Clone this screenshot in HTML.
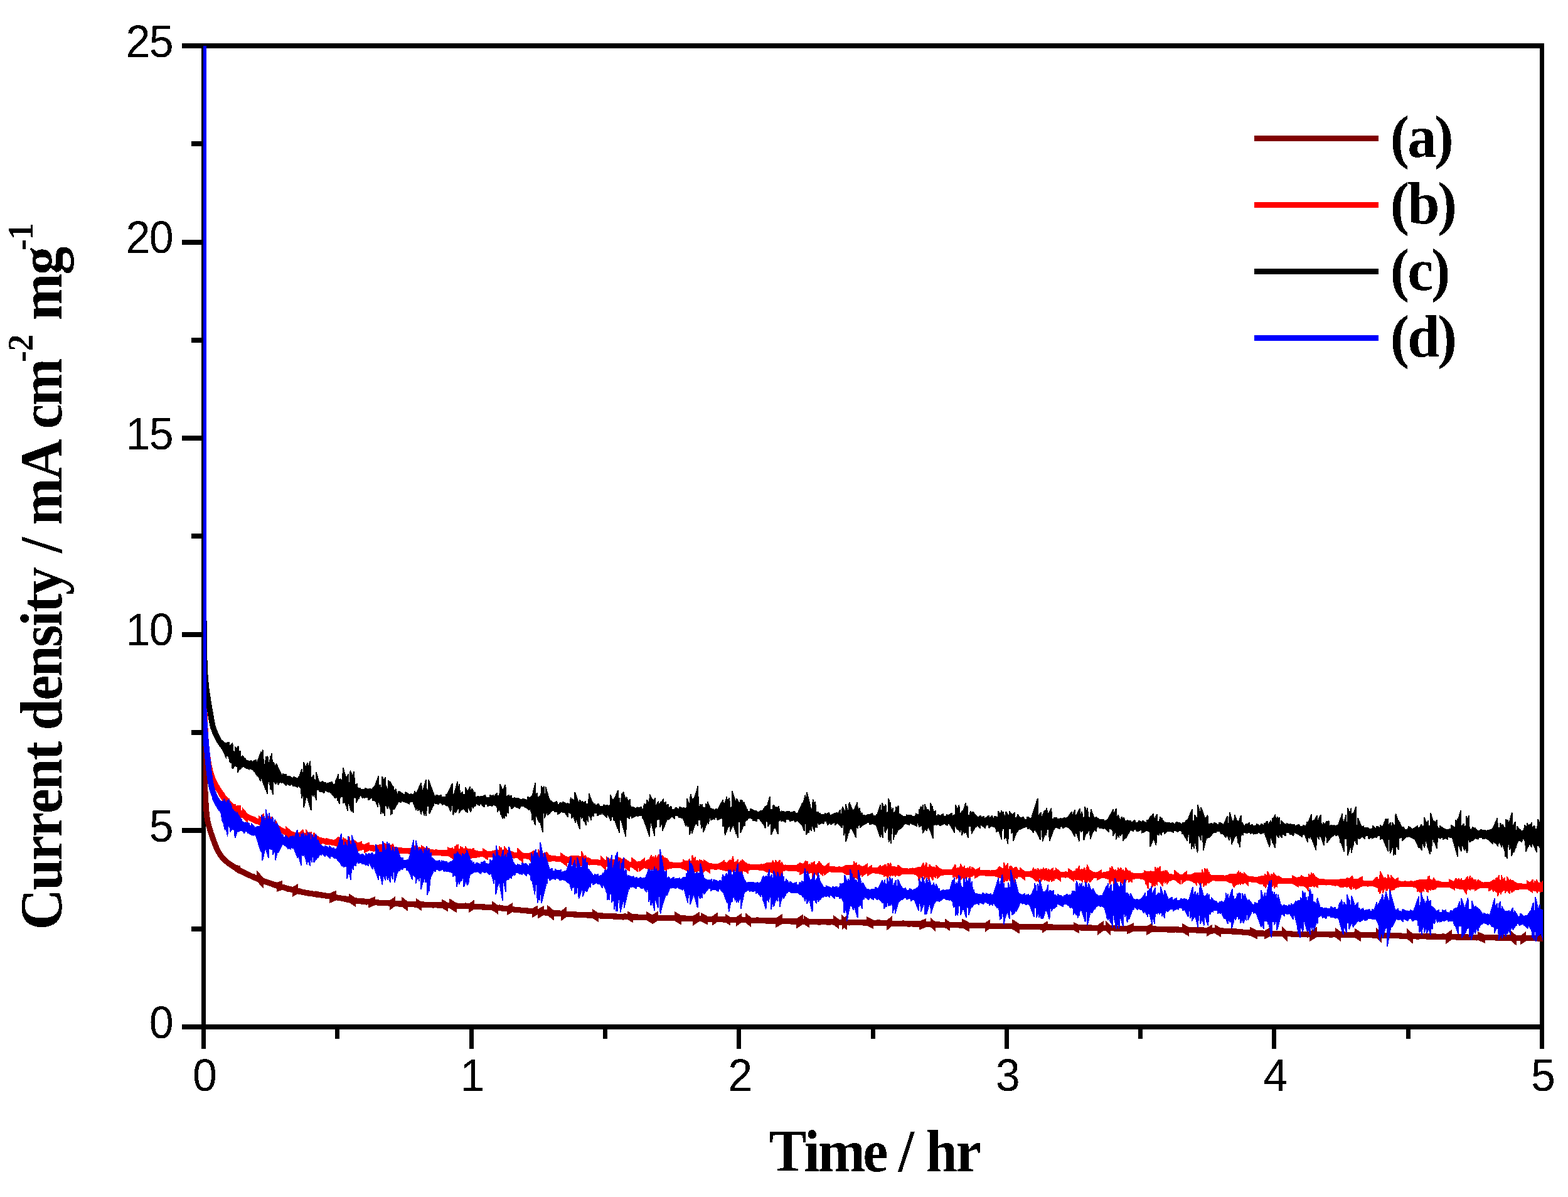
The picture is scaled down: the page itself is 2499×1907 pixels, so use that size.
<!DOCTYPE html>
<html lang="en">
<head>
<meta charset="utf-8">
<title>Chronoamperometry: current density vs time</title>
<style>
html,body{margin:0;padding:0;background:#fff;}
body{width:2499px;height:1907px;overflow:hidden;}
svg{display:block;}
text{font-kerning:none;filter:url(#crisp);}
.tick{font-family:"Liberation Sans",Arial,Helvetica,sans-serif;font-size:71.7px;fill:#000;letter-spacing:-1.5px;}
.ttl{font-family:"Liberation Serif","Times New Roman",Times,serif;font-weight:bold;font-size:96px;fill:#000;letter-spacing:-2.7px;}
.leg{font-family:"Liberation Serif","Times New Roman",Times,serif;font-weight:bold;font-size:96px;fill:#000;letter-spacing:-3.4px;}
.sup{font-size:58px;letter-spacing:-1px;}
.ax{fill:#000;shape-rendering:crispEdges;}
.ln{fill:none;stroke-width:9;stroke-linejoin:round;stroke-linecap:butt;shape-rendering:crispEdges;}
.bd{stroke:none;shape-rendering:crispEdges;}
</style>
</head>
<body>
<svg width="2499" height="1907" viewBox="0 0 2499 1907" role="img" aria-label="Current density versus time for samples (a) to (d)">
<rect x="0" y="0" width="2499" height="1907" fill="#fff"/>
<defs><filter id="crisp" x="-5%" y="-5%" width="110%" height="110%" color-interpolation-filters="sRGB"><feComponentTransfer><feFuncA type="discrete" tableValues="0 1"/></feComponentTransfer></filter><clipPath id="plot"><rect x="324" y="73" width="2135" height="1563"/></clipPath></defs>
<g class="ax">
<rect x="321" y="69" width="7" height="1602"/>
<rect x="2454" y="69" width="7" height="1602"/>
<rect x="290" y="69" width="2171" height="8"/>
<rect x="290" y="1632" width="2171" height="8"/>
<rect x="290" y="1319" width="31" height="8"/>
<rect x="290" y="1007" width="31" height="8"/>
<rect x="290" y="694" width="31" height="8"/>
<rect x="290" y="382" width="31" height="8"/>
<rect x="305" y="1476" width="16" height="8"/>
<rect x="305" y="1163" width="16" height="8"/>
<rect x="305" y="850" width="16" height="8"/>
<rect x="305" y="538" width="16" height="8"/>
<rect x="305" y="225" width="16" height="8"/>
<rect x="748" y="1640" width="7" height="31"/>
<rect x="1174" y="1640" width="7" height="31"/>
<rect x="1601" y="1640" width="7" height="31"/>
<rect x="2027" y="1640" width="7" height="31"/>
<rect x="534" y="1640" width="7" height="15"/>
<rect x="961" y="1640" width="7" height="15"/>
<rect x="1388" y="1640" width="7" height="15"/>
<rect x="1814" y="1640" width="7" height="15"/>
<rect x="2241" y="1640" width="7" height="15"/>
</g>
<g class="tick">
<text transform="translate(275.3,1653.6) scale(0.976,1)" text-anchor="end">0</text>
<text transform="translate(275.3,1341.0) scale(0.976,1)" text-anchor="end">5</text>
<text transform="translate(275.3,1028.4) scale(0.976,1)" text-anchor="end">10</text>
<text transform="translate(275.3,715.8) scale(0.976,1)" text-anchor="end">15</text>
<text transform="translate(275.3,403.2) scale(0.976,1)" text-anchor="end">20</text>
<text transform="translate(275.3,90.6) scale(0.976,1)" text-anchor="end">25</text>
<text transform="translate(325.7,1738.2) scale(0.976,1)" text-anchor="middle">0</text>
<text transform="translate(752.3,1738.2) scale(0.976,1)" text-anchor="middle">1</text>
<text transform="translate(1178.9,1738.2) scale(0.976,1)" text-anchor="middle">2</text>
<text transform="translate(1605.5,1738.2) scale(0.976,1)" text-anchor="middle">3</text>
<text transform="translate(2032.1,1738.2) scale(0.976,1)" text-anchor="middle">4</text>
<text transform="translate(2458.7,1738.2) scale(0.976,1)" text-anchor="middle">5</text>
</g>
<text class="ttl" transform="translate(1225.4,1866.2) scale(0.940,1)" dx="0 -1.6 0 -1.6 0 -1 0 1.5 0">Time / hr</text>
<text class="ttl" transform="translate(98,1481.5) rotate(-90) scale(0.940,1)" dx="0 0 0 0 0 0 0 0 0 0 0 0 0 0 0 0 4.6 0 1.8 0 0 -2 0">Current density / mA cm<tspan class="sup" x="962.2" dy="-45.9">-2</tspan><tspan x="1011.8" dy="45.9"> mg</tspan><tspan class="sup" x="1151.5" dy="-45.9">-1</tspan></text>
<g clip-path="url(#plot)">
<polyline class="ln" stroke="#800000" points="324.5,-400 324.5,-397 324.5,-394 324.5,-391 324.5,-388 324.5,-385 324.5,-382 324.5,-379 324.5,-376 324.5,-373 324.5,-370 324.5,-367 324.5,-364 324.5,-361 324.5,-358 324.5,-355 324.5,-351.9 324.5,-348.9 324.5,-345.9 324.5,-342.9 324.5,-339.9 324.5,-336.9 324.5,-333.9 324.5,-330.9 324.5,-327.9 324.5,-324.9 324.5,-321.9 324.5,-318.9 324.5,-315.9 324.5,-312.9 324.5,-309.9 324.5,-306.9 324.5,-303.9 324.5,-300.9 324.5,-297.9 324.5,-294.9 324.5,-291.9 324.5,-288.9 324.5,-285.9 324.5,-282.9 324.5,-279.9 324.5,-276.9 324.5,-273.9 324.5,-270.9 324.5,-267.9 324.5,-264.9 324.5,-261.9 324.5,-258.9 324.5,-255.9 324.5,-252.9 324.5,-249.9 324.5,-246.8 324.5,-243.8 324.5,-240.8 324.5,-237.8 324.5,-234.8 324.5,-231.8 324.5,-228.8 324.5,-225.8 324.5,-222.8 324.5,-219.8 324.5,-216.8 324.5,-213.8 324.5,-210.8 324.5,-207.8 324.5,-204.8 324.5,-201.8 324.5,-198.8 324.5,-195.8 324.5,-192.8 324.5,-189.8 324.5,-186.8 324.5,-183.8 324.5,-180.8 324.5,-177.8 324.5,-174.8 324.5,-171.8 324.5,-168.8 324.5,-165.8 324.5,-162.8 324.5,-159.8 324.5,-156.8 324.5,-153.8 324.5,-150.8 324.5,-147.8 324.5,-144.8 324.5,-141.8 324.5,-138.8 324.5,-135.8 324.5,-132.8 324.5,-129.8 324.5,-126.8 324.5,-123.8 324.5,-120.8 324.5,-117.8 324.5,-114.8 324.5,-111.7 324.5,-108.7 324.5,-105.7 324.5,-102.7 324.5,-99.7 324.5,-96.7 324.5,-93.7 324.5,-90.7 324.5,-87.7 324.5,-84.7 324.5,-81.7 324.5,-78.7 324.5,-75.7 324.5,-72.7 324.5,-69.7 324.5,-66.7 324.5,-63.7 324.5,-60.7 324.5,-57.7 324.5,-54.7 324.5,-51.7 324.5,-48.7 324.5,-45.7 324.5,-42.7 324.5,-39.7 324.5,-36.7 324.5,-33.7 324.5,-30.7 324.5,-27.7 324.5,-24.7 324.5,-21.7 324.5,-18.7 324.5,-15.7 324.5,-12.7 324.5,-9.7 324.5,-6.7 324.5,-3.7 324.5,-0.7 324.5,2.3 324.5,5.3 324.5,8.3 324.5,11.3 324.5,14.3 324.5,17.3 324.5,20.3 324.5,23.3 324.5,26.3 324.5,29.3 324.5,32.3 324.5,35.3 324.5,38.3 324.5,41.3 324.5,44.3 324.5,47.3 324.5,50.3 324.5,53.3 324.5,56.3 324.5,59.3 324.5,62.3 324.5,65.3 324.5,68.3 324.5,71.3 324.5,74.3 324.5,77.3 324.5,80.3 324.5,83.3 324.5,86.3 324.5,89.3 324.5,92.3 324.5,95.3 324.5,98.3 324.5,101.3 324.5,104.3 324.5,107.4 324.5,110.4 324.5,113.4 324.5,116.4 324.5,119.4 324.5,122.4 324.5,125.4 324.5,128.4 324.5,131.4 324.5,134.4 324.5,137.4 324.5,140.4 324.5,143.4 324.5,146.4 324.5,149.4 324.5,152.4 324.5,155.4 324.5,158.4 324.5,161.4 324.5,164.4 324.5,167.4 324.5,170.4 324.5,173.4 324.5,176.4 324.5,179.4 324.5,182.4 324.5,185.4 324.5,188.4 324.5,191.4 324.5,194.4 324.5,197.4 324.5,200.4 324.5,203.4 324.5,206.4 324.5,209.4 324.5,212.4 324.5,215.4 324.5,218.4 324.5,221.4 324.5,224.4 324.5,227.4 324.5,230.4 324.5,233.4 324.5,236.4 324.5,239.4 324.5,242.4 324.5,245.4 324.5,248.4 324.5,251.4 324.5,254.4 324.5,257.4 324.5,260.4 324.5,263.4 324.5,266.4 324.5,269.4 324.5,272.4 324.5,275.4 324.5,278.4 324.5,281.4 324.5,284.4 324.5,287.4 324.5,290.4 324.5,293.4 324.5,296.4 324.5,299.4 324.5,302.4 324.5,305.4 324.5,308.4 324.5,311.4 324.5,314.4 324.5,317.4 324.5,320.4 324.5,323.4 324.5,326.4 324.5,329.4 324.5,332.4 324.5,335.4 324.5,338.4 324.5,341.4 324.5,344.4 324.5,347.4 324.5,350.4 324.5,353.4 324.5,356.4 324.5,359.4 324.5,362.4 324.5,365.4 324.5,368.4 324.5,371.4 324.5,374.4 324.5,377.4 324.5,380.4 324.5,383.4 324.5,386.4 324.5,389.4 324.5,392.4 324.5,395.4 324.5,398.4 324.5,401.4 324.5,404.4 324.5,407.4 324.5,410.4 324.5,413.4 324.5,416.4 324.5,419.4 324.5,422.4 324.5,425.4 324.5,428.4 324.5,431.4 324.5,434.4 324.5,437.4 324.5,440.4 324.5,443.4 324.5,446.4 324.5,449.4 324.5,452.4 324.5,455.4 324.5,458.4 324.5,461.4 324.5,464.4 324.5,467.4 324.5,470.4 324.5,473.4 324.5,476.4 324.5,479.4 324.5,482.4 324.5,485.4 324.5,488.4 324.5,491.4 324.5,494.4 324.5,497.4 324.5,500.4 324.5,503.4 324.5,506.4 324.5,509.4 324.5,512.4 324.5,515.4 324.5,518.4 324.5,521.4 324.5,524.4 324.5,527.4 324.5,530.4 324.5,533.4 324.5,536.4 324.5,539.4 324.5,542.4 324.5,545.4 324.5,548.4 324.5,551.4 324.5,554.4 324.5,557.4 324.5,560.4 324.5,563.4 324.5,566.4 324.5,569.3 324.5,572.3 324.5,575.3 324.5,578.3 324.5,581.3 324.5,584.3 324.5,587.3 324.5,590.3 324.5,593.3 324.5,596.3 324.5,599.3 324.5,602.3 324.5,605.3 324.5,608.3 324.5,611.3 324.5,614.3 324.5,617.3 324.5,620.3 324.5,623.3 324.5,626.3 324.5,629.3 324.5,632.3 324.5,635.3 324.5,638.3 324.5,641.3 324.5,644.3 324.5,647.3 324.5,650.3 324.5,653.3 324.5,656.3 324.5,659.3 324.5,662.3 324.5,665.3 324.5,668.3 324.5,671.3 324.5,674.3 324.5,677.3 324.5,680.3 324.5,683.3 324.5,686.3 324.5,689.3 324.5,692.3 324.5,695.3 324.5,698.3 324.5,701.3 324.5,704.3 324.5,707.3 324.5,710.3 324.5,713.3 324.5,716.3 324.5,719.3 324.5,722.3 324.5,725.3 324.5,728.3 324.5,731.3 324.5,734.3 324.5,737.3 324.5,740.3 324.5,743.3 324.5,746.3 324.5,749.3 324.5,752.3 324.5,755.3 324.5,758.3 324.5,761.3 324.5,764.3 324.5,767.3 324.5,770.3 324.5,773.3 324.5,776.3 324.5,779.3 324.5,782.3 324.5,785.3 324.5,788.3 324.5,791.3 324.5,794.3 324.5,797.3 324.5,800.3 324.5,803.3 324.5,806.3 324.5,809.3 324.5,812.3 324.5,815.3 324.5,818.3 324.5,821.3 324.5,824.2 324.5,827.2 324.5,830.2 324.5,833.2 324.5,836.2 324.5,839.2 324.5,842.2 324.5,845.2 324.5,848.2 324.5,851.2 324.5,854.2 324.5,857.2 324.5,860.2 324.5,863.2 324.5,866.2 324.5,869.2 324.5,872.2 324.5,875.2 324.5,878.2 324.5,881.2 324.5,884.2 324.5,887.2 324.5,890.2 324.5,893.2 324.5,896.2 324.5,899.2 324.5,902.2 324.5,905.2 324.5,908.2 324.5,911.2 324.5,914.2 324.5,917.2 324.5,920.2 324.5,923.2 324.5,926.2 324.5,929.2 324.5,932.2 324.5,935.2 324.5,938.2 324.5,941.2 324.5,944.2 324.5,947.2 324.5,950.2 324.5,953.2 324.5,956.2 324.5,959.2 324.5,962.2 324.5,965.2 324.5,968.2 324.5,971.2 324.5,974.2 324.5,977.2 324.5,980.2 324.5,983.2 324.5,986.2 324.5,989.2 324.5,992.2 324.5,995.2 324.5,998.1 324.5,1001.1 324.5,1004.1 324.5,1007.1 324.5,1010.1 324.5,1013.1 324.5,1016.1 324.5,1019.1 324.5,1022.1 324.5,1025.1 324.5,1028.1 324.5,1031.1 324.5,1034.1 324.5,1037.1 324.5,1040.1 324.5,1043.1 324.5,1046.1 324.5,1049.1 324.5,1052.1 324.5,1055.1 324.5,1058.1 324.5,1061.1 324.5,1064.1 324.5,1067.1 324.5,1070.1 324.5,1073.1 324.5,1076.1 324.5,1079.1 324.5,1082.1 324.5,1085.1 324.5,1088.1 324.5,1091.1 324.5,1094.1 324.5,1097.1 324.5,1100.1 324.5,1103.1 324.5,1106.1 324.5,1109.1 324.5,1112.1 324.5,1115.1 324.5,1118.1 324.5,1121.1 324.5,1124.1 324.5,1127.1 324.5,1130.1 324.5,1133.1 324.5,1136.1 324.5,1139.1 324.5,1142.1 324.5,1145 324.5,1148 324.5,1151 324.5,1154 324.5,1157 324.5,1160 324.5,1163 324.5,1166 324.5,1169 324.5,1172 324.5,1175 324.5,1178 324.5,1181 324.5,1184 324.5,1187 324.5,1190 324.5,1193 324.5,1196 324.5,1199 324.5,1202 324.5,1205 324.5,1208 324.5,1211 324.5,1214 324.6,1217 324.7,1220 324.9,1223 325.1,1226 325.2,1229 325.4,1232 325.6,1235 325.8,1238 325.9,1241 326.1,1244 326.2,1247 326.4,1250 326.6,1252.9 326.8,1255.9 326.9,1258.9 327.1,1261.9 327.3,1264.9 327.4,1267.9 327.6,1270.9 327.8,1274 327.9,1277 328.1,1280 328.3,1283 328.5,1286 328.7,1289 328.9,1291.9 329.2,1294.9 329.5,1297.9 329.8,1300.8 330.2,1303.8 330.7,1306.7 331.3,1309.6 332,1312.6 332.8,1315.5 333.6,1318.4 334.5,1321.3 335.4,1324.2 336.3,1327.1 337.3,1329.9 338.3,1332.8 339.3,1335.6 340.2,1338.4 341.3,1341.3 342.4,1344.1 343.5,1347 344.7,1349.9 345.9,1352.7 347.3,1355.4 348.7,1358 350.2,1360.6 351.7,1362.9 353.4,1365.2 355.3,1367.4 357.4,1369.5 359.7,1371.5 362,1373.5 364.5,1375.4 367,1377.2 369.5,1379 372,1380.7 374.5,1382.3 377,1383.9 379.6,1385.4 382.2,1386.9 384.9,1388.3 387.6,1389.7 390.3,1391 393,1392.3 395.7,1393.6 398.5,1394.8 401.2,1396 404,1397.2 406.7,1398.3 409.5,1399.5 412.3,1400.6 415.1,1401.7 417.9,1402.7 420.7,1403.8 423.5,1404.8 426.4,1405.9 429.2,1406.8 432.1,1407.8 434.9,1408.7 437.8,1409.7 440.7,1410.6 443.5,1411.4 446.4,1412.3 449.3,1413.1 452.1,1413.9 455,1414.7 457.9,1415.5 460.8,1416.2 463.8,1417 466.7,1417.7 469.6,1418.4 472.5,1419.1 475.5,1419.8 478.4,1420.4 481.3,1421 484.3,1421.6 487.2,1422.2 490.2,1422.7 493.1,1423.2 496.1,1423.7 499,1424.1 502,1424.5 505,1424.9 508,1425.3 510.9,1425.7 513.9,1426.1 516.9,1426.6 519.9,1427 522.8,1427.5 525.8,1428 528.7,1428.5 531.7,1429 534.7,1429.5 537.6,1430 540.6,1430.6 543.5,1431.1 546.5,1431.6 549.5,1432.1 552.4,1432.6 555.4,1433.1 558.4,1433.6 561.3,1434 564.3,1434.5 567.3,1434.9 570.2,1435.3 573.2,1435.6 576.2,1436 579.1,1436.3 582.1,1436.5 585.1,1436.8 588.1,1437 591.1,1437.2 594.1,1437.5 597.1,1437.7 600,1437.9 603,1438.1 606,1438.2 609,1438.4 612,1438.6 615,1438.8 618,1438.9 621,1439.1 624,1439.2 627,1439.4 630,1439.5 633,1439.7 636,1439.8 639,1439.9 642,1440.1 645,1440.2 648,1440.3 651,1440.4 654,1440.5 657,1440.6 660,1440.7 663,1440.8 666,1440.9 669,1441 672,1441.1 675,1441.2 678,1441.3 681,1441.4 684,1441.5 687,1441.6 690,1441.7 693,1441.8 696,1441.9 699,1442 702,1442.1 705,1442.2 708,1442.3 711,1442.4 714,1442.5 717,1442.7 720,1442.8 723,1442.9 726,1443 729,1443.1 732,1443.2 735,1443.4 738,1443.5 741,1443.6 744,1443.7 747,1443.9 750,1444 753,1444.1 756,1444.3 759,1444.4 762,1444.6 764.9,1444.7 767.9,1444.9 770.9,1445 773.9,1445.2 776.9,1445.4 779.9,1445.5 782.9,1445.7 785.9,1445.9 788.9,1446.1 791.9,1446.3 794.9,1446.5 797.9,1446.8 800.8,1447 803.8,1447.3 806.8,1447.6 809.8,1447.9 812.8,1448.3 815.8,1448.6 818.8,1448.9 821.7,1449.2 824.7,1449.6 827.7,1449.9 830.7,1450.2 833.7,1450.5 836.7,1450.8 839.7,1451 842.6,1451.3 845.6,1451.6 848.6,1451.9 851.6,1452.1 854.6,1452.4 857.6,1452.7 860.6,1452.9 863.6,1453.2 866.5,1453.5 869.5,1453.7 872.5,1454 875.5,1454.2 878.5,1454.5 881.5,1454.7 884.5,1454.9 887.5,1455.2 890.5,1455.4 893.5,1455.6 896.5,1455.8 899.5,1456 902.4,1456.1 905.4,1456.3 908.4,1456.5 911.4,1456.7 914.4,1456.8 917.4,1457 920.4,1457.2 923.4,1457.3 926.4,1457.5 929.4,1457.7 932.4,1457.8 935.4,1458 938.4,1458.1 941.4,1458.3 944.4,1458.4 947.4,1458.5 950.4,1458.7 953.4,1458.8 956.4,1459 959.4,1459.1 962.4,1459.2 965.4,1459.4 968.4,1459.5 971.4,1459.6 974.4,1459.7 977.4,1459.9 980.4,1460 983.4,1460.1 986.3,1460.2 989.3,1460.3 992.3,1460.4 995.3,1460.5 998.3,1460.6 1001.3,1460.7 1004.3,1460.8 1007.3,1460.9 1010.3,1461 1013.3,1461.1 1016.3,1461.2 1019.3,1461.3 1022.3,1461.4 1025.3,1461.5 1028.3,1461.6 1031.3,1461.7 1034.3,1461.7 1037.3,1461.8 1040.3,1461.9 1043.3,1462 1046.3,1462 1049.3,1462.1 1052.3,1462.2 1055.3,1462.3 1058.3,1462.3 1061.3,1462.4 1064.3,1462.5 1067.3,1462.5 1070.3,1462.6 1073.3,1462.7 1076.3,1462.8 1079.3,1462.8 1082.3,1462.9 1085.3,1463 1088.3,1463.1 1091.3,1463.1 1094.3,1463.2 1097.3,1463.3 1100.3,1463.4 1103.3,1463.4 1106.3,1463.5 1109.3,1463.6 1112.3,1463.7 1115.3,1463.7 1118.3,1463.8 1121.3,1463.9 1124.3,1463.9 1127.3,1464 1130.3,1464.1 1133.3,1464.2 1136.3,1464.2 1139.3,1464.3 1142.3,1464.4 1145.3,1464.5 1148.3,1464.5 1151.3,1464.6 1154.3,1464.7 1157.3,1464.8 1160.3,1464.9 1163.3,1465 1166.3,1465 1169.3,1465.1 1172.3,1465.2 1175.3,1465.3 1178.3,1465.4 1181.3,1465.5 1184.3,1465.6 1187.3,1465.7 1190.3,1465.8 1193.3,1465.9 1196.3,1466 1199.3,1466 1202.3,1466.1 1205.3,1466.2 1208.3,1466.3 1211.3,1466.4 1214.3,1466.5 1217.3,1466.6 1220.3,1466.7 1223.3,1466.8 1226.3,1466.9 1229.3,1467 1232.3,1467 1235.3,1467.1 1238.3,1467.2 1241.2,1467.3 1244.2,1467.4 1247.2,1467.5 1250.2,1467.5 1253.2,1467.6 1256.2,1467.7 1259.2,1467.8 1262.2,1467.9 1265.2,1467.9 1268.2,1468 1271.2,1468.1 1274.2,1468.2 1277.2,1468.2 1280.2,1468.3 1283.2,1468.3 1286.2,1468.4 1289.2,1468.4 1292.2,1468.5 1295.2,1468.5 1298.2,1468.5 1301.2,1468.6 1304.2,1468.6 1307.2,1468.6 1310.2,1468.7 1313.2,1468.7 1316.2,1468.7 1319.2,1468.8 1322.2,1468.8 1325.2,1468.8 1328.2,1468.9 1331.2,1468.9 1334.2,1469 1337.2,1469 1340.2,1469.1 1343.2,1469.1 1346.2,1469.2 1349.2,1469.2 1352.2,1469.3 1355.2,1469.4 1358.2,1469.4 1361.2,1469.5 1364.2,1469.5 1367.2,1469.6 1370.2,1469.7 1373.2,1469.7 1376.2,1469.8 1379.2,1469.9 1382.2,1470 1385.2,1470 1388.2,1470.1 1391.2,1470.2 1394.2,1470.3 1397.2,1470.3 1400.2,1470.4 1403.2,1470.5 1406.2,1470.6 1409.2,1470.7 1412.2,1470.8 1415.2,1470.8 1418.2,1470.9 1421.2,1471 1424.2,1471.1 1427.2,1471.2 1430.2,1471.3 1433.2,1471.3 1436.2,1471.4 1439.2,1471.5 1442.2,1471.6 1445.2,1471.7 1448.2,1471.8 1451.2,1471.9 1454.2,1471.9 1457.2,1472 1460.2,1472.1 1463.2,1472.2 1466.2,1472.3 1469.2,1472.4 1472.2,1472.4 1475.2,1472.5 1478.2,1472.6 1481.2,1472.7 1484.2,1472.8 1487.2,1472.9 1490.2,1472.9 1493.2,1473 1496.2,1473.1 1499.2,1473.2 1502.2,1473.2 1505.2,1473.3 1508.2,1473.4 1511.2,1473.5 1514.2,1473.5 1517.2,1473.6 1520.2,1473.7 1523.2,1473.7 1526.2,1473.8 1529.2,1473.9 1532.2,1473.9 1535.2,1474 1538.2,1474.1 1541.2,1474.2 1544.2,1474.2 1547.2,1474.3 1550.2,1474.4 1553.2,1474.4 1556.2,1474.5 1559.2,1474.6 1562.2,1474.7 1565.2,1474.7 1568.2,1474.8 1571.2,1474.9 1574.2,1474.9 1577.2,1475 1580.2,1475.1 1583.2,1475.1 1586.2,1475.2 1589.2,1475.3 1592.2,1475.3 1595.2,1475.4 1598.2,1475.5 1601.2,1475.6 1604.2,1475.6 1607.1,1475.7 1610.1,1475.8 1613.1,1475.8 1616.1,1475.9 1619.1,1476 1622.1,1476 1625.1,1476.1 1628.1,1476.1 1631.1,1476.2 1634.1,1476.3 1637.1,1476.3 1640.1,1476.4 1643.1,1476.5 1646.1,1476.5 1649.1,1476.6 1652.1,1476.7 1655.1,1476.7 1658.1,1476.8 1661.1,1476.8 1664.1,1476.9 1667.1,1477 1670.1,1477 1673.1,1477.1 1676.1,1477.1 1679.1,1477.2 1682.1,1477.2 1685.1,1477.3 1688.1,1477.4 1691.1,1477.4 1694.1,1477.5 1697.1,1477.5 1700.1,1477.6 1703.1,1477.6 1706.1,1477.7 1709.1,1477.7 1712.1,1477.8 1715.1,1477.8 1718.1,1477.9 1721.1,1477.9 1724.1,1478 1727.1,1478 1730.1,1478.1 1733.1,1478.1 1736.1,1478.2 1739.1,1478.2 1742.1,1478.3 1745.1,1478.3 1748.1,1478.4 1751.1,1478.4 1754.1,1478.5 1757.1,1478.5 1760.1,1478.6 1763.1,1478.6 1766.1,1478.7 1769.1,1478.7 1772.1,1478.8 1775.1,1478.9 1778.1,1478.9 1781.1,1479 1784.1,1479 1787.1,1479.1 1790.1,1479.1 1793.1,1479.2 1796.1,1479.3 1799.1,1479.3 1802.1,1479.4 1805.1,1479.4 1808.1,1479.5 1811.1,1479.5 1814.1,1479.6 1817.1,1479.7 1820.1,1479.7 1823.1,1479.8 1826.1,1479.9 1829.1,1479.9 1832.1,1480 1835.1,1480 1838.1,1480.1 1841.1,1480.2 1844.1,1480.2 1847.1,1480.3 1850.1,1480.4 1853.1,1480.5 1856.1,1480.5 1859.1,1480.6 1862.1,1480.7 1865.1,1480.7 1868.1,1480.8 1871.1,1480.9 1874.1,1481 1877.1,1481 1880.1,1481.1 1883.1,1481.2 1886.1,1481.3 1889.1,1481.3 1892.1,1481.4 1895.1,1481.5 1898.1,1481.6 1901.1,1481.6 1904.1,1481.7 1907.1,1481.8 1910.1,1481.9 1913.1,1482 1916.1,1482.1 1919.1,1482.2 1922.1,1482.2 1925.1,1482.3 1928.1,1482.4 1931.1,1482.5 1934.1,1482.6 1937.1,1482.7 1940.1,1482.9 1943.1,1483 1946.1,1483.1 1949.1,1483.2 1952.1,1483.3 1955.1,1483.4 1958.1,1483.6 1961.1,1483.7 1964.1,1483.8 1967,1484 1970,1484.2 1973,1484.4 1976,1484.6 1979,1484.9 1982,1485.1 1985,1485.4 1988,1485.7 1991,1485.9 1994,1486.1 1997,1486.4 2000,1486.6 2002.9,1486.8 2005.9,1486.9 2008.9,1487 2011.9,1487.1 2014.9,1487.2 2017.9,1487.3 2020.9,1487.3 2023.9,1487.4 2026.9,1487.5 2029.9,1487.5 2032.9,1487.6 2035.9,1487.6 2038.9,1487.7 2041.9,1487.7 2044.9,1487.8 2047.9,1487.8 2050.9,1487.9 2053.9,1487.9 2056.9,1488 2059.9,1488 2062.9,1488.1 2065.9,1488.1 2068.9,1488.1 2071.9,1488.2 2074.9,1488.2 2077.9,1488.3 2080.9,1488.3 2083.9,1488.3 2086.9,1488.4 2089.9,1488.4 2092.9,1488.4 2095.9,1488.5 2098.9,1488.5 2101.9,1488.5 2104.9,1488.6 2107.9,1488.6 2110.9,1488.6 2113.9,1488.7 2116.9,1488.7 2119.9,1488.7 2122.9,1488.7 2125.9,1488.8 2128.9,1488.8 2131.9,1488.9 2134.9,1488.9 2137.9,1488.9 2140.9,1489 2143.9,1489 2146.9,1489.1 2149.9,1489.1 2152.9,1489.2 2155.9,1489.2 2158.9,1489.3 2161.9,1489.4 2164.9,1489.4 2167.9,1489.5 2170.9,1489.5 2173.9,1489.6 2176.9,1489.7 2179.9,1489.7 2182.9,1489.8 2185.9,1489.9 2188.9,1489.9 2191.9,1490 2194.9,1490.1 2197.9,1490.2 2200.9,1490.2 2203.9,1490.3 2206.9,1490.4 2209.9,1490.4 2212.9,1490.5 2215.9,1490.6 2218.9,1490.7 2221.9,1490.7 2224.9,1490.8 2227.9,1490.9 2230.9,1491 2233.9,1491 2236.9,1491.1 2239.9,1491.2 2242.9,1491.3 2245.9,1491.3 2248.9,1491.4 2251.9,1491.5 2254.9,1491.6 2257.9,1491.6 2260.9,1491.7 2263.9,1491.8 2266.9,1491.8 2269.9,1491.9 2272.9,1492 2275.9,1492 2278.9,1492.1 2281.9,1492.2 2284.9,1492.2 2287.9,1492.3 2290.9,1492.4 2293.9,1492.4 2296.9,1492.5 2299.9,1492.5 2302.9,1492.6 2305.9,1492.6 2308.9,1492.7 2311.9,1492.7 2314.9,1492.8 2317.9,1492.8 2320.9,1492.9 2323.9,1492.9 2326.9,1493 2329.9,1493 2332.9,1493.1 2335.9,1493.1 2338.9,1493.2 2341.9,1493.2 2344.9,1493.3 2347.9,1493.3 2350.9,1493.4 2353.9,1493.4 2356.9,1493.5 2359.9,1493.5 2362.9,1493.6 2365.9,1493.6 2368.9,1493.7 2371.9,1493.7 2374.9,1493.7 2377.9,1493.8 2380.9,1493.8 2383.9,1493.9 2386.9,1493.9 2389.9,1494 2392.9,1494 2395.9,1494.1 2398.9,1494.1 2401.9,1494.1 2404.9,1494.2 2407.9,1494.2 2410.9,1494.3 2413.9,1494.3 2416.9,1494.4 2419.9,1494.4 2422.9,1494.5 2425.9,1494.5 2428.9,1494.5 2431.9,1494.6 2434.9,1494.6 2437.9,1494.7 2440.9,1494.7 2443.9,1494.8 2446.9,1494.8 2449.9,1494.8 2452.9,1494.9 2455.9,1494.9 2458.9,1495 2461.9,1495 2464.9,1495"/>
<polygon class="bd" fill="#800000" points="372,1375.2 377,1378.2 382,1379.2 382.5,1379.3 383,1382.2 392,1386.5 395.5,1388.5 403,1391.8 405,1392.2 409,1394.3 409.5,1387.1 411,1388.5 420,1398.7 438.5,1405.2 439,1404.8 442,1405.7 449.5,1402.9 450,1408.4 454.5,1409.6 458.5,1410.9 466.5,1412.8 474.5,1408.3 475,1414.5 483.5,1416.9 502,1420 503,1419.3 512,1421.3 524.5,1423.1 526.5,1422.6 536,1418.5 536.5,1425.3 547.5,1427 548,1426.4 555.5,1428.4 556,1423.2 566.5,1430.2 577,1431.3 580,1431.4 588,1432.5 597.5,1428.2 598,1433.2 614.5,1434 616.5,1433.7 621,1434.6 629.5,1428.4 630,1434.7 637.5,1435.4 640,1435.5 640.5,1428.9 649.5,1435.9 657.5,1436 663,1436.3 663.5,1431.2 670.5,1436 680.5,1436.9 698,1437.3 701,1437.1 703.5,1437.5 704,1432.3 714,1438 716,1438.1 716.5,1431.6 726.5,1437.9 728.5,1437.9 729.5,1438.6 740,1439.1 741,1438.3 748,1439.2 755,1434.1 755.5,1434.1 756,1439.8 773,1440.5 777.5,1440.8 784,1441.3 784.5,1435.6 793.5,1441.9 795.5,1441.3 804.5,1442.9 807,1442.8 809,1443 816.5,1438.4 817,1444.2 829,1445.4 848.5,1447.1 857,1442.4 857.5,1448.1 867,1443 867.5,1449 872,1448.9 872.5,1442.3 874,1443.2 882.5,1450.3 892.5,1450.1 893.5,1451.1 895,1450.5 903,1444.3 903.5,1451.7 913.5,1451.9 917.5,1452.1 919.5,1452.6 939,1453.4 944,1453.2 944.5,1448.2 953.5,1454.3 965,1454.6 968,1454.7 985,1455.6 993.5,1455.5 997.5,1455.4 999,1456.2 1000,1456.2 1000.5,1451.6 1008.5,1456.5 1012.5,1456.3 1016,1455.9 1018,1456.8 1030,1457 1030.5,1452.1 1039,1457.4 1040.5,1456.9 1048.5,1451.5 1049,1457.5 1074.5,1458 1075,1452 1086,1458.5 1091,1458.4 1099,1458.8 1105,1458.8 1114.5,1452.6 1115,1458.9 1117,1459.3 1117.5,1454.3 1127.5,1459.5 1135,1459.7 1143,1453.9 1143.5,1453.8 1144,1459.9 1153.5,1459.8 1155.5,1460.2 1156,1455.6 1163.5,1460.5 1174,1460.5 1181.5,1455.1 1182,1460.4 1187.5,1461 1188,1454.3 1192.5,1457.8 1197,1461.5 1205,1461.5 1208,1461.4 1215,1462 1236.5,1462.4 1246.5,1456.2 1247,1456.2 1247.5,1462.5 1253,1463.1 1269.5,1463.3 1279.5,1456.8 1280,1463.8 1281,1463.8 1281.5,1458.6 1289.5,1463.9 1297,1463.8 1316.5,1464.2 1318,1463.6 1327.5,1464.4 1328,1457.8 1337,1464.5 1341,1464.5 1341.5,1457.1 1342.5,1457.8 1345.5,1461 1346,1461 1350,1457.3 1350.5,1464.8 1363,1464.8 1366,1464.6 1380,1465.4 1380.5,1465.4 1381,1460 1392,1465.7 1399.5,1465.4 1403,1465.5 1405,1466.1 1413,1466.3 1421.5,1459.2 1422,1459.1 1422.5,1466.5 1438,1467 1438.5,1466.3 1452,1467.4 1464,1467.5 1467,1466.9 1476,1463.2 1476.5,1468.1 1482.5,1468.2 1483,1462 1490.5,1468.2 1505.5,1468.8 1506,1463.5 1508,1464.7 1513.5,1468.7 1533,1469.5 1533.5,1463.5 1545,1469.8 1559,1469.8 1565,1469.5 1566.5,1470.3 1570,1470.3 1577.5,1464.8 1578,1470.5 1584.5,1470.5 1612.5,1471.3 1613,1464.2 1624.5,1471.6 1640,1471.8 1651.5,1471.8 1655,1471.7 1657,1472.3 1661.5,1472.3 1669,1467.5 1669.5,1467.5 1670,1472.5 1672.5,1472.4 1710.5,1473.2 1711,1468.7 1719.5,1473.4 1730.5,1473.3 1749.5,1473.7 1757,1468.2 1758.5,1467.4 1759,1474.1 1761.5,1474.1 1762,1466.7 1763,1467.3 1770,1474.3 1780,1474 1781,1474.5 1797,1474.7 1806.5,1470.4 1807,1474.6 1814,1475.1 1827.5,1475.3 1837,1470 1837.5,1475.4 1858.5,1475.8 1862.5,1475.9 1870.5,1476.2 1884,1476.7 1884.5,1471.2 1894,1476.5 1900.5,1477.1 1910,1477.4 1916.5,1477.4 1924,1477.7 1931.5,1473.2 1932,1477.7 1935.5,1478.2 1936,1472.7 1945.5,1478.3 1950,1478.3 1951,1478.8 1961.5,1479.2 1963.5,1478.8 1976.5,1480.1 1991.5,1481.4 1992,1476.6 2003,1481.9 2007,1482.2 2015.5,1482.6 2023.5,1477.9 2024,1482.4 2032.5,1483.1 2042.5,1483.3 2043,1475.8 2044,1476.3 2050.5,1482.7 2060,1483.5 2077,1483.7 2088,1483.6 2098,1476.9 2098.5,1476.8 2099,1483.6 2111,1484.1 2120,1483.7 2121.5,1484.2 2127.5,1484.3 2128,1477.7 2137,1484.4 2144,1483.9 2144.5,1484.5 2157,1484.8 2158.5,1484.3 2159,1478.6 2168,1484.7 2174.5,1484.6 2175.5,1485.1 2193,1485.5 2193.5,1478.2 2201,1485.3 2204,1485.2 2205,1485.8 2213,1485.8 2214,1485.3 2221,1486.2 2238,1486.6 2242,1486.7 2242.5,1479.3 2251,1486.8 2255,1486.8 2281.5,1487.4 2288,1487.1 2289.5,1487.8 2297.5,1487.9 2299,1487.3 2304.5,1487.7 2313.5,1481.3 2314,1481.2 2314.5,1487.9 2320,1487.6 2321.5,1488.4 2340.5,1488.5 2355,1488.9 2355.5,1484.3 2366.5,1489 2381.5,1489 2385,1489.2 2406,1489.5 2407.5,1489.4 2408,1482.6 2416,1489.8 2424.5,1489.6 2432,1484.1 2432.5,1490.1 2452,1490.2 2461.5,1490.2 2461.5,1499.7 2432,1499.2 2425.5,1503.8 2423.5,1504.9 2423,1499 2417,1499 2416.5,1506 2416,1505.9 2408,1498.7 2395,1498.8 2383.5,1498.5 2367,1498.3 2366.5,1502.8 2356.5,1498.2 2354,1497.9 2353.5,1498.6 2347.5,1497.9 2333.5,1498 2331.5,1497.6 2323,1497.6 2313.5,1497.3 2304,1504.1 2303.5,1497.1 2287.5,1497 2284.5,1496.8 2262.5,1496.2 2261,1496.9 2252,1496 2251.5,1503.4 2251,1503.3 2242.5,1495.8 2232.5,1495.6 2213.5,1495 2212,1495.6 2208.5,1495.3 2202,1494.8 2201.5,1502 2193.5,1494.5 2186.5,1494.5 2169,1494 2168.5,1500.2 2161,1495 2159.5,1494.5 2158.5,1494 2142,1493.5 2140.5,1494.1 2137.5,1493.9 2137,1500 2128,1493.3 2118.5,1493.8 2116.5,1493.2 2103.5,1493.3 2098,1493.3 2087.5,1500 2087,1493.4 2083,1493.6 2082.5,1492.9 2082,1492.8 2068,1493.1 2067.5,1492.6 2052,1492.4 2051.5,1499.9 2051,1499.8 2043.5,1492.3 2030,1492 2023,1492.3 2015,1496.7 2014.5,1491.7 2013,1491.6 2004,1491.6 2003.5,1496.1 1993,1490.9 1987.5,1490.1 1979,1490.1 1978.5,1489.3 1977,1489.2 1954.5,1488.1 1946,1487.6 1945.5,1493 1936.5,1487.3 1931,1487.6 1923.5,1491.6 1923,1486.8 1920.5,1486.7 1918,1487 1914,1486.8 1895.5,1486.1 1895,1491.5 1894.5,1491.5 1885,1486 1873.5,1485.4 1872,1486.1 1867,1485.7 1860,1485.8 1859,1485.1 1837,1484.6 1827,1490 1826.5,1484.4 1806.5,1484 1796.5,1488.3 1796,1483.7 1784.5,1483.5 1783,1484.2 1779,1483.7 1770.5,1483.3 1770,1490.7 1762.5,1483.2 1760,1483.2 1757.5,1483.6 1749.5,1489.6 1749,1482.9 1745.5,1483.2 1741.5,1483 1736,1482.7 1723,1482.8 1721.5,1482.4 1720,1482.4 1719.5,1486.9 1711.5,1482.4 1699.5,1482.1 1683.5,1481.8 1682,1482.5 1677.5,1482 1669,1481.5 1661.5,1486.3 1661,1482.1 1659.5,1482.1 1658,1481.3 1641.5,1481.2 1625,1480.6 1624.5,1487.7 1613.5,1480.5 1600,1480.3 1596.5,1479.9 1577,1479.8 1570,1485 1569.5,1479.3 1556,1479 1551.5,1479.2 1545.5,1478.8 1545,1484.7 1534,1478.5 1528.5,1478.5 1514.5,1478 1514,1483.3 1508,1479 1506.5,1478.6 1505,1478 1493,1477.5 1491.5,1478.2 1491,1483.7 1490.5,1483.5 1483,1477.2 1476,1477.1 1465,1481.6 1464.5,1477.3 1462.5,1477.4 1461,1476.8 1451.5,1476.4 1450.5,1477.1 1446.5,1476.5 1435.5,1475.9 1434,1476.2 1421.5,1475.6 1413,1482.7 1412.5,1475.3 1412,1475.5 1408,1475.4 1392.5,1474.7 1392,1480.1 1382.5,1475 1378,1474.6 1355,1473.8 1353.5,1474.5 1350,1474.1 1349.5,1481.2 1349,1481.1 1346,1478 1345.5,1478 1344,1479.4 1342,1481.1 1341.5,1473.6 1337.5,1473.5 1337,1480.1 1328.5,1473.6 1325,1473.3 1323,1473.9 1313,1473.2 1304,1473.8 1303,1473.3 1290,1472.9 1289.5,1478.1 1281.5,1472.8 1279,1473 1269,1479.5 1268.5,1472.5 1260,1473 1259.5,1472.4 1246.5,1471.9 1236,1478.4 1235.5,1471.9 1232.5,1471.6 1221.5,1471.8 1220,1471.4 1197.5,1470.7 1197,1477.4 1188.5,1470.3 1181.5,1470 1173.5,1475.7 1173,1469.8 1164,1469.5 1163.5,1474.2 1156.5,1469.6 1153,1469.7 1150.5,1469.3 1143,1469 1135,1474.8 1134.5,1469.1 1130.5,1469.3 1129.5,1468.7 1128,1468.5 1127.5,1473.5 1118,1468.4 1114.5,1468.2 1104.5,1474.6 1104,1468.5 1101,1468.2 1089,1467.6 1088,1467.9 1086.5,1468 1086,1473.7 1075.5,1467.3 1072,1467.4 1069,1467.3 1048.5,1466.8 1039.5,1472.5 1039,1471.4 1031,1466.3 1018.5,1465.9 1009,1465.5 1008.5,1470.1 1001.5,1465.7 999.5,1465.2 992.5,1465.6 991,1464.9 984.5,1464.6 983.5,1465.4 979,1464.6 961,1463.9 954,1463.4 953.5,1469.1 946,1463.8 944.5,1463.3 937.5,1463.1 934.5,1462.4 918.5,1461.9 914.5,1461.5 903,1460.7 894,1467.5 893.5,1460.5 891,1460 883,1459.9 882.5,1466.5 873,1458.6 869,1458.8 866.5,1458.2 857.5,1463.2 857,1457.3 856.5,1457.4 848,1462 847.5,1456.3 839,1455.5 831.5,1455.4 830,1454.6 828,1454.4 820,1454 816.5,1453.2 808.5,1458.1 808,1452.4 804,1452.1 794.5,1451 794,1456.7 793.5,1456.6 785,1450.6 760.5,1449 758.5,1449.4 754.5,1449.1 747.5,1454.1 747,1448.4 745.5,1448.3 732,1448.2 728,1447.6 727.5,1454.1 717,1447.4 714.5,1447.1 714,1452.4 704.5,1446.9 692,1446.3 691.5,1446.8 687.5,1446.3 679.5,1445.9 672,1445.6 671.5,1450.7 671,1450.7 665,1446.2 663,1445.7 650,1444.9 649.5,1451.5 641,1444.9 639.5,1444.5 637.5,1444.8 629.5,1444 621,1450.2 620.5,1443.6 611.5,1443.1 610,1443.5 607,1443.1 597.5,1442.2 587.5,1446.4 587,1441.4 586.5,1441.4 584,1441.6 579.5,1440.9 567,1439.8 566.5,1444.8 556.5,1437.9 549,1437.3 548,1436.4 536,1434.3 525,1439.1 524.5,1432.3 522.5,1432 522,1432.5 515.5,1431 503,1429.5 496,1428.2 493,1428.2 474.5,1424.3 466,1428.8 465.5,1422 457.5,1420.5 455,1419.4 449.5,1417.8 441,1421 440.5,1415.6 420.5,1408.7 420,1415.8 411,1405.7 409,1404.5 394,1397.9 384.5,1393.2 379.5,1391.2 374.5,1388.2 374,1387.3 372,1386"/>
<polyline class="ln" stroke="#ff0000" points="324.5,-400 324.5,-397 324.5,-394 324.5,-391 324.5,-388 324.5,-385 324.5,-382 324.5,-379 324.5,-376 324.5,-373 324.5,-370 324.5,-367 324.5,-364 324.5,-361 324.5,-358 324.5,-355 324.5,-352 324.5,-349 324.5,-346 324.5,-343 324.5,-340 324.5,-337 324.5,-334 324.5,-331 324.5,-328 324.5,-325 324.5,-322 324.5,-319 324.5,-316 324.5,-313 324.5,-310 324.5,-307 324.5,-304 324.5,-301 324.5,-298 324.5,-295 324.5,-292 324.5,-289 324.5,-286 324.5,-283 324.5,-280 324.5,-277 324.5,-274 324.5,-271 324.5,-268 324.5,-265 324.5,-262 324.5,-259 324.5,-256 324.5,-253 324.5,-250 324.5,-247 324.5,-244 324.5,-241 324.5,-238 324.5,-235 324.5,-232 324.5,-229 324.5,-226 324.5,-223 324.5,-220 324.5,-217 324.5,-214 324.5,-211 324.5,-208 324.5,-205 324.5,-202 324.5,-199 324.5,-196 324.5,-193 324.5,-190 324.5,-187 324.5,-184 324.5,-181 324.5,-178 324.5,-175 324.5,-172 324.5,-169 324.5,-166 324.5,-163 324.5,-160 324.5,-157 324.5,-154 324.5,-151 324.5,-148 324.5,-145 324.5,-142 324.5,-139 324.5,-136 324.5,-133 324.5,-130 324.5,-127 324.5,-124 324.5,-121 324.5,-118 324.5,-115 324.5,-112 324.5,-109 324.5,-106 324.5,-103 324.5,-100 324.5,-97 324.5,-94 324.5,-91 324.5,-88 324.5,-85 324.5,-82 324.5,-79 324.5,-76 324.5,-73 324.5,-70 324.5,-67 324.5,-64 324.5,-61 324.5,-58 324.5,-55 324.5,-52 324.5,-49 324.5,-46 324.5,-43 324.5,-40 324.5,-37 324.5,-34 324.5,-31 324.5,-28 324.5,-25 324.5,-22 324.5,-19 324.5,-16 324.5,-13 324.5,-10 324.5,-7 324.5,-4 324.5,-1 324.5,2 324.5,5 324.5,8 324.5,11 324.5,14 324.5,17 324.5,20 324.5,23 324.5,26 324.5,29 324.5,32 324.5,35 324.5,38 324.5,41 324.5,44 324.5,47 324.5,50 324.5,53 324.5,56 324.5,59 324.5,62 324.5,65 324.5,68 324.5,71 324.5,74 324.5,77 324.5,80 324.5,83 324.5,86 324.5,89 324.5,92 324.5,95 324.5,98 324.5,101 324.5,104 324.5,107 324.5,110 324.5,113 324.5,116 324.5,119 324.5,122 324.5,125 324.5,128 324.5,131 324.5,134 324.5,137 324.5,140 324.5,143 324.5,146 324.5,149 324.5,152 324.5,155 324.5,158 324.5,161 324.5,164 324.5,167 324.5,170 324.5,173 324.5,176 324.5,179 324.5,182 324.5,185 324.5,188 324.5,191 324.5,194 324.5,197 324.5,200 324.5,203 324.5,206 324.5,209 324.5,212 324.5,215 324.5,218 324.5,221 324.5,224 324.5,227 324.5,230 324.5,233 324.5,236 324.5,239 324.5,242 324.5,245 324.5,248 324.5,251 324.5,254 324.5,257 324.5,260 324.5,263 324.5,266 324.5,269 324.5,272 324.5,275 324.5,278 324.5,281 324.5,284 324.5,287 324.5,290 324.5,293 324.5,296 324.5,299 324.5,302 324.5,305 324.5,308 324.5,311 324.5,314 324.5,317 324.5,320 324.5,323 324.5,326 324.5,329 324.5,332 324.5,335 324.5,338 324.5,341 324.5,344 324.5,347 324.5,350 324.5,353 324.5,356 324.5,359 324.5,362 324.5,365 324.5,368 324.5,371 324.5,374 324.5,377 324.5,380 324.5,383 324.5,386 324.5,389 324.5,392 324.5,395 324.5,398 324.5,401 324.5,404 324.5,407 324.5,410 324.5,413 324.5,416 324.5,419 324.5,422 324.5,425 324.5,428 324.5,431 324.5,434 324.5,437 324.5,440 324.5,443 324.5,446 324.5,449 324.5,452 324.5,455 324.5,458 324.5,461 324.5,464 324.5,467 324.5,470 324.5,473 324.5,476 324.5,479 324.5,482 324.5,485 324.5,488 324.5,491 324.5,494 324.5,497 324.5,500 324.5,503 324.5,506 324.5,509 324.5,512 324.5,515 324.5,518 324.5,521 324.5,524 324.5,527 324.5,530 324.5,533 324.5,536 324.5,539 324.5,542 324.5,545 324.5,548 324.5,551 324.5,554 324.5,557 324.5,560 324.5,563 324.5,566 324.5,569 324.5,572 324.5,575 324.5,578 324.5,581 324.5,584 324.5,587 324.5,590 324.5,593 324.5,596 324.5,599 324.5,602 324.5,605 324.5,608 324.5,611 324.5,614 324.5,617 324.5,620 324.5,623 324.5,626 324.5,629 324.5,632 324.5,635 324.5,638 324.5,641 324.5,644 324.5,647 324.5,650 324.5,653 324.5,656 324.5,659 324.5,662 324.5,665 324.5,668 324.5,671 324.5,674 324.5,677 324.5,680 324.5,683 324.5,686 324.5,689 324.5,692 324.5,695 324.5,698 324.5,701 324.5,704 324.5,707 324.5,710 324.5,713 324.5,716 324.5,719 324.5,722 324.5,725 324.5,728 324.5,731 324.5,734 324.5,737 324.5,740 324.5,743 324.5,746 324.5,749 324.5,752 324.5,755 324.5,758 324.5,761 324.5,764 324.5,767 324.5,770 324.5,773 324.5,776 324.5,779 324.5,782 324.5,785 324.5,788 324.5,791 324.5,794 324.5,797 324.5,800 324.5,803 324.5,806 324.5,809 324.5,812 324.5,815 324.5,818 324.5,821 324.5,824 324.5,827 324.5,830 324.5,833 324.5,836 324.5,839 324.5,842 324.5,845 324.5,848 324.5,851 324.5,854 324.5,857 324.5,860 324.5,863 324.5,866 324.5,869 324.5,872 324.5,875 324.5,878 324.5,881 324.5,884 324.5,887 324.5,890 324.5,893 324.5,896 324.5,899 324.5,902 324.5,905 324.5,908 324.5,911 324.5,914 324.5,917 324.5,920 324.5,923 324.5,926 324.5,929 324.5,932 324.5,935 324.5,938 324.5,941 324.5,944 324.5,947 324.5,950 324.5,953 324.5,956 324.5,959 324.5,962 324.5,965 324.5,968 324.5,971 324.5,974 324.5,977 324.5,980 324.5,983 324.5,986 324.5,989 324.5,992 324.5,995 324.5,998 324.5,1001 324.5,1004 324.5,1007 324.5,1010 324.5,1013 324.5,1016 324.5,1019 324.5,1022 324.5,1025 324.5,1028 324.5,1031 324.5,1034 324.5,1037 324.5,1040 324.5,1043 324.5,1046 324.5,1049 324.5,1052 324.5,1055 324.5,1058 324.5,1061 324.5,1064 324.5,1067 324.5,1070 324.6,1073 324.6,1076 324.6,1079 324.7,1082 324.7,1085 324.8,1088 324.8,1091 324.9,1094 325,1097 325,1100 325.1,1103 325.2,1106 325.2,1109 325.3,1112 325.4,1115 325.5,1118 325.5,1121 325.6,1124 325.7,1127 325.8,1130 325.9,1133 326,1136 326.1,1139 326.2,1142 326.3,1145 326.4,1148 326.5,1151 326.7,1154 326.8,1157 327,1160 327.1,1163 327.3,1166 327.5,1169 327.6,1171.9 327.8,1174.9 328.1,1177.9 328.3,1180.9 328.5,1183.9 328.8,1186.9 329.1,1189.9 329.4,1192.9 329.7,1195.9 330,1198.9 330.4,1201.9 330.8,1204.9 331.2,1207.8 331.6,1210.8 332,1213.7 332.5,1216.7 333.1,1219.6 333.7,1222.6 334.4,1225.5 335.1,1228.5 335.9,1231.4 336.8,1234.3 337.7,1237.1 338.7,1239.9 339.7,1242.7 341,1245.4 342.3,1248 343.8,1250.6 345.4,1253.2 347,1255.8 348.6,1258.4 350.2,1260.9 351.8,1263.5 353.3,1266.2 355,1268.8 356.6,1271.4 358.3,1273.9 360.1,1276.3 361.9,1278.6 363.8,1280.8 365.9,1282.8 368,1284.8 370.3,1286.7 372.7,1288.5 375.1,1290.2 377.7,1291.9 380.3,1293.6 382.9,1295.2 385.6,1296.7 388.2,1298.2 390.9,1299.6 393.5,1300.9 396.1,1302.2 398.8,1303.5 401.5,1304.7 404.3,1305.9 407,1307.1 409.8,1308.2 412.6,1309.3 415.4,1310.3 418.3,1311.4 421.1,1312.5 423.9,1313.5 426.8,1314.5 429.6,1315.6 432.4,1316.6 435.3,1317.6 438.1,1318.7 440.9,1319.8 443.7,1320.9 446.5,1322 449.3,1323.2 452,1324.4 454.8,1325.7 457.5,1326.9 460.3,1328 463.1,1328.9 466,1329.7 468.8,1330.5 471.7,1331.2 474.6,1331.9 477.5,1332.6 480.4,1333.3 483.4,1333.9 486.3,1334.5 489.3,1335.1 492.2,1335.7 495.2,1336.3 498.1,1336.8 501.1,1337.3 504.1,1337.8 507.1,1338.4 510,1338.9 513,1339.4 516,1339.9 519,1340.3 521.9,1340.8 524.9,1341.3 527.8,1341.8 530.8,1342.3 533.8,1342.9 536.7,1343.3 539.7,1343.8 542.6,1344.3 545.6,1344.8 548.6,1345.3 551.5,1345.8 554.5,1346.2 557.5,1346.7 560.4,1347.1 563.4,1347.6 566.4,1348 569.3,1348.4 572.3,1348.8 575.3,1349.1 578.3,1349.5 581.3,1349.8 584.2,1350.2 587.2,1350.5 590.2,1350.8 593.2,1351.1 596.2,1351.4 599.1,1351.7 602.1,1352 605.1,1352.3 608.1,1352.5 611.1,1352.8 614.1,1353.1 617.1,1353.3 620.1,1353.6 623.1,1353.8 626.1,1354 629,1354.3 632,1354.5 635,1354.7 638,1354.9 641,1355.1 644,1355.3 647,1355.5 650,1355.7 653,1355.9 656,1356.1 659,1356.3 662,1356.5 665,1356.7 668,1356.9 671,1357.1 673.9,1357.3 676.9,1357.5 679.9,1357.6 682.9,1357.8 685.9,1358 688.9,1358.1 691.9,1358.3 694.9,1358.4 697.9,1358.6 700.9,1358.7 703.9,1358.8 706.9,1358.9 709.9,1359 712.9,1359.1 715.9,1359.2 718.9,1359.3 721.9,1359.4 724.9,1359.5 727.9,1359.5 730.9,1359.6 733.9,1359.7 736.9,1359.7 739.9,1359.8 742.9,1359.9 745.9,1359.9 748.9,1360 751.9,1360.1 754.9,1360.1 757.9,1360.2 760.9,1360.3 763.9,1360.4 766.9,1360.4 769.9,1360.5 772.9,1360.6 775.9,1360.7 778.9,1360.8 781.9,1360.9 784.9,1361 787.9,1361.1 790.9,1361.2 793.9,1361.3 796.9,1361.4 799.9,1361.5 802.9,1361.6 805.9,1361.7 808.9,1361.8 811.9,1361.9 814.9,1362 817.9,1362.2 820.9,1362.3 823.9,1362.4 826.9,1362.6 829.8,1362.8 832.8,1362.9 835.8,1363.1 838.8,1363.4 841.8,1363.6 844.8,1363.8 847.8,1364.1 850.8,1364.4 853.8,1364.7 856.7,1365 859.7,1365.3 862.7,1365.6 865.7,1365.9 868.7,1366.2 871.7,1366.5 874.7,1366.8 877.6,1367.2 880.6,1367.5 883.6,1367.8 886.6,1368.1 889.6,1368.4 892.6,1368.7 895.6,1369 898.5,1369.2 901.5,1369.5 904.5,1369.8 907.5,1370.1 910.5,1370.4 913.5,1370.7 916.5,1370.9 919.5,1371.2 922.4,1371.5 925.4,1371.8 928.4,1372.1 931.4,1372.3 934.4,1372.6 937.4,1372.9 940.4,1373.1 943.4,1373.3 946.3,1373.6 949.3,1373.8 952.3,1374 955.3,1374.3 958.3,1374.5 961.3,1374.7 964.3,1375 967.3,1375.2 970.3,1375.4 973.3,1375.6 976.3,1375.8 979.3,1376 982.3,1376.2 985.3,1376.4 988.3,1376.6 991.2,1376.8 994.2,1376.9 997.2,1377.1 1000.2,1377.2 1003.2,1377.3 1006.2,1377.4 1009.2,1377.5 1012.2,1377.6 1015.2,1377.6 1018.2,1377.7 1021.2,1377.7 1024.2,1377.8 1027.2,1377.8 1030.2,1377.9 1033.2,1377.9 1036.2,1378 1039.2,1378 1042.2,1378 1045.2,1378.1 1048.2,1378.1 1051.2,1378.1 1054.2,1378.2 1057.2,1378.2 1060.2,1378.2 1063.2,1378.3 1066.2,1378.3 1069.2,1378.4 1072.2,1378.4 1075.2,1378.5 1078.2,1378.5 1081.2,1378.6 1084.2,1378.7 1087.2,1378.8 1090.2,1378.9 1093.2,1379 1096.2,1379 1099.2,1379.1 1102.2,1379.2 1105.2,1379.3 1108.2,1379.4 1111.2,1379.6 1114.2,1379.7 1117.2,1379.8 1120.2,1379.9 1123.2,1379.9 1126.2,1380 1129.2,1380.1 1132.2,1380.2 1135.2,1380.3 1138.2,1380.4 1141.2,1380.4 1144.2,1380.5 1147.2,1380.5 1150.2,1380.6 1153.2,1380.7 1156.2,1380.7 1159.2,1380.8 1162.2,1380.8 1165.2,1380.9 1168.2,1380.9 1171.2,1381 1174.2,1381 1177.2,1381.1 1180.2,1381.2 1183.2,1381.2 1186.2,1381.3 1189.2,1381.3 1192.2,1381.4 1195.2,1381.4 1198.2,1381.5 1201.2,1381.5 1204.2,1381.6 1207.2,1381.7 1210.2,1381.7 1213.2,1381.8 1216.2,1381.9 1219.2,1381.9 1222.2,1382 1225.2,1382.1 1228.2,1382.1 1231.2,1382.2 1234.2,1382.3 1237.2,1382.4 1240.2,1382.4 1243.2,1382.5 1246.2,1382.6 1249.2,1382.7 1252.2,1382.8 1255.2,1382.8 1258.2,1382.9 1261.2,1383 1264.2,1383.1 1267.2,1383.2 1270.2,1383.2 1273.2,1383.3 1276.2,1383.4 1279.2,1383.5 1282.2,1383.6 1285.1,1383.7 1288.1,1383.8 1291.1,1383.9 1294.1,1384 1297.1,1384.1 1300.1,1384.2 1303.1,1384.3 1306.1,1384.4 1309.1,1384.4 1312.1,1384.5 1315.1,1384.6 1318.1,1384.7 1321.1,1384.8 1324.1,1384.9 1327.1,1385 1330.1,1385.1 1333.1,1385.2 1336.1,1385.3 1339.1,1385.4 1342.1,1385.5 1345.1,1385.6 1348.1,1385.7 1351.1,1385.8 1354.1,1385.8 1357.1,1385.9 1360.1,1386 1363.1,1386.1 1366.1,1386.2 1369.1,1386.3 1372.1,1386.4 1375.1,1386.4 1378.1,1386.5 1381.1,1386.6 1384.1,1386.7 1387.1,1386.7 1390.1,1386.8 1393.1,1386.9 1396.1,1386.9 1399.1,1387 1402.1,1387.1 1405.1,1387.1 1408.1,1387.2 1411.1,1387.3 1414.1,1387.3 1417.1,1387.4 1420.1,1387.5 1423.1,1387.5 1426.1,1387.6 1429.1,1387.7 1432.1,1387.7 1435.1,1387.8 1438.1,1387.8 1441.1,1387.9 1444.1,1388 1447.1,1388 1450.1,1388.1 1453.1,1388.1 1456.1,1388.2 1459.1,1388.3 1462.1,1388.3 1465.1,1388.4 1468.1,1388.4 1471.1,1388.5 1474.1,1388.6 1477.1,1388.6 1480.1,1388.7 1483.1,1388.8 1486.1,1388.8 1489.1,1388.9 1492.1,1388.9 1495.1,1389 1498.1,1389.1 1501.1,1389.1 1504.1,1389.2 1507.1,1389.3 1510.1,1389.3 1513.1,1389.4 1516.1,1389.5 1519.1,1389.5 1522.1,1389.6 1525.1,1389.7 1528.1,1389.7 1531.1,1389.8 1534.1,1389.9 1537.1,1390 1540.1,1390 1543.1,1390.1 1546.1,1390.2 1549.1,1390.3 1552.1,1390.3 1555.1,1390.4 1558.1,1390.5 1561.1,1390.6 1564.1,1390.7 1567.1,1390.7 1570.1,1390.8 1573.1,1390.9 1576.1,1391 1579.1,1391 1582.1,1391.1 1585.1,1391.2 1588.1,1391.3 1591.1,1391.4 1594.1,1391.4 1597.1,1391.5 1600.1,1391.6 1603,1391.7 1606,1391.7 1609,1391.8 1612,1391.9 1615,1392 1618,1392 1621,1392.1 1624,1392.2 1627,1392.3 1630,1392.3 1633,1392.4 1636,1392.5 1639,1392.5 1642,1392.6 1645,1392.7 1648,1392.7 1651,1392.8 1654,1392.9 1657,1392.9 1660,1393 1663,1393 1666,1393.1 1669,1393.2 1672,1393.2 1675,1393.3 1678,1393.3 1681,1393.4 1684,1393.4 1687,1393.4 1690,1393.5 1693,1393.5 1696,1393.6 1699,1393.6 1702,1393.6 1705,1393.7 1708,1393.7 1711,1393.7 1714,1393.8 1717,1393.8 1720,1393.8 1723,1393.8 1726,1393.9 1729,1393.9 1732,1393.9 1735,1394 1738,1394 1741,1394 1744,1394.1 1747,1394.1 1750,1394.1 1753,1394.2 1756,1394.2 1759,1394.3 1762,1394.3 1765,1394.4 1768,1394.4 1771,1394.5 1774,1394.6 1777,1394.6 1780,1394.7 1783,1394.8 1786,1394.9 1789,1394.9 1792,1395 1795,1395.1 1798,1395.2 1801,1395.3 1804,1395.4 1807,1395.4 1810,1395.5 1813,1395.6 1816,1395.7 1819,1395.8 1822,1395.9 1825,1396 1828,1396.1 1831,1396.2 1834,1396.3 1837,1396.4 1840,1396.5 1843,1396.6 1846,1396.6 1849,1396.7 1852,1396.8 1855,1396.9 1858,1397 1861,1397.1 1864,1397.2 1867,1397.3 1870,1397.3 1873,1397.4 1876,1397.5 1879,1397.6 1882,1397.6 1885,1397.7 1888,1397.8 1891,1397.9 1894,1397.9 1897,1398 1900,1398.1 1903,1398.1 1906,1398.2 1909,1398.3 1912,1398.3 1915,1398.4 1918,1398.5 1921,1398.5 1924,1398.6 1927,1398.7 1930,1398.7 1933,1398.8 1936,1398.9 1939,1399 1942,1399.1 1945,1399.1 1948,1399.2 1951,1399.3 1954,1399.4 1957,1399.5 1960,1399.6 1963,1399.7 1965.9,1399.8 1968.9,1399.9 1971.9,1400 1974.9,1400.2 1977.9,1400.3 1980.9,1400.4 1983.9,1400.5 1986.9,1400.7 1989.9,1400.8 1992.9,1400.9 1995.9,1401.1 1998.9,1401.2 2001.9,1401.3 2004.9,1401.5 2007.9,1401.6 2010.9,1401.8 2013.9,1401.9 2016.9,1402 2019.9,1402.2 2022.9,1402.3 2025.9,1402.4 2028.9,1402.6 2031.9,1402.7 2034.9,1402.8 2037.9,1403 2040.9,1403.1 2043.9,1403.2 2046.9,1403.3 2049.9,1403.4 2052.9,1403.6 2055.9,1403.7 2058.9,1403.8 2061.9,1403.9 2064.9,1404 2067.9,1404.1 2070.9,1404.1 2073.9,1404.2 2076.9,1404.3 2079.9,1404.4 2082.9,1404.5 2085.9,1404.6 2088.9,1404.7 2091.8,1404.8 2094.8,1404.9 2097.8,1405 2100.8,1405.1 2103.8,1405.2 2106.8,1405.2 2109.8,1405.3 2112.8,1405.4 2115.8,1405.5 2118.8,1405.6 2121.8,1405.7 2124.8,1405.8 2127.8,1405.8 2130.8,1405.9 2133.8,1406 2136.8,1406.1 2139.8,1406.2 2142.8,1406.2 2145.8,1406.3 2148.8,1406.4 2151.8,1406.5 2154.8,1406.6 2157.8,1406.6 2160.8,1406.7 2163.8,1406.8 2166.8,1406.9 2169.8,1406.9 2172.8,1407 2175.8,1407.1 2178.8,1407.2 2181.8,1407.2 2184.8,1407.3 2187.8,1407.4 2190.8,1407.4 2193.8,1407.5 2196.8,1407.6 2199.8,1407.6 2202.8,1407.7 2205.8,1407.7 2208.8,1407.8 2211.8,1407.9 2214.8,1407.9 2217.8,1408 2220.8,1408 2223.8,1408.1 2226.8,1408.2 2229.8,1408.2 2232.8,1408.3 2235.8,1408.3 2238.8,1408.4 2241.8,1408.4 2244.8,1408.5 2247.8,1408.5 2250.8,1408.6 2253.8,1408.6 2256.8,1408.6 2259.8,1408.7 2262.8,1408.7 2265.8,1408.8 2268.8,1408.8 2271.8,1408.8 2274.8,1408.9 2277.8,1408.9 2280.8,1409 2283.8,1409 2286.8,1409 2289.8,1409.1 2292.8,1409.1 2295.8,1409.1 2298.8,1409.2 2301.8,1409.2 2304.8,1409.3 2307.8,1409.3 2310.8,1409.3 2313.8,1409.4 2316.8,1409.4 2319.8,1409.5 2322.8,1409.5 2325.8,1409.5 2328.8,1409.6 2331.8,1409.6 2334.8,1409.6 2337.8,1409.7 2340.8,1409.7 2343.8,1409.8 2346.8,1409.8 2349.8,1409.8 2352.8,1409.9 2355.8,1409.9 2358.8,1410 2361.8,1410 2364.8,1410.1 2367.8,1410.1 2370.8,1410.2 2373.8,1410.2 2376.8,1410.3 2379.8,1410.4 2382.8,1410.5 2385.8,1410.6 2388.8,1410.7 2391.8,1410.8 2394.8,1410.9 2397.8,1411 2400.8,1411.1 2403.8,1411.2 2406.8,1411.3 2409.8,1411.4 2412.8,1411.5 2415.8,1411.7 2418.8,1411.8 2421.8,1411.9 2424.8,1412 2427.8,1412.1 2430.8,1412.2 2433.8,1412.3 2436.8,1412.4 2439.8,1412.5 2442.8,1412.6 2445.8,1412.6 2448.8,1412.7 2451.8,1412.8 2454.8,1412.9 2457.8,1412.9 2460.8,1413 2463.8,1413"/>
<polygon class="bd" fill="#ff0000" points="352,1255.3 356.5,1262 359,1265.3 359.5,1266.8 362,1269.7 365.5,1272.3 366.5,1275.3 367,1275.2 369,1277.3 370.5,1279.3 372.5,1280.5 375,1280.6 376,1281.2 376.5,1283.5 383.5,1282.8 384,1290.4 386,1291.8 386.5,1286.4 395,1296.6 402.5,1300.1 406.5,1301 408.5,1302.8 411.5,1303.9 412,1298.7 415,1301.2 419,1295.9 420.5,1296.3 421,1302.8 421.5,1302.3 422.5,1302.7 423.5,1299.8 425,1300.7 425.5,1300.5 426,1299.5 427,1299.5 427.5,1299.7 428,1302.4 428.5,1306.7 429,1306 429.5,1302.7 430,1302.1 431,1302.5 431.5,1302.3 432.5,1300.6 434,1301.2 435,1309.1 436,1309.1 437.5,1308.8 439,1307.2 440.5,1307.7 441,1313.4 442,1314.6 443.5,1314.6 451,1319 455,1320.9 455.5,1316.3 466,1324.8 471,1326.1 478,1325.8 482.5,1321.4 484,1321.7 484.5,1324.9 485,1327 486,1327.2 486.5,1326.8 487,1322.8 487.5,1321.4 488.5,1321.6 489,1322.1 491,1326.2 492,1327.2 493,1325.3 494,1325.5 494.5,1326 495.5,1324.9 497,1325 497.5,1329.5 499,1329.8 499.5,1327.3 500,1326.3 501.5,1326.6 503,1329.5 509.5,1333.7 516,1335.3 519,1335.8 520,1334.8 523,1335.8 526,1337 533,1337.9 539,1332.5 540.5,1332.8 541,1334.1 542,1333.6 543,1333.8 543.5,1336.4 544,1337.1 546,1337.4 546.5,1333.9 548,1333.9 549.5,1335.8 551.5,1335.9 552,1338.3 553.5,1338.1 556,1332.5 557.5,1332.8 558,1339.2 560,1339.6 560.5,1335.5 562,1335.7 563.5,1337.8 565.5,1338.5 568,1340.7 570,1342.9 571,1342.1 574,1341 577,1339.8 577.5,1344 580.5,1345.2 589,1341.3 589.5,1346.2 594.5,1346.3 597,1346.6 598.5,1346.9 605.5,1345.2 610,1345.2 613,1342.8 614,1342.9 615,1344.9 616.5,1343.2 618,1343.1 618.5,1344.5 620,1345.2 621.5,1344.8 622,1344.8 623,1346.6 625.5,1344.2 627,1344.2 628,1348.4 630,1349.3 631.5,1349.1 635,1350 640,1350.1 642,1350.7 656,1351.3 659.5,1350.4 660,1346.5 662.5,1347.6 663.5,1346.1 665,1346 665.5,1349.5 666.5,1350.1 667,1349.3 669,1349.5 670.5,1349.9 671,1349.9 671.5,1346.3 675,1348.8 676,1348.9 676.5,1349.7 678,1349.8 678.5,1350.8 679,1351.1 679.5,1349.9 681,1349.6 683.5,1351.4 685,1351.5 685.5,1352.9 687.5,1352.6 691.5,1353.7 697,1353.1 698,1354.1 713,1354.4 713.5,1349.2 717.5,1351.3 718,1350.7 719.5,1351.1 721,1349.9 722,1350 722.5,1351.6 723.5,1351.9 724,1348.1 725.5,1348.1 726,1348.8 727,1345.3 728,1345.4 728.5,1346 729,1345.9 729.5,1345.1 731,1345.1 731.5,1351.8 732.5,1351.8 733,1350.7 733.5,1348.4 735,1348.5 736,1349.6 738,1349.4 739,1352 740,1352 740.5,1350.9 741,1348.3 742.5,1348.4 745.5,1352.2 748,1352.4 748.5,1351.6 750,1351.6 751.5,1353 752,1352.3 753,1351.8 754,1350.9 755.5,1350.9 756.5,1354.4 758,1354.5 759,1355.3 761.5,1355.4 764,1355.9 769,1356 769.5,1351 777,1356 782,1356.2 789.5,1354 794.5,1354 795,1352.7 795.5,1348.2 797,1348.3 798,1350.8 798.5,1350.3 800,1350.3 800.5,1352.7 801,1354.2 802,1354.2 802.5,1353.3 803,1348 804.5,1348.1 809,1354.5 811,1353.9 812,1354.1 812.5,1355.8 813,1356.6 814,1356.8 814.5,1355.9 816.5,1356.2 820,1357.8 824,1357.9 824.5,1350.5 833.5,1358.5 843,1358.9 845.5,1358.1 850,1354.6 851.5,1354.8 852,1356.1 853,1355.6 854,1355.7 854.5,1357.5 855.5,1358 856.5,1358.1 857,1353.3 858.5,1353.4 861.5,1357.4 864,1357.1 865,1359 867,1359.3 867.5,1358 870,1358.4 870.5,1356.7 872,1357 875.5,1362 880.5,1362.9 893,1364.2 893.5,1357.8 899,1361.9 902,1364 905.5,1364.9 911.5,1362.8 922,1363.4 925.5,1363.7 926,1362.8 926.5,1356.3 928,1356.4 930.5,1362.9 931,1363.6 933,1362.3 934,1362.4 934.5,1363.7 935,1366.1 936,1366.7 937,1366 939,1366.5 943,1368.8 957,1369.7 957.5,1363 965,1370.3 966,1370.1 966.5,1364.4 973,1368.5 983.5,1369.1 984,1366.1 984.5,1364.8 985.5,1364.9 986.5,1366.1 987,1366.2 987.5,1365.5 988.5,1365.6 991,1368.4 992.5,1368.4 993,1365.6 1003.5,1372.8 1006,1372.9 1006.5,1365.6 1015.5,1372.6 1020,1372 1027.5,1366.4 1028,1372 1032,1369.2 1033.5,1369.1 1034,1370.2 1037,1362.5 1037.5,1361.6 1038.5,1361.6 1039,1363.1 1039.5,1365.4 1040,1364.2 1041.5,1363.9 1042,1366.5 1042.5,1366.5 1044.5,1362.4 1046,1362.7 1046.5,1366.4 1049,1361.4 1050.5,1361.2 1051,1367.5 1051.5,1370 1052,1363.6 1053.5,1363.6 1054,1365 1054.5,1362.7 1055,1362 1056,1362 1058.5,1366 1059,1365.4 1060.5,1365.8 1061.5,1367.1 1063.5,1367 1067,1372.5 1071,1373.4 1074,1374 1085,1373.9 1087.5,1373.1 1088,1368.2 1092.5,1371.3 1096.5,1370.7 1097.5,1369.3 1098.5,1367.5 1100,1367.5 1100.5,1370.9 1101.5,1370.9 1102,1369.3 1102.5,1363.1 1103,1361.9 1104,1361.9 1104.5,1362.8 1106,1367.1 1106.5,1366.8 1107.5,1365.3 1109,1365.2 1109.5,1371.2 1110,1369.7 1111.5,1369.9 1112.5,1371.3 1113.5,1371.3 1114,1369.6 1114.5,1368.7 1115.5,1368.7 1117,1371 1117.5,1370.3 1119,1370.4 1120,1371.9 1120.5,1372 1121,1368.5 1129,1373.9 1129.5,1374 1130.5,1375 1134,1374.9 1135,1375.8 1144.5,1375.9 1151,1372.6 1153.5,1369.5 1155,1369.6 1155.5,1372.8 1157,1372.7 1157.5,1373.5 1159.5,1373.5 1160.5,1370.8 1161.5,1370.8 1163,1368.9 1164,1368.9 1164.5,1369.6 1165,1371.8 1167.5,1364.3 1169,1364.1 1169.5,1367.5 1170,1372.5 1170.5,1373.5 1172,1372.1 1173,1372.2 1175.5,1369.4 1176.5,1369.4 1177.5,1373.8 1178,1373.7 1180,1370.7 1181.5,1370.8 1182.5,1368.9 1183.5,1368.9 1186,1371.9 1187,1372 1187.5,1373 1192,1376.1 1198.5,1377 1211.5,1377.2 1212.5,1376.1 1216,1376.7 1221.5,1374.1 1228.5,1373.7 1230,1373.7 1230.5,1372.4 1231,1370.2 1232,1370.2 1232.5,1370.6 1234,1373.7 1235,1373.9 1235.5,1369.7 1236.5,1369.7 1237,1370.1 1238.5,1373.1 1239.5,1372.9 1242,1369.8 1243.5,1369.7 1244,1374.9 1244.5,1374.9 1245.5,1373.2 1247,1372.9 1247.5,1375.3 1248,1377.1 1250,1377.8 1251,1377.4 1259.5,1378.4 1267.5,1378.4 1270,1377.6 1274.5,1374 1276,1374 1276.5,1374.7 1278,1374.5 1278.5,1375 1279,1376.4 1280,1375.7 1283.5,1370.7 1285,1370.7 1285.5,1372.4 1286,1371.8 1287.5,1371.8 1288,1374.6 1288.5,1376.5 1290.5,1375.8 1291,1375.8 1291.5,1376.6 1292,1376.6 1292.5,1373.9 1294,1373.6 1295,1374.6 1297,1372.2 1298.5,1372 1299,1373.3 1299.5,1376.9 1301.5,1377 1302,1375.4 1303.5,1375.5 1304,1372.6 1304.5,1371.7 1306,1371.8 1310.5,1377.8 1312,1377.8 1313,1379.7 1314,1379.8 1321,1374.3 1321.5,1374.2 1322,1380.3 1335.5,1380.6 1336.5,1380.2 1342,1380.8 1348.5,1377.7 1357,1377.5 1359.5,1377.6 1360,1372.7 1360.5,1372.3 1361.5,1372.3 1363,1374.8 1363.5,1375.1 1364,1374.2 1365.5,1374.2 1366,1378 1368,1378.2 1368.5,1377 1370,1377.1 1371.5,1378.5 1375,1380.4 1382.5,1375.3 1383,1381.9 1390,1377.5 1390.5,1382.3 1397.5,1382.4 1402.5,1378.3 1404,1378.3 1404.5,1380.5 1406.5,1379.4 1407.5,1379.4 1408,1379.8 1408.5,1377.5 1409.5,1377.1 1410.5,1377.4 1412,1376.7 1412.5,1376.7 1413,1377.4 1413.5,1379.9 1414,1378.2 1414.5,1374.7 1416,1374.8 1417.5,1376.5 1418,1376.1 1418.5,1374.8 1419,1374.2 1420,1374.2 1420.5,1376.3 1421,1379.7 1423,1379.6 1423.5,1380.4 1426.5,1379.9 1427,1380 1427.5,1380.6 1429.5,1380.9 1430,1377.6 1431.5,1377.6 1436,1381.3 1439,1383 1449,1383.6 1454.5,1382.3 1455,1382.3 1456,1383.4 1464.5,1380.9 1467.5,1380.7 1471,1374.4 1472,1374.4 1472.5,1374.8 1473,1379.2 1473.5,1378.7 1475.5,1374.4 1476,1373.7 1477,1373.7 1477.5,1375 1478,1380.9 1480,1380.9 1480.5,1376.5 1482,1376.7 1484,1379.6 1485.5,1379.9 1486,1381.1 1487,1381 1488,1380.4 1489,1380.5 1489.5,1381.4 1491,1381.7 1491.5,1378.2 1493,1378.3 1496,1382.1 1498.5,1383.1 1501.5,1384.6 1516.5,1384.8 1517.5,1384.1 1521.5,1377.2 1522,1376.7 1523,1376.7 1523.5,1377.5 1524,1382.6 1527,1382.2 1529,1382.4 1529.5,1380 1530,1376.1 1531.5,1376.1 1534.5,1381.3 1535,1381.4 1536.5,1379.3 1538,1379.4 1538.5,1382.6 1540.5,1382.7 1541.5,1382.3 1543.5,1382.7 1545,1380.5 1546.5,1380.4 1547,1381.8 1547.5,1383.7 1548,1382.8 1548.5,1381.1 1550,1381.1 1554.5,1385 1556.5,1384.1 1562,1381.2 1562.5,1386.1 1567,1386 1568,1385.6 1578.5,1386.5 1585.5,1386.3 1588.5,1385 1592.5,1379.7 1594,1379.5 1594.5,1381.2 1595,1383.5 1595.5,1382.1 1597,1382.4 1598,1383.4 1598.5,1382.9 1599,1377.4 1599.5,1374.2 1601,1374.5 1602.5,1379.2 1603,1379.3 1605.5,1375 1607,1375 1607.5,1383.7 1608.5,1379.5 1609.5,1379.5 1610,1379.9 1611,1378.8 1612,1378.8 1614.5,1383 1616,1382.4 1619,1380.3 1619.5,1380.8 1620.5,1381.2 1622.5,1385 1623,1385.5 1624.5,1385.5 1625,1386.1 1625.5,1381.6 1633,1387.7 1641,1387.7 1645,1386.8 1645.5,1384.1 1646,1382.2 1647.5,1382.4 1649,1384.8 1649.5,1384.9 1651,1384.2 1651.5,1384.2 1652,1384.7 1652.5,1385.9 1653,1382.8 1654.5,1383 1656,1384.9 1656.5,1385.1 1657,1385.8 1658,1385.6 1658.5,1384.2 1660,1384.3 1661,1385.3 1661.5,1384.5 1662,1382 1663.5,1382.1 1664.5,1384.2 1665,1384.6 1667,1382.8 1668,1382.8 1668.5,1383.4 1669,1386.1 1669.5,1386 1670,1383.6 1671.5,1383.8 1673.5,1385.7 1678,1382.2 1678.5,1382.1 1679,1387.2 1679.5,1387.3 1680,1386.2 1681.5,1385.9 1682,1381.7 1688.5,1387.1 1691,1389 1696.5,1388.8 1697,1388 1699.5,1388.4 1702,1389.1 1702.5,1382.8 1710,1388.2 1714,1386.3 1714.5,1384.3 1715,1383.4 1716,1383.4 1717,1384.3 1719.5,1379.3 1721,1379.1 1721.5,1385.1 1723,1384.6 1723.5,1383.7 1725,1383.7 1725.5,1385.4 1727.5,1381.8 1729,1381.6 1729.5,1383.2 1730,1385.8 1731,1385.8 1731.5,1381.1 1732,1377.2 1733.5,1377.5 1736.5,1384.8 1737,1385.5 1738,1385.5 1740,1387.7 1742,1387.7 1742.5,1389.1 1745,1388.6 1745.5,1388.6 1746.5,1389.6 1748.5,1389.4 1756,1385 1756.5,1389.7 1761.5,1389.1 1767.5,1387.2 1768,1383.9 1768.5,1381.8 1770,1382.1 1771,1383.5 1771.5,1379.7 1773,1379.8 1774.5,1384 1776,1385.7 1776.5,1385.8 1777.5,1384.9 1778.5,1385 1779,1386.9 1780,1386.9 1780.5,1386.3 1781,1382 1782.5,1382.1 1783.5,1384.4 1784.5,1383.6 1786,1381.9 1787,1381.9 1787.5,1382.5 1788,1386.3 1789.5,1385 1791,1385.1 1791.5,1387.2 1793,1387.1 1793.5,1382.3 1795,1382.2 1796.5,1385.3 1799.5,1387.1 1801.5,1386.9 1802.5,1389.3 1804.5,1390.2 1806,1390.6 1810.5,1391 1815,1391.2 1815.5,1390.5 1820.5,1390.7 1822.5,1390 1823,1385.9 1827,1388.4 1833,1387.8 1833.5,1386.6 1835.5,1387.7 1837,1387.6 1839,1388 1839.5,1388 1840,1381.1 1840.5,1380.5 1841.5,1380.6 1843.5,1383.7 1844,1382.1 1845,1381.6 1845.5,1381.7 1846.5,1383.3 1848,1380.6 1849,1380.2 1849.5,1380.2 1850,1386.7 1850.5,1388.4 1853,1388.5 1853.5,1387.3 1855,1387.6 1855.5,1388.1 1856,1386.2 1857.5,1386.3 1858.5,1387.5 1859,1386.4 1860,1386.5 1863.5,1391.6 1870.5,1392.9 1871,1385.5 1873,1386.8 1881,1393.1 1884,1393 1891.5,1386.9 1892,1393.3 1897,1393.2 1903,1390.5 1911.5,1390.2 1914.5,1390.3 1915,1385.1 1916.5,1385.2 1918.5,1390.2 1919,1390.4 1919.5,1383.2 1921,1383.3 1922.5,1385.4 1923,1383 1924,1383 1924.5,1383.7 1926.5,1388.9 1927,1389.4 1927.5,1389.2 1928,1392.1 1929,1392.2 1930,1393.9 1932,1394.3 1946,1394.4 1949.5,1393.7 1950.5,1394 1951.5,1394.8 1955,1394.2 1960,1392.2 1970.5,1392.2 1973.5,1386.9 1975,1386.6 1975.5,1390 1978,1388.3 1978.5,1391.3 1981.5,1391.6 1982,1389 1988.5,1395 1993,1396.2 1997.5,1396 1998,1396.6 2005,1396.6 2011.5,1394.9 2014.5,1394.8 2015,1393.9 2015.5,1392.2 2017,1392.3 2018.5,1394 2019,1390.2 2019.5,1387.7 2021,1388.1 2024.5,1395.1 2025,1391.4 2026.5,1392 2028,1391.8 2028.5,1393.2 2029,1390.4 2030.5,1390.4 2032.5,1392.7 2033,1392.7 2033.5,1394.2 2035,1396.1 2035.5,1396.2 2036,1394.5 2038,1395 2043.5,1398.6 2059,1399.3 2059.5,1394.2 2066.5,1398 2072,1396.5 2072.5,1396.5 2073,1393.5 2075,1394.6 2078,1396.5 2084.5,1396.7 2085,1391.9 2086.5,1391.9 2088,1394.9 2088.5,1393 2089,1389.8 2090.5,1390.1 2091.5,1391.6 2092,1391.1 2093.5,1391.2 2097,1396.4 2099.5,1398.1 2101,1399.3 2106,1400.3 2110,1399.8 2111.5,1400.9 2125,1401 2131.5,1401.2 2140,1399.7 2145,1399.7 2147.5,1397.5 2149,1397.5 2149.5,1399 2150,1399.8 2154.5,1394.8 2156,1394.8 2156.5,1397.1 2157,1400 2157.5,1400 2158,1399.5 2160,1400 2161,1400.4 2163,1399.6 2164.5,1399.7 2171,1395.6 2171.5,1395.5 2172,1402.5 2188,1402.6 2190.5,1400.3 2191,1398.3 2192,1397.9 2193,1397.9 2194,1397 2195.5,1397 2196,1399.7 2198,1399.5 2198.5,1394.3 2199,1387.6 2200.5,1387.9 2206,1399.4 2206.5,1397.5 2208,1397.3 2210,1399.7 2211,1399.2 2211.5,1393.2 2213,1393 2215.5,1398.9 2216,1395.1 2216.5,1393.9 2217.5,1393.9 2218,1394.5 2219,1396.8 2221,1398.3 2223.5,1400.8 2228,1397.7 2228.5,1397.7 2229,1403.2 2234.5,1403.8 2240.5,1403.3 2241,1403.9 2246,1404 2247,1403.1 2253,1403.7 2260.5,1401.5 2269.5,1401.3 2270.5,1400.8 2271.5,1400.8 2272,1401.2 2274,1400.3 2274.5,1399.6 2275,1395.8 2276.5,1395.8 2277.5,1395.1 2278.5,1395.1 2279,1399.6 2280,1401.1 2281,1401.1 2282,1401.6 2283,1401.7 2284,1398.1 2285.5,1398.2 2288.5,1402.6 2289.5,1402.7 2290,1403.4 2290.5,1402.6 2292.5,1402.7 2297,1404.7 2308.5,1404.6 2309,1404.4 2309.5,1400 2317,1403.9 2319.5,1399.2 2320,1398.6 2321,1398.6 2321.5,1399.4 2322,1401.7 2324.5,1398.7 2326,1398.8 2326.5,1401.2 2327,1401.7 2328.5,1399.4 2330,1399.2 2330.5,1401.6 2331.5,1402 2333,1402 2334.5,1401.1 2338,1396.3 2339.5,1396.1 2340.5,1399.6 2342.5,1395.4 2344,1395.3 2344.5,1399.3 2345,1396.9 2346,1396.9 2347,1398.3 2348.5,1401 2350,1400.9 2350.5,1401.4 2351.5,1400.9 2352.5,1400.9 2353,1403.4 2354,1403.7 2354.5,1401.7 2355,1401.1 2356.5,1401.4 2361.5,1404.8 2364.5,1405.6 2366,1405.4 2368,1405 2372,1405.5 2375.5,1404.2 2381.5,1400.5 2382,1402.4 2383,1402.3 2383.5,1399.4 2384,1398 2385.5,1398.4 2386,1398.7 2388,1394.6 2389,1394.2 2389.5,1394.2 2390,1396.1 2390.5,1401.1 2391,1402.4 2391.5,1402.4 2392,1396.4 2392.5,1394.2 2393.5,1394.2 2394,1395.1 2395.5,1399.7 2396,1399.7 2397,1397.8 2398.5,1397.8 2399,1401.1 2399.5,1402.7 2400.5,1402.7 2401.5,1396.4 2402.5,1396.5 2403,1396.9 2404,1399.4 2404.5,1400.1 2405,1400.2 2405.5,1401.8 2406.5,1400.6 2408,1400.4 2408.5,1402.3 2409,1403.5 2409.5,1402 2411,1402 2414,1404.6 2418.5,1406.5 2421,1407.3 2433,1407.8 2433.5,1402.2 2438,1405.2 2440,1403.4 2442,1400.7 2443.5,1400.5 2444.5,1405.9 2445,1405.7 2445.5,1403.3 2447,1403.6 2447.5,1404.1 2448,1400.6 2449.5,1400.8 2452,1406 2453.5,1405.8 2454,1404.3 2455.5,1404.5 2456.5,1405.6 2458.5,1402.7 2460,1402.9 2460.5,1405.4 2461.5,1405.1 2461.5,1424.3 2460.5,1424.3 2458,1420.8 2457.5,1420.7 2455.5,1422.2 2454,1422.3 2453,1419.6 2452.5,1419.6 2450.5,1422.7 2449,1422.8 2448,1419.5 2447.5,1419.5 2446,1420.3 2444.5,1420.3 2444,1419.3 2443,1419.1 2442.5,1422.6 2434,1417.1 2432,1416.7 2424,1416.8 2419,1417.9 2416,1418.3 2415.5,1417.6 2415,1417.8 2413,1420.3 2412,1420.3 2410,1422 2408.5,1422.2 2408,1421.6 2407.5,1419.4 2407,1422.2 2406.5,1424.1 2405.5,1424 2402,1419.7 2401.5,1419.7 2400.5,1421.4 2399.5,1422.6 2398.5,1422.6 2398,1420.7 2397.5,1419.3 2396.5,1419.3 2395.5,1420.5 2394.5,1420.5 2394,1421.2 2392.5,1424.7 2391,1424.9 2390.5,1421.7 2390,1422 2388.5,1425.7 2387.5,1427.8 2386.5,1427.7 2386,1427.1 2385.5,1422.1 2385,1421.6 2384,1421.5 2381.5,1419.2 2381,1420.8 2379.5,1420.6 2378,1417.8 2377.5,1417.3 2375,1418.9 2372.5,1420.1 2372,1415 2362.5,1414.5 2360.5,1415 2358.5,1414.9 2356,1416.5 2354.5,1416.6 2351.5,1419.5 2350,1419.6 2349.5,1417.3 2348,1417.4 2344.5,1417.3 2344,1418.6 2343,1418.6 2342,1418.2 2341,1417.7 2340,1417.3 2339,1417.3 2338.5,1419.4 2338,1425 2336.5,1425 2332.5,1418.4 2331.5,1417.2 2325.5,1416.8 2319.5,1414.9 2319,1418.8 2310,1414.1 2306.5,1413.8 2304.5,1414.2 2301.5,1414 2294,1413.6 2293,1414.5 2290,1414.2 2289.5,1414.8 2289,1417 2286.5,1416.6 2286,1417.8 2283,1418.1 2282.5,1417.5 2282,1416.3 2281.5,1417.1 2281,1419.2 2280,1419.2 2278,1417.2 2277,1418.4 2276.5,1421.8 2276,1421.8 2274.5,1421.4 2273,1421.4 2272.5,1418.3 2271,1416.3 2270.5,1416.3 2270,1420.5 2269,1420.5 2268,1419.7 2265.5,1423.5 2264.5,1423.5 2264,1422.3 2262,1422.1 2260.5,1420 2259.5,1421.2 2258,1421.2 2257.5,1415.8 2257,1415.1 2255,1414.1 2250.5,1413.1 2243.5,1413.3 2240.5,1413.1 2234,1412.8 2226.5,1414 2223,1416.3 2222.5,1418.1 2222,1418.1 2219.5,1418.5 2219,1416.6 2218.5,1418.4 2218,1418.4 2216,1421.5 2214.5,1421.7 2214,1419.7 2213.5,1416 2212.5,1416 2212,1416.5 2211.5,1419.2 2210.5,1419.2 2209.5,1419.6 2208.5,1419.5 2208,1419 2207.5,1415.9 2207,1416.3 2205,1422.2 2204.5,1423 2203.5,1423 2203,1419.4 2202.5,1417.7 2201,1421.9 2200,1424.2 2199,1424.2 2198.5,1423.5 2198,1420.8 2196.5,1420.9 2196,1415.3 2195.5,1415.2 2188.5,1412.2 2182,1411.7 2180.5,1412.7 2174,1411.6 2169,1412.9 2165.5,1415.2 2164.5,1415.7 2160.5,1418.1 2160,1416.2 2158.5,1415.4 2157.5,1416.3 2156.5,1416.3 2156,1415.4 2155.5,1413.2 2155,1414.6 2154.5,1417.3 2154,1417.7 2153,1417.7 2149.5,1413.3 2148.5,1413 2147,1414.2 2145.5,1414.2 2145,1413 2142.5,1413.1 2141,1413.8 2139,1414.2 2138.5,1413.5 2138,1414.2 2136.5,1414.2 2131,1410.8 2129,1410.5 2128.5,1411.8 2128,1411.7 2123.5,1410.7 2119.5,1410.1 2113,1410.6 2111.5,1409.9 2104.5,1409.7 2101.5,1410.3 2101,1415.5 2096.5,1412.4 2095.5,1413.5 2094.5,1413.5 2092.5,1412.3 2091,1412.5 2090.5,1413.1 2090,1413.1 2088.5,1412.6 2086.5,1412.5 2086,1418.5 2085.5,1419.6 2084.5,1419.6 2081.5,1414.5 2079,1412.7 2077,1412.2 2070,1411.4 2069.5,1413.7 2060,1408.5 2046.5,1407.8 2038.5,1408.1 2037,1408.4 2036,1409.7 2035.5,1413.8 2034,1412.9 2033.5,1413.1 2031.5,1415.6 2030,1415.2 2029.5,1411.3 2029,1413.2 2028.5,1413.2 2026.5,1412.7 2026,1413.2 2024.5,1413.1 2024,1411 2022.5,1410.9 2022,1409.4 2020.5,1409.7 2019,1409.3 2018.5,1412.9 2018,1415.5 2016.5,1415.1 2015,1412.3 2013,1412.2 2012.5,1409 2010,1408.4 2009.5,1409.1 2008.5,1409.1 2002.5,1406 1990.5,1405.3 1990,1412.3 1984,1406.8 1982,1409 1980.5,1409 1980,1407.7 1979,1407.8 1977.5,1409.6 1976.5,1409.5 1975.5,1408 1975,1407.9 1974,1409.9 1973,1409.8 1972,1409.2 1968.5,1411.9 1968,1411.3 1967.5,1413.8 1966,1413.6 1963,1407.4 1960,1407 1954.5,1404.4 1949.5,1403.8 1941.5,1404.2 1939.5,1403.6 1932,1403.4 1927,1407.6 1925.5,1407.4 1925,1405.7 1922.5,1410.8 1921,1411.1 1920.5,1409.8 1919,1412.6 1917.5,1412.6 1917,1406.6 1916,1406.5 1915.5,1408.4 1915,1413.3 1914.5,1414 1913.5,1413.9 1913,1413.3 1909.5,1406.5 1908.5,1406.4 1908,1410.9 1906.5,1410.8 1904,1406.5 1902.5,1406.6 1900.5,1405.1 1893.5,1402.6 1890.5,1403.1 1883.5,1408.7 1883,1402.2 1882,1402.2 1881.5,1409.5 1881,1409.4 1872,1402.3 1870.5,1401.9 1868,1402.6 1863.5,1404.3 1862.5,1405.8 1860.5,1408.7 1859.5,1408.6 1859,1407.5 1858.5,1405.7 1857.5,1407.5 1856,1407.5 1855.5,1405.4 1855,1405 1854.5,1406.7 1854,1411.2 1853.5,1412.3 1853,1412.3 1852,1411.9 1848.5,1406.3 1847,1405.4 1845.5,1405.1 1845,1408.7 1844.5,1410.6 1844,1410.6 1843,1410.1 1842,1407.5 1841.5,1412.2 1840,1412.2 1839,1410.9 1838.5,1411.4 1837,1414.2 1835.5,1414.1 1835,1405.2 1834.5,1407 1833,1406.8 1832.5,1406.2 1831,1405.8 1830.5,1416.1 1829,1416.1 1828.5,1414.6 1827,1409.1 1825,1408.9 1824.5,1404.4 1824,1402.5 1819.5,1400.7 1811,1400.1 1808,1400.8 1805.5,1401.1 1805,1406.6 1801,1404 1799.5,1405.8 1798.5,1405.7 1798,1403.3 1797.5,1402.1 1795.5,1402.5 1795,1405.1 1794.5,1406.2 1793.5,1406.2 1792.5,1405.4 1791.5,1411 1790,1410.6 1787,1405.7 1786,1405.6 1784.5,1403.7 1784,1403.7 1783.5,1404.6 1782,1404.7 1781.5,1404.2 1780,1406.8 1778.5,1407 1778,1404.6 1776,1409.1 1774.5,1409.1 1774,1403.6 1772.5,1403.6 1772,1402.3 1769.5,1408.9 1768,1408.9 1767.5,1405.6 1767,1401.5 1761.5,1399.5 1756,1398.7 1748,1403.3 1747.5,1398.6 1745,1398.6 1744,1399 1743,1399.5 1742,1400.4 1741.5,1401.7 1741,1401.7 1737.5,1406 1736,1406.2 1735.5,1404.8 1735,1402.2 1730.5,1410.7 1729,1410.7 1728,1402.1 1726.5,1402 1726,1404.5 1725.5,1405.5 1724.5,1405.4 1721.5,1402.5 1720,1402.7 1719.5,1402 1715.5,1401.7 1713,1402.9 1712.5,1400.6 1712,1400.4 1711.5,1404.6 1702.5,1398.1 1698,1398.7 1696.5,1398.3 1691.5,1398 1691,1405.1 1690.5,1405 1685,1400.2 1682.5,1400.5 1682,1398.7 1681.5,1399.9 1681,1403.4 1679.5,1403.7 1678.5,1402.6 1676.5,1405.4 1675,1405.5 1674.5,1402.3 1672.5,1404.7 1671,1404.8 1670.5,1403.8 1669.5,1404.4 1669,1403.6 1668,1403.6 1666.5,1402.1 1665.5,1402.7 1664,1403 1663.5,1402.3 1663,1400.1 1662,1402.2 1661,1402.4 1660,1404.4 1659.5,1404.9 1658.5,1404.9 1657.5,1399.9 1656.5,1399.9 1656,1403.2 1655.5,1405.7 1654,1405.4 1653,1403.1 1652,1404.9 1651,1404.9 1646,1399.1 1641.5,1397.5 1634,1397 1633.5,1403 1626,1397 1625.5,1397.6 1623.5,1397.4 1621,1400.1 1619.5,1400.2 1619,1399.2 1618,1399.5 1617.5,1406.7 1617,1410.2 1615.5,1409.8 1612.5,1403.9 1611.5,1402.3 1609.5,1403.6 1609,1402.5 1608.5,1402.5 1607.5,1401.4 1605,1404.4 1603.5,1404.4 1603,1402 1601.5,1404.6 1600.5,1405.9 1599.5,1405.8 1599,1404.6 1598.5,1399.8 1593,1399.1 1587,1396.7 1583,1395.7 1582,1396.4 1577.5,1395.7 1571.5,1396.1 1570,1395.3 1562,1395.1 1556,1398.4 1553,1399.8 1552.5,1395.4 1551,1395.4 1550,1397 1548,1396.9 1545.5,1399.8 1544,1399.8 1543.5,1397.7 1542,1397.4 1541.5,1398.7 1540,1398.6 1539.5,1400.5 1538.5,1400.2 1537.5,1400.5 1536.5,1402.4 1535,1402.4 1534.5,1398.5 1534,1399.3 1532,1402 1531,1401.9 1530,1398.9 1529.5,1401.7 1528,1401.6 1526.5,1398.9 1525,1401.1 1523.5,1401.4 1523,1400.2 1522.5,1397.1 1522,1396.4 1520,1398.1 1518.5,1398.1 1518,1394.6 1517,1394.3 1506.5,1393.7 1503.5,1394.6 1501,1394.6 1499.5,1395.4 1495,1399.5 1493.5,1399.6 1493,1395.9 1492.5,1395.7 1492,1399.1 1490.5,1399 1488,1396.6 1487.5,1402 1487,1403.1 1486,1403 1485.5,1402.2 1483,1396.8 1482.5,1396.5 1482,1397.4 1481.5,1401.3 1481,1403 1480.5,1403 1479.5,1402.6 1477.5,1398 1477,1397.7 1476.5,1398.2 1475.5,1398.2 1474,1401.4 1472.5,1401.6 1472,1396.4 1471.5,1396.3 1470,1397.1 1469.5,1398.8 1468,1398.7 1467.5,1398.1 1467,1398.4 1466.5,1400.6 1465.5,1401 1464.5,1402.7 1463,1402.7 1462.5,1397.2 1461,1395.1 1456.5,1393.2 1452.5,1393.3 1451,1392.8 1447.5,1392.5 1438.5,1393.4 1438,1392.7 1433,1396.4 1431.5,1396.4 1431,1394.7 1428.5,1394.6 1428,1396.6 1426.5,1396.6 1425,1394.8 1423.5,1394.7 1423,1395.8 1422.5,1395.8 1420.5,1395.2 1419.5,1396.4 1418,1396.6 1417.5,1394.6 1417,1394.6 1416.5,1396.6 1416,1399.8 1414.5,1399.6 1412.5,1395.7 1412,1395.3 1410.5,1396.3 1408.5,1397.2 1408,1394.2 1407,1394.1 1401,1392.4 1397,1392.5 1396,1391.6 1390,1391.3 1382.5,1395.9 1382,1391.2 1373,1397.7 1372.5,1394.2 1370,1397.3 1368.5,1397.6 1368,1395.9 1367.5,1397.5 1367,1400.9 1365.5,1400.8 1364.5,1398.6 1364,1398.5 1363,1400.2 1361.5,1400.1 1361,1398.9 1360.5,1399.9 1360,1400.3 1359,1400.3 1358.5,1395.9 1358,1394.4 1356.5,1394.3 1348.5,1393.7 1342.5,1390.3 1341.5,1390.4 1338.5,1390.1 1321,1389.4 1313.5,1395.2 1313,1391.6 1312.5,1391.6 1312,1396.2 1309,1393.4 1307.5,1393.3 1307,1391.4 1305,1391.3 1304.5,1393.4 1304,1397.3 1302.5,1397.2 1300,1392.7 1299.5,1392.7 1296,1398.4 1294.5,1398.3 1294,1394.5 1293.5,1391.2 1292,1391.2 1287.5,1392.8 1287,1391 1281,1390.7 1279.5,1391.5 1274.5,1394.3 1274,1388.9 1272.5,1389.5 1270.5,1389.4 1269.5,1388 1251.5,1387.4 1251,1388.1 1248.5,1388.1 1248,1389.7 1247.5,1392.7 1246,1392.5 1245,1391.5 1244.5,1393.8 1244,1398.2 1242.5,1398.2 1241,1395.6 1239,1395.5 1238,1398 1236.5,1397.9 1236,1390.9 1234.5,1390.8 1231.5,1391.6 1231,1390.7 1222,1390 1217.5,1387.8 1214,1386.4 1213.5,1387 1208.5,1386.5 1199.5,1386 1193.5,1386.7 1193,1392.6 1187.5,1388.8 1186.5,1388.5 1184.5,1388.3 1184,1392.3 1182.5,1392.3 1181.5,1390.4 1180.5,1388.9 1179,1389.9 1177.5,1390 1174,1395.4 1173,1395.4 1172.5,1394 1172,1388.3 1171.5,1388.3 1171,1391.8 1170.5,1393 1169.5,1393 1169,1392.4 1167,1388.2 1166.5,1388.5 1163,1388.2 1162.5,1389.2 1161,1389.2 1159.5,1388.1 1156,1387.8 1146,1385.2 1139,1386 1137.5,1384.8 1134,1384.8 1132.5,1385.4 1132,1391.6 1131.5,1391.6 1124.5,1386.9 1121,1390.8 1119.5,1391 1118.5,1387.9 1117,1388 1116,1388.6 1114.5,1388.6 1114,1387.9 1112,1387.9 1111.5,1389.7 1111,1390.8 1110,1390.7 1108.5,1388.8 1108,1389.7 1107,1389.7 1106,1389.1 1105.5,1394.2 1105,1394.9 1104,1394.8 1102.5,1392.5 1101,1390.7 1099.5,1387.8 1098.5,1387.4 1098,1388.8 1097.5,1388.8 1097,1389.6 1093,1386.9 1084.5,1383.4 1080,1383.4 1077,1383.1 1071,1383 1070.5,1383.8 1069.5,1383.8 1067.5,1384.2 1065,1384.7 1063,1385.2 1062.5,1387.2 1061,1387.5 1059,1386.1 1057.5,1386.8 1056.5,1386.8 1055.5,1386.4 1055,1386.8 1051,1392.9 1049.5,1393 1049,1389.1 1048.5,1386.9 1046.5,1392.5 1045,1392.8 1044.5,1390.3 1044,1389 1042.5,1388.6 1040.5,1386.1 1033.5,1385.6 1026.5,1383 1019.5,1388.3 1018,1389.1 1017.5,1382.7 1017,1382.6 1016.5,1389.5 1006.5,1381.9 1004,1382 1003.5,1388.6 998,1384.8 995,1382.9 994.5,1384.3 994,1387.7 992.5,1387.6 992,1386.8 989.5,1389.9 988.5,1389.9 988,1389 987.5,1384.6 987,1385 985.5,1384.9 985,1383.7 983,1383.6 982.5,1384.5 982,1389.8 980.5,1389.7 980,1390.3 978.5,1390.2 977,1387.5 976.5,1389.7 975,1389.3 973,1384 972,1383.1 967.5,1380.8 966,1380.8 965.5,1386.5 957.5,1378.9 941.5,1377.7 940,1378.8 937.5,1378.1 936,1378.7 935,1386.4 933.5,1386 931.5,1383.3 930,1383.1 928,1380.1 927.5,1380.2 925.5,1380.4 925,1379.8 923.5,1380.8 922,1380.9 921.5,1379.8 921,1379.5 919,1379.3 918.5,1381.1 917,1380.9 915.5,1379.4 915,1380 913.5,1379.9 912,1378.6 908,1376.4 904,1374.4 903.5,1380.6 894,1373.5 881.5,1372.1 876,1373 873,1373.3 872,1372.1 871.5,1374.8 871,1375.2 869.5,1374.7 868,1376.6 867,1376.5 866,1377.1 864.5,1377.2 864,1375.6 863,1377.6 861,1377.5 860.5,1378.2 859.5,1378.1 859,1376.7 858.5,1373.9 857.5,1375.2 856,1375.3 855.5,1374.2 854.5,1375.6 853,1375.8 852.5,1374 852,1371.3 850.5,1371.2 850,1376.4 848.5,1376.3 842.5,1368.9 839.5,1368.8 838,1367.9 834,1367.5 833.5,1374.9 824.5,1367 822,1367.1 818,1367.8 817,1367 815,1368.3 813.5,1368.4 812.5,1367.5 811.5,1370.5 810.5,1370.4 808.5,1369.3 808,1371.3 806.5,1371.6 804,1368.9 789,1368.1 783.5,1366.1 783,1366.5 778,1365.6 777.5,1370.3 777,1370.3 769.5,1365 761.5,1365.8 758.5,1367 754,1367.3 753.5,1366.5 751.5,1367.9 749.5,1367.7 747,1369.7 745.5,1369.7 743.5,1372.8 742.5,1372.7 741.5,1371.6 739.5,1375.5 738,1375.7 737.5,1367.9 737,1367.6 736.5,1371.9 735,1371.9 733.5,1369.1 732.5,1368.6 729.5,1372.6 728.5,1372.6 728,1371.3 727.5,1367.3 727,1367.3 726,1368.1 724.5,1368.2 724,1367.1 723,1366.9 722.5,1369.4 716,1365.1 713.5,1363.9 712,1364.1 708.5,1363.9 695,1362.9 686.5,1363.4 684.5,1362.9 683,1363.6 682.5,1365 681,1365.1 680.5,1368.5 675,1364.2 674.5,1367.3 674,1369.5 673,1369.5 672,1368.5 670,1366.5 669.5,1369.4 668,1369.3 667,1367.5 666.5,1368.2 665,1368.2 664.5,1364.9 664,1364.9 663,1365.7 661,1365.6 660.5,1366 659,1365.9 658,1361.8 656,1361 642.5,1359.7 634.5,1359.7 631,1360.7 628.5,1361 628,1360 627.5,1360.2 627,1363.8 624,1362 622,1361.9 621.5,1360.9 619,1360.9 618.5,1362.2 617.5,1362.1 615.5,1360.7 605.5,1359.4 598,1356.3 597,1356.4 596.5,1357.2 593,1356.3 589,1355.2 580.5,1359.2 580,1354.2 577.5,1354 576.5,1354.8 575,1354.8 569.5,1357.3 565.5,1362.9 564,1363.1 563.5,1361.3 563,1355.8 562.5,1354.8 561,1354.7 560.5,1357.2 559,1357.1 558,1356.1 557,1357 556,1356.9 555.5,1356.1 555,1353.9 554.5,1354.2 551.5,1358.6 550,1358.2 549.5,1354.7 549,1352.9 547.5,1352.6 547,1355.2 545.5,1355 544.5,1353.8 543.5,1356.1 543,1356 542,1355.4 541.5,1354.3 539.5,1350.4 535,1348 528,1346.4 518.5,1345.6 518,1345 515,1344.3 510.5,1344.7 510,1348.6 507,1346.6 505,1346 504.5,1344.8 504,1345.2 503.5,1349.2 502,1348.8 500.5,1346.6 498.5,1348.6 497,1348.5 496,1343.6 495.5,1343.5 494.5,1343.8 491,1348 489.5,1347.7 489,1342.3 488.5,1345.8 487,1345.5 484.5,1341.6 478.5,1339.9 470,1335.6 469,1336.4 467,1335.7 466.5,1339.3 466,1339 456.5,1331.6 451.5,1329.1 445,1326.5 444.5,1327.1 444,1326.9 438,1333.3 436.5,1332.8 436,1329 434.5,1330.7 433,1330.1 432.5,1325 432,1327.1 431.5,1332 431,1332.2 430,1331.9 426,1322.7 423.5,1321.8 423,1323.5 413.5,1315 410.5,1313.3 408.5,1313.4 404,1311 395.5,1306.9 395,1312.4 388,1304.1 385,1302.7 383,1302.6 381,1301.6 380,1302.2 378.5,1301.6 374,1301.5 373,1300.6 372.5,1299.2 372,1296.3 370,1296.7 368.5,1295.2 368,1292.6 367.5,1291.7 367,1292.8 366.5,1293.1 365.5,1292 363,1288.3 361.5,1287.6 360,1285.7 359.5,1284 357.5,1281.3 352,1272.7"/>
<polyline class="ln" stroke="#000000" points="324.5,-400 324.5,-397 324.5,-394 324.5,-391 324.5,-388 324.5,-385 324.5,-382 324.5,-379 324.5,-376 324.5,-373 324.5,-370 324.5,-367 324.5,-364 324.5,-361 324.5,-358 324.5,-355 324.5,-352 324.5,-349 324.5,-346 324.5,-343 324.5,-340 324.5,-337 324.5,-334 324.5,-331 324.5,-328 324.5,-325 324.5,-322 324.5,-319 324.5,-316 324.5,-313 324.5,-310 324.5,-307 324.5,-304 324.5,-301 324.5,-298 324.5,-295 324.5,-292 324.5,-289 324.5,-286 324.5,-283 324.5,-280 324.5,-277 324.5,-274 324.5,-271 324.5,-268 324.5,-265 324.5,-262 324.5,-259 324.5,-256 324.5,-253 324.5,-250 324.5,-247 324.5,-244 324.5,-241 324.5,-238 324.5,-235 324.5,-232 324.5,-229 324.5,-226 324.5,-223 324.5,-220 324.5,-217 324.5,-214 324.5,-211 324.5,-208 324.5,-205 324.5,-202 324.5,-199 324.5,-196 324.5,-193 324.5,-190 324.5,-187 324.5,-184 324.5,-181 324.5,-178 324.5,-175 324.5,-172 324.5,-169 324.5,-166 324.5,-163 324.5,-160 324.5,-157 324.5,-154 324.5,-151 324.5,-148 324.5,-145 324.5,-142 324.5,-139 324.5,-136 324.5,-133 324.5,-130 324.5,-127 324.5,-124 324.5,-121 324.5,-118 324.5,-115 324.5,-112 324.5,-109 324.5,-106 324.5,-103 324.5,-100 324.5,-97 324.5,-94 324.5,-91 324.5,-88 324.5,-85 324.5,-82 324.5,-79 324.5,-76 324.5,-73 324.5,-70 324.5,-67 324.5,-64 324.5,-61 324.5,-58 324.5,-55 324.5,-52 324.5,-49 324.5,-46 324.5,-43 324.5,-40 324.5,-37 324.5,-34 324.5,-31 324.5,-28 324.5,-25 324.5,-22 324.5,-19 324.5,-16 324.5,-13 324.5,-10 324.5,-7 324.5,-4 324.5,-1 324.5,2 324.5,5 324.5,8 324.5,11 324.5,14 324.5,17 324.5,20 324.5,23 324.5,26 324.5,29 324.5,32 324.5,35 324.5,38 324.5,41 324.5,44 324.5,47 324.5,50 324.5,53 324.5,56 324.5,59 324.5,62 324.5,65 324.5,68 324.5,71 324.5,74 324.5,77 324.5,80 324.5,83 324.5,86 324.5,89 324.5,92 324.5,95 324.5,98 324.5,101 324.5,104 324.5,107 324.5,110 324.5,113 324.5,116 324.5,119 324.5,122 324.5,125 324.5,128 324.5,131 324.5,134 324.5,137 324.5,140 324.5,143 324.5,146 324.5,149 324.5,152 324.5,155 324.5,158 324.5,161 324.5,164 324.5,167 324.5,170 324.5,173 324.5,176 324.5,179 324.5,182 324.5,185 324.5,188 324.5,191 324.5,194 324.5,197 324.5,200 324.5,203 324.5,206 324.5,209 324.5,212 324.5,215 324.5,218 324.5,221 324.5,224 324.5,227 324.5,230 324.5,233 324.5,236 324.5,239 324.5,242 324.5,245 324.5,248 324.5,251 324.5,254 324.5,257 324.5,260 324.5,263 324.5,266 324.5,269 324.5,272 324.5,275 324.5,278 324.5,281 324.5,284 324.5,287 324.5,290 324.5,293 324.5,296 324.5,299 324.5,302 324.5,305 324.5,308 324.5,311 324.5,314 324.5,317 324.5,320 324.5,323 324.5,326 324.5,329 324.5,332 324.5,335 324.5,338 324.5,341 324.5,344 324.5,347 324.5,350 324.5,353 324.5,356 324.5,359 324.5,362 324.5,365 324.5,368 324.5,371 324.5,374 324.5,377 324.5,380 324.5,383 324.5,386 324.5,389 324.5,392 324.5,395 324.5,398 324.5,401 324.5,404 324.5,407 324.5,410 324.5,413 324.5,416 324.5,419 324.5,422 324.5,425 324.5,428 324.5,431 324.5,434 324.5,437 324.5,440 324.5,443 324.5,446 324.5,449 324.5,452 324.5,455 324.5,458 324.5,461 324.5,464 324.5,467 324.5,470 324.5,473 324.5,476 324.5,479 324.5,482 324.5,485 324.5,488 324.5,491 324.5,494 324.5,497 324.5,500 324.5,503 324.5,506 324.5,509 324.5,512 324.5,515 324.5,518 324.5,521 324.5,524 324.5,527 324.5,530 324.5,533 324.5,536 324.5,539 324.5,542 324.5,545 324.5,548 324.5,551 324.5,554 324.5,557 324.5,560 324.5,563 324.5,566 324.5,569 324.5,572 324.5,575 324.5,578 324.5,581 324.5,584 324.5,587 324.5,590 324.5,593 324.5,596 324.5,599 324.5,602 324.5,605 324.5,608 324.5,611 324.5,614 324.5,617 324.5,620 324.5,623 324.5,626 324.5,629 324.5,632 324.5,635 324.5,638 324.5,641 324.5,644 324.5,647 324.5,650 324.5,653 324.5,656 324.5,659 324.5,662 324.5,665 324.5,668 324.5,671 324.5,674 324.5,677 324.5,680 324.5,683 324.5,686 324.5,689 324.5,692 324.5,695 324.5,698 324.5,701 324.5,704 324.5,707 324.5,710 324.5,713 324.5,716 324.5,719 324.5,722 324.5,725 324.5,728 324.5,731 324.5,734 324.5,737 324.5,740 324.5,743 324.5,746 324.5,749 324.5,752 324.5,755 324.5,758 324.5,761 324.5,764 324.5,767 324.5,770 324.5,773 324.5,776 324.5,779 324.5,782 324.5,785 324.5,788 324.5,791 324.5,794 324.5,797 324.5,800 324.5,803 324.5,806 324.5,809 324.5,812 324.5,815 324.5,818 324.5,821 324.5,824 324.5,827 324.5,830 324.5,833 324.5,836 324.5,839 324.5,842 324.5,845 324.5,848 324.5,851 324.5,854 324.5,857 324.5,860 324.5,863 324.5,866 324.5,869 324.5,872 324.5,875 324.5,878 324.5,881 324.5,884 324.5,887 324.5,890 324.5,893 324.5,896 324.5,899 324.5,902 324.5,905 324.5,908 324.5,911 324.5,914 324.5,917 324.5,920 324.5,923 324.5,926 324.5,929 324.5,932 324.5,935 324.5,938 324.5,941 324.5,944 324.5,947 324.5,950 324.5,953 324.5,956 324.5,959 324.5,962 324.5,965 324.5,968 324.6,971 324.6,974 324.7,977 324.8,980 324.8,983 324.9,986 325,989 325,992 325.1,995 325.2,998 325.3,1001 325.3,1004 325.4,1007 325.5,1010 325.5,1013 325.5,1016 325.6,1019 325.6,1022 325.6,1025 325.7,1028 325.7,1031 325.7,1034 325.8,1037 325.8,1040 325.8,1043 325.9,1046 325.9,1049 326,1052 326,1055 326.1,1058 326.2,1061 326.4,1064 326.5,1067 326.7,1070 326.9,1073 327.1,1076 327.4,1079 327.6,1082 327.9,1084.9 328.1,1087.9 328.4,1090.9 328.7,1093.9 329,1096.9 329.4,1099.8 329.8,1102.8 330.3,1105.8 330.7,1108.8 331.2,1111.7 331.7,1114.7 332.1,1117.7 332.6,1120.6 333.1,1123.6 333.6,1126.5 334.1,1129.5 334.6,1132.4 335.2,1135.4 335.7,1138.3 336.2,1141.3 336.7,1144.3 337.2,1147.2 337.7,1150.2 338.3,1153.2 338.9,1156.1 339.7,1158.9 340.7,1161.8 341.8,1164.6 342.9,1167.4 344.2,1170.1 345.4,1172.8 346.7,1175.6 348.1,1178.2 349.6,1180.9 351.2,1183.4 352.9,1185.8 354.7,1188.2 356.7,1190.4 358.8,1192.7 360.9,1194.8 363,1197 365.1,1199.1 367.3,1201.1 369.6,1203.2 371.9,1205.1 374.3,1206.8 376.7,1208.5 379.3,1210 382,1211.5 384.6,1212.8 387.3,1214.2 390,1215.5 392.8,1216.7 395.6,1217.8 398.3,1219 401.1,1220.1 403.8,1221.3 406.6,1222.6 409.3,1223.8 412.1,1225.1 414.8,1226.3 417.5,1227.5 420.3,1228.8 423,1230 425.8,1231.1 428.6,1232.2 431.3,1233.3 434.1,1234.4 437,1235.5 439.8,1236.6 442.6,1237.6 445.4,1238.6 448.3,1239.6 451.1,1240.5 454,1241.4 456.9,1242.2 459.7,1243 462.6,1243.7 465.6,1244.4 468.5,1245.1 471.4,1245.7 474.4,1246.4 477.3,1247 480.2,1247.6 483.2,1248.1 486.1,1248.7 489.1,1249.3 492,1249.8 495,1250.3 497.9,1250.8 500.9,1251.3 503.9,1251.8 506.8,1252.3 509.8,1252.8 512.8,1253.2 515.7,1253.7 518.7,1254.2 521.6,1254.6 524.6,1255.1 527.6,1255.5 530.5,1256 533.5,1256.5 536.5,1256.9 539.4,1257.4 542.4,1257.8 545.4,1258.2 548.3,1258.7 551.3,1259.1 554.3,1259.6 557.3,1260 560.2,1260.4 563.2,1260.8 566.2,1261.2 569.1,1261.7 572.1,1262.1 575.1,1262.5 578.1,1262.9 581,1263.3 584,1263.7 587,1264 589.9,1264.4 592.9,1264.8 595.9,1265.2 598.9,1265.6 601.8,1266 604.8,1266.4 607.8,1266.8 610.8,1267.2 613.8,1267.5 616.7,1267.9 619.7,1268.3 622.7,1268.6 625.7,1269 628.7,1269.3 631.6,1269.6 634.6,1269.9 637.6,1270.2 640.6,1270.5 643.6,1270.8 646.6,1271 649.6,1271.2 652.5,1271.5 655.5,1271.7 658.5,1272 661.5,1272.2 664.5,1272.4 667.5,1272.6 670.5,1272.8 673.5,1273.1 676.5,1273.2 679.5,1273.4 682.5,1273.6 685.5,1273.8 688.5,1273.9 691.5,1274.1 694.5,1274.2 697.5,1274.3 700.5,1274.4 703.5,1274.5 706.5,1274.6 709.5,1274.6 712.5,1274.7 715.5,1274.7 718.5,1274.8 721.5,1274.8 724.5,1274.9 727.5,1274.9 730.5,1274.9 733.5,1275 736.5,1275 739.5,1275 742.5,1275.1 745.5,1275.1 748.5,1275.2 751.5,1275.2 754.5,1275.2 757.5,1275.3 760.5,1275.3 763.5,1275.4 766.5,1275.4 769.5,1275.5 772.5,1275.6 775.5,1275.7 778.5,1275.8 781.5,1275.9 784.5,1276 787.5,1276.1 790.5,1276.2 793.5,1276.3 796.5,1276.5 799.5,1276.6 802.4,1276.8 805.4,1276.9 808.4,1277.1 811.4,1277.3 814.4,1277.4 817.4,1277.6 820.4,1277.8 823.4,1278 826.4,1278.2 829.4,1278.5 832.3,1278.8 835.3,1279.2 838.3,1279.6 841.3,1280 844.2,1280.4 847.2,1280.9 850.2,1281.4 853.1,1281.8 856.1,1282.3 859.1,1282.8 862,1283.3 865,1283.8 868,1284.3 870.9,1284.7 873.9,1285.2 876.9,1285.6 879.9,1286 882.8,1286.3 885.8,1286.6 888.8,1286.9 891.8,1287.1 894.8,1287.3 897.8,1287.5 900.8,1287.6 903.8,1287.8 906.7,1287.9 909.7,1288.1 912.7,1288.2 915.7,1288.4 918.7,1288.5 921.7,1288.6 924.7,1288.7 927.7,1288.9 930.7,1289 933.7,1289.1 936.7,1289.2 939.7,1289.3 942.7,1289.5 945.7,1289.6 948.7,1289.7 951.7,1289.9 954.7,1290 957.7,1290.2 960.7,1290.3 963.7,1290.5 966.7,1290.7 969.7,1290.9 972.7,1291.1 975.7,1291.3 978.7,1291.5 981.7,1291.7 984.7,1291.8 987.7,1292 990.7,1292.2 993.7,1292.4 996.7,1292.6 999.7,1292.7 1002.6,1292.9 1005.6,1293 1008.6,1293.2 1011.6,1293.3 1014.6,1293.4 1017.6,1293.5 1020.6,1293.6 1023.6,1293.6 1026.6,1293.7 1029.6,1293.7 1032.6,1293.8 1035.6,1293.8 1038.6,1293.9 1041.6,1293.9 1044.6,1294 1047.6,1294 1050.6,1294 1053.6,1294.1 1056.6,1294.1 1059.6,1294.2 1062.6,1294.2 1065.6,1294.3 1068.6,1294.3 1071.6,1294.4 1074.6,1294.4 1077.6,1294.5 1080.6,1294.6 1083.6,1294.7 1086.6,1294.8 1089.6,1294.9 1092.6,1295 1095.6,1295.1 1098.6,1295.3 1101.6,1295.4 1104.6,1295.6 1107.6,1295.7 1110.6,1295.9 1113.6,1296 1116.6,1296.2 1119.6,1296.3 1122.6,1296.5 1125.6,1296.6 1128.6,1296.7 1131.6,1296.9 1134.6,1297 1137.6,1297 1140.6,1297.1 1143.6,1297.2 1146.6,1297.3 1149.6,1297.4 1152.6,1297.4 1155.6,1297.5 1158.6,1297.6 1161.6,1297.6 1164.6,1297.7 1167.6,1297.8 1170.6,1297.8 1173.6,1297.9 1176.6,1297.9 1179.6,1298 1182.6,1298.1 1185.6,1298.1 1188.6,1298.2 1191.6,1298.3 1194.6,1298.3 1197.6,1298.4 1200.6,1298.5 1203.5,1298.6 1206.5,1298.6 1209.5,1298.7 1212.5,1298.8 1215.5,1298.9 1218.5,1299 1221.5,1299.1 1224.5,1299.2 1227.5,1299.3 1230.5,1299.3 1233.5,1299.4 1236.5,1299.5 1239.5,1299.6 1242.5,1299.7 1245.5,1299.8 1248.5,1300 1251.5,1300.1 1254.5,1300.2 1257.5,1300.3 1260.5,1300.4 1263.5,1300.5 1266.5,1300.6 1269.5,1300.8 1272.5,1300.9 1275.5,1301.1 1278.5,1301.2 1281.5,1301.4 1284.5,1301.6 1287.5,1301.7 1290.5,1301.9 1293.5,1302.1 1296.5,1302.3 1299.5,1302.4 1302.5,1302.6 1305.5,1302.8 1308.5,1302.9 1311.5,1303.1 1314.4,1303.2 1317.4,1303.3 1320.4,1303.4 1323.4,1303.5 1326.4,1303.7 1329.4,1303.8 1332.4,1303.8 1335.4,1303.9 1338.4,1304 1341.4,1304.1 1344.4,1304.2 1347.4,1304.3 1350.4,1304.4 1353.4,1304.5 1356.4,1304.5 1359.4,1304.6 1362.4,1304.7 1365.4,1304.8 1368.4,1304.8 1371.4,1304.9 1374.4,1305 1377.4,1305 1380.4,1305.1 1383.4,1305.1 1386.4,1305.2 1389.4,1305.2 1392.4,1305.3 1395.4,1305.3 1398.4,1305.4 1401.4,1305.4 1404.4,1305.5 1407.4,1305.5 1410.4,1305.6 1413.4,1305.6 1416.4,1305.6 1419.4,1305.7 1422.4,1305.7 1425.4,1305.7 1428.4,1305.8 1431.4,1305.8 1434.4,1305.8 1437.4,1305.9 1440.4,1305.9 1443.4,1305.9 1446.4,1306 1449.4,1306 1452.4,1306 1455.4,1306.1 1458.4,1306.1 1461.4,1306.1 1464.4,1306.1 1467.4,1306.1 1470.4,1306.2 1473.4,1306.2 1476.4,1306.2 1479.4,1306.2 1482.4,1306.2 1485.4,1306.3 1488.4,1306.3 1491.4,1306.3 1494.4,1306.3 1497.4,1306.3 1500.4,1306.4 1503.4,1306.4 1506.4,1306.4 1509.4,1306.5 1512.4,1306.5 1515.4,1306.6 1518.4,1306.6 1521.4,1306.7 1524.4,1306.8 1527.4,1306.9 1530.4,1307.1 1533.4,1307.2 1536.4,1307.3 1539.4,1307.5 1542.4,1307.6 1545.4,1307.8 1548.4,1307.9 1551.4,1308.1 1554.4,1308.2 1557.4,1308.3 1560.4,1308.5 1563.4,1308.6 1566.4,1308.8 1569.4,1308.9 1572.4,1309 1575.4,1309.1 1578.4,1309.3 1581.4,1309.4 1584.4,1309.5 1587.3,1309.6 1590.3,1309.8 1593.3,1309.9 1596.3,1310 1599.3,1310.2 1602.3,1310.3 1605.3,1310.4 1608.3,1310.5 1611.3,1310.6 1614.3,1310.7 1617.3,1310.8 1620.3,1310.9 1623.3,1310.9 1626.3,1311 1629.3,1311 1632.3,1311.1 1635.3,1311.1 1638.3,1311.1 1641.3,1311.2 1644.3,1311.2 1647.3,1311.2 1650.3,1311.2 1653.3,1311.2 1656.3,1311.3 1659.3,1311.3 1662.3,1311.3 1665.3,1311.3 1668.3,1311.3 1671.3,1311.4 1674.3,1311.4 1677.3,1311.4 1680.3,1311.4 1683.3,1311.4 1686.3,1311.5 1689.3,1311.5 1692.3,1311.5 1695.3,1311.6 1698.3,1311.6 1701.3,1311.6 1704.3,1311.7 1707.3,1311.7 1710.3,1311.7 1713.3,1311.8 1716.3,1311.8 1719.3,1311.8 1722.3,1311.9 1725.3,1311.9 1728.3,1312 1731.3,1312 1734.3,1312.1 1737.3,1312.1 1740.3,1312.2 1743.3,1312.3 1746.3,1312.3 1749.3,1312.4 1752.3,1312.5 1755.3,1312.7 1758.3,1312.8 1761.3,1313 1764.3,1313.2 1767.3,1313.3 1770.3,1313.5 1773.3,1313.7 1776.3,1314 1779.3,1314.2 1782.3,1314.4 1785.2,1314.6 1788.2,1314.8 1791.2,1315 1794.2,1315.2 1797.2,1315.4 1800.2,1315.6 1803.2,1315.7 1806.2,1315.9 1809.2,1316 1812.2,1316.1 1815.2,1316.2 1818.2,1316.4 1821.2,1316.5 1824.2,1316.6 1827.2,1316.7 1830.2,1316.8 1833.2,1316.9 1836.2,1317 1839.2,1317.1 1842.2,1317.2 1845.2,1317.3 1848.2,1317.4 1851.2,1317.4 1854.2,1317.5 1857.2,1317.6 1860.2,1317.7 1863.2,1317.8 1866.2,1317.8 1869.2,1317.9 1872.2,1318 1875.2,1318.1 1878.2,1318.1 1881.2,1318.2 1884.2,1318.2 1887.2,1318.3 1890.2,1318.4 1893.2,1318.4 1896.2,1318.5 1899.2,1318.5 1902.2,1318.6 1905.2,1318.6 1908.2,1318.7 1911.2,1318.7 1914.2,1318.8 1917.2,1318.8 1920.2,1318.9 1923.2,1318.9 1926.2,1319 1929.2,1319.1 1932.2,1319.1 1935.2,1319.2 1938.2,1319.2 1941.2,1319.3 1944.2,1319.4 1947.2,1319.5 1950.2,1319.6 1953.2,1319.7 1956.2,1319.8 1959.2,1319.9 1962.2,1319.9 1965.2,1320 1968.2,1320.1 1971.2,1320.2 1974.2,1320.3 1977.2,1320.4 1980.2,1320.5 1983.1,1320.6 1986.1,1320.7 1989.1,1320.7 1992.1,1320.8 1995.1,1320.8 1998.1,1320.9 2001.1,1320.9 2004.1,1320.9 2007.1,1321 2010.1,1321 2013.1,1321 2016.1,1321 2019.1,1321.1 2022.1,1321.1 2025.1,1321.1 2028.1,1321.1 2031.1,1321.1 2034.1,1321.1 2037.1,1321.2 2040.1,1321.2 2043.1,1321.2 2046.1,1321.2 2049.1,1321.2 2052.1,1321.3 2055.1,1321.3 2058.1,1321.4 2061.1,1321.4 2064.1,1321.5 2067.1,1321.6 2070.1,1321.7 2073.1,1321.8 2076.1,1321.9 2079.1,1322 2082.1,1322.1 2085.1,1322.2 2088.1,1322.4 2091.1,1322.5 2094.1,1322.6 2097.1,1322.8 2100.1,1322.9 2103.1,1323 2106.1,1323.2 2109.1,1323.3 2112.1,1323.4 2115.1,1323.5 2118.1,1323.6 2121.1,1323.8 2124.1,1323.9 2127.1,1324 2130.1,1324.1 2133.1,1324.3 2136.1,1324.4 2139.1,1324.5 2142.1,1324.7 2145.1,1324.8 2148.1,1324.9 2151.1,1325 2154.1,1325.2 2157.1,1325.3 2160.1,1325.4 2163.1,1325.5 2166.1,1325.6 2169.1,1325.7 2172.1,1325.8 2175.1,1325.9 2178.1,1325.9 2181.1,1326 2184.1,1326.1 2187.1,1326.1 2190.1,1326.2 2193.1,1326.2 2196.1,1326.2 2199.1,1326.3 2202.1,1326.3 2205.1,1326.3 2208.1,1326.4 2211.1,1326.4 2214.1,1326.4 2217.1,1326.5 2220.1,1326.5 2223.1,1326.5 2226.1,1326.6 2229.1,1326.6 2232.1,1326.6 2235.1,1326.6 2238.1,1326.7 2241.1,1326.7 2244.1,1326.7 2247.1,1326.8 2250.1,1326.8 2253.1,1326.9 2256.1,1326.9 2259.1,1327 2262,1327 2265,1327 2268,1327.1 2271,1327.1 2274,1327.2 2277,1327.2 2280,1327.3 2283,1327.3 2286,1327.4 2289,1327.4 2292,1327.5 2295,1327.5 2298,1327.6 2301,1327.6 2304,1327.7 2307,1327.7 2310,1327.8 2313,1327.9 2316,1327.9 2319,1328 2322,1328 2325,1328.1 2328,1328.2 2331,1328.2 2334,1328.3 2337,1328.3 2340,1328.4 2343,1328.5 2346,1328.5 2349,1328.6 2352,1328.6 2355,1328.7 2358,1328.8 2361,1328.8 2364,1328.9 2367,1328.9 2370,1329 2373,1329 2376,1329.1 2379,1329.1 2382,1329.2 2385,1329.2 2388,1329.3 2391,1329.3 2394,1329.4 2397,1329.4 2400,1329.5 2403,1329.5 2406,1329.5 2409,1329.6 2412,1329.6 2415,1329.7 2418,1329.7 2421,1329.8 2424,1329.8 2427,1329.9 2430,1329.9 2433,1330 2436,1330 2439,1330.1 2442,1330.1 2445,1330.2 2448,1330.2 2451,1330.3 2454,1330.3 2457,1330.4 2460,1330.5 2463,1330.5"/>
<polygon class="bd" fill="#000000" points="352,1176.9 353.5,1179 355,1179.4 357,1181 359,1183.4 362,1182.7 364,1181.5 365,1181.6 365.5,1182.2 366,1187.3 367.5,1186.2 369.5,1183.5 371,1183.4 371.5,1186.4 372,1192.9 372.5,1195.9 373.5,1196.6 374,1190.6 374.5,1189.3 375.5,1189.5 376.5,1191.2 377,1191.5 379.5,1188.1 381,1189 381.5,1196.3 382.5,1195.5 383.5,1196 384,1197.6 384.5,1205.2 385,1205.7 385.5,1203.6 386,1203 387.5,1204 389.5,1206.8 392,1207.9 392.5,1209.6 393,1210.5 398,1212.5 399,1210.7 400,1210.8 401.5,1211.9 402.5,1212.8 407,1209.5 408.5,1210.1 409,1214.2 415.5,1197.2 417,1197.8 417.5,1196.9 418.5,1193.9 420,1194.9 420.5,1208.7 421,1218.1 421.5,1217.4 422,1215.9 422.5,1211.3 423,1204.5 424.5,1205.2 425,1206.4 426,1203.7 427,1204.1 427.5,1205.5 428,1215.3 430,1208.6 430.5,1204.1 431,1204.3 431.5,1203.6 432.5,1200.3 433,1199.8 434,1200.2 434.5,1210.4 435,1215.6 435.5,1213.7 437,1214.4 439,1221.1 439.5,1216.6 440,1215.8 441,1216.2 447.5,1230.2 449,1233.4 449.5,1233.8 450,1232.6 450.5,1232 453,1233.2 455,1232.5 456.5,1233.1 457,1235.5 458,1235.9 463,1236.2 464,1238 466.5,1238.6 467,1236.4 470.5,1237.8 474,1239.6 474.5,1239.5 475,1237.1 476,1237.2 476.5,1236.4 480.5,1224.5 482,1224.8 482.5,1230.2 483,1222.5 483.5,1213.9 485,1214.3 487,1221.1 487.5,1220.2 489.5,1214.7 491,1215 491.5,1219.2 493.5,1212.8 494,1212.2 495,1212.4 495.5,1219.9 496,1238.2 499.5,1234.4 500.5,1234.6 501,1235.6 501.5,1241.2 502.5,1242.2 503,1229.6 504.5,1230.1 509,1244.4 510,1245.8 514,1244 515,1244.1 516,1246.3 518.5,1245.8 519.5,1246.4 520,1247.9 524.5,1246.5 529,1244.8 530,1245 531,1249.6 533.5,1248.4 534,1246.8 534.5,1242.7 535,1240.5 536,1240.6 538.5,1232.5 540,1232.7 540.5,1241.2 541,1245.9 541.5,1241 542,1240 543,1240.2 545,1243 545.5,1232 546,1222.7 547.5,1223.1 552,1238 552.5,1237.3 554,1233.5 554.5,1232.8 555.5,1232.9 556,1237.6 556.5,1246.5 557,1245.3 557.5,1229.2 558,1227.3 559,1227.5 560,1230 561.5,1234.1 563.5,1229.1 565,1229.3 566,1247.6 567,1250.1 568.5,1247.9 570,1248.1 570.5,1253.6 571,1254.9 574.5,1254.8 575.5,1256.5 580.5,1257.3 581.5,1254.8 584,1255.5 586.5,1256.7 590.5,1255.7 591.5,1255.9 592,1257.4 597,1250.9 602.5,1236.3 604,1236.5 604.5,1250.4 606.5,1250.3 607,1254.1 607.5,1254 608,1252.2 608.5,1236.8 610,1237.2 612,1241.8 613.5,1237.7 615,1237.6 615.5,1250.7 617.5,1255.7 618.5,1242.7 620,1243 621,1245 622.5,1245.2 626,1252.4 627.5,1252.7 628,1256.7 628.5,1257.7 629,1258.2 630.5,1256.4 631.5,1256.5 632,1257.3 632.5,1260.9 633,1263.7 634,1263.7 634.5,1261 635,1259.6 637,1260.2 644,1264.9 645,1265 645.5,1262.2 646,1261.2 647.5,1261.5 653,1265.5 654,1264.1 658,1264.9 659,1265.2 660,1260.2 661.5,1260.3 663,1262.2 663.5,1262 670.5,1247 672,1246.9 672.5,1251.9 673,1259.8 675.5,1251.3 676,1248.8 676.5,1247.9 678,1242.7 678.5,1241.9 679.5,1242 680,1247.7 680.5,1256.2 681.5,1258.6 682,1244.4 682.5,1242.1 683.5,1242.1 684.5,1244.4 687.5,1252.5 688,1252.5 688.5,1255.3 693,1267.5 693.5,1268.3 694,1267.6 694.5,1266 697,1266.2 699.5,1267.1 702.5,1265.8 703.5,1265.8 704,1266.7 704.5,1268.6 709.5,1268.6 710,1265.4 711.5,1265.4 712,1265.1 720,1248.3 721.5,1248.3 722,1258.8 722.5,1265.3 723,1265.3 728,1245.8 728.5,1245.2 729.5,1245.2 730,1252.6 730.5,1251.9 731,1250.3 731.5,1249.4 732.5,1249.4 733,1251.1 733.5,1258.9 734,1263.8 736.5,1261.4 737.5,1261.4 738,1262.9 738.5,1265.1 740.5,1265.1 741,1256.3 741.5,1254 742.5,1254 743.5,1255.8 745,1259 745.5,1259.1 748.5,1253.2 750,1253.1 750.5,1257.5 751,1264.3 751.5,1255.7 753,1255.7 755.5,1261.5 756.5,1261.1 757,1261.1 757.5,1262.3 758,1267.1 758.5,1269 759.5,1269.2 760,1267.5 762.5,1267.8 764.5,1268.6 769,1267.9 769.5,1268.1 772.5,1265.9 774,1265.9 774.5,1268.1 775,1269.8 779.5,1269.7 780.5,1265.8 782.5,1266 784,1267 785.5,1266.1 787,1266.4 787.5,1267.6 791.5,1263.1 792.5,1263.1 793.5,1266.8 795,1266.8 795.5,1263.6 796,1251.2 796.5,1249.1 797.5,1249.1 798.5,1251 801,1256.7 801.5,1256.8 804.5,1250.3 805.5,1249.9 806,1249.9 806.5,1253.5 807,1262.7 807.5,1267.6 808.5,1267.3 810.5,1265.8 812,1265.9 812.5,1268 814,1266.6 815.5,1266.7 816,1271 820.5,1270.3 821.5,1270.8 822,1271.5 826,1270.6 827,1270.7 827.5,1272.3 832,1272.9 833,1271.5 836.5,1272.7 839.5,1273.8 840,1272.3 840.5,1268.9 842.5,1269.3 844,1270.5 844.5,1270.5 847.5,1267.2 848.5,1263.6 852.5,1247.3 853.5,1247.1 854,1247.2 854.5,1263.8 855.5,1262.8 856.5,1263 857,1265.4 857.5,1269.4 860,1267.2 860.5,1267.1 862,1263 862.5,1252.2 864,1252.4 865,1254.8 866,1252.4 867.5,1252.6 868,1262.9 868.5,1264.3 869,1253.3 870.5,1253.9 875,1269.6 877.5,1274.6 878.5,1275.2 882,1278.6 886.5,1276.4 888,1276.5 889,1280.3 889.5,1281 891,1281.1 892,1277.9 894.5,1278.4 896,1279.1 896.5,1277.2 898,1277 902.5,1279.6 904.5,1279 905.5,1279.1 906,1280.6 908,1280.1 908.5,1273 909,1270.3 910,1270.3 911,1271.7 911.5,1272.6 912.5,1272.3 913.5,1272.5 915,1275 915.5,1261.6 917,1261.7 921.5,1275.3 922,1276.4 922.5,1276.8 923,1273.6 924.5,1273.7 926.5,1276.7 927,1275.7 928.5,1276 930,1278.1 930.5,1278 932,1276 933.5,1276 934,1279.5 937,1280 937.5,1273.5 938,1264.4 939.5,1264.4 944,1276.3 947,1280.4 949,1280.5 949.5,1281.8 950,1282.2 953.5,1279.6 955,1279.7 956,1284.2 960.5,1284.4 961,1283.6 961.5,1281.6 962,1281.1 964,1281.7 966,1283 967,1281.9 968.5,1282.2 970,1283.2 971.5,1282.4 972.5,1266.2 974,1266.3 976.5,1273.4 977,1273.5 978,1271.6 978.5,1271.1 979,1271.1 979.5,1270.5 984,1259 985.5,1259.1 986,1272.2 986.5,1271 988,1270.8 988.5,1278.4 989,1281.7 989.5,1271.4 990,1263.9 991.5,1264.3 992,1265.4 992.5,1262.4 993,1261 994,1261 994.5,1262.3 997,1271.1 997.5,1270.8 998,1269.3 999,1269.4 999.5,1270.3 1001,1275 1001.5,1275.4 1003,1273 1004.5,1272.9 1005,1276.2 1005.5,1282.8 1006,1284.7 1008,1284.7 1013.5,1287.3 1014,1287.1 1014.5,1285.9 1015,1285.3 1017.5,1285.8 1019,1286.4 1021.5,1284.7 1023,1284.9 1023.5,1287.7 1024.5,1287.7 1025,1286.1 1026,1280.1 1027.5,1280.1 1029,1281.8 1029.5,1280.1 1030,1273.8 1031.5,1273.8 1034,1277.7 1034.5,1272 1035,1265 1036,1265 1036.5,1265.6 1039.5,1272.5 1040.5,1272.5 1041,1273 1041.5,1274.2 1042,1273.7 1043,1271.4 1043.5,1270.8 1044.5,1270.8 1045,1276.1 1045.5,1282.4 1048.5,1276.6 1049.5,1276.2 1050,1276.2 1050.5,1280 1052.5,1277.1 1054,1277.2 1056.5,1272.6 1058,1272.4 1058.5,1278.3 1059,1279.1 1060.5,1277 1062,1277.2 1062.5,1281.5 1063,1281.9 1064,1281.1 1065.5,1281.2 1066,1284.7 1066.5,1285.7 1069,1283.6 1070,1283.6 1070.5,1284.5 1071,1287.8 1071.5,1288.5 1074.5,1288.5 1075,1288.2 1076,1285.6 1078,1285.7 1081,1288.1 1081.5,1288.2 1082,1285.6 1082.5,1284.9 1084.5,1285.4 1087,1286.7 1090,1285.9 1091,1286.2 1091.5,1287.4 1093.5,1286.1 1094,1274.6 1094.5,1272 1095.5,1272 1096,1272.8 1099,1280.7 1099.5,1269.6 1100,1264.7 1101,1264.7 1101.5,1265.4 1103.5,1272.2 1105,1271.8 1105.5,1271.2 1109,1262.1 1111.5,1252.4 1113,1252.4 1113.5,1269 1114,1285 1114.5,1283.9 1115,1280.5 1116.5,1280.7 1117.5,1281.8 1118.5,1281 1119.5,1281 1120,1285.3 1123.5,1286.4 1124,1282.5 1124.5,1279.8 1125.5,1279.8 1126.5,1281.1 1127,1277.3 1128.5,1277.4 1132.5,1286.7 1136,1288.7 1138,1288.3 1138.5,1290 1141,1288.1 1142,1287.6 1143,1287.6 1143.5,1288.7 1151.5,1274 1152.5,1273.7 1153,1273.7 1154,1281.2 1157.5,1269.4 1158,1268.8 1159,1268.8 1159.5,1272.6 1160,1273.9 1161.5,1270.7 1163,1270.6 1163.5,1275.9 1164,1284.4 1164.5,1286.1 1165,1286.1 1165.5,1284.8 1166,1259.9 1167,1259.9 1167.5,1260.3 1172.5,1275.4 1173,1275.4 1173.5,1271.8 1175,1272.1 1178,1278.5 1178.5,1277.5 1179,1273.5 1180.5,1273.8 1181,1274.9 1181.5,1274.1 1183,1274.3 1184.5,1277.7 1186,1277.4 1186.5,1278 1190.5,1287.9 1191,1288 1191.5,1289 1192,1291.3 1192.5,1292.1 1194,1292.4 1194.5,1291.7 1195.5,1287.9 1197,1287.6 1203,1291.4 1205.5,1290.9 1206,1291.3 1206.5,1292.4 1209.5,1292.8 1210,1292.8 1211,1290.8 1214.5,1291.5 1219.5,1283.9 1221,1283.9 1222.5,1281.8 1226,1269.8 1226.5,1268.8 1227.5,1268.8 1228,1274.8 1228.5,1288.9 1230.5,1289 1231,1287.2 1231.5,1282.5 1232,1281.5 1233,1281.5 1236,1285.1 1237.5,1285.1 1238.5,1286.3 1240.5,1283.7 1242,1284.1 1242.5,1288.1 1243,1291.6 1244.5,1293 1245.5,1291.4 1248,1291.9 1252.5,1293.4 1253.5,1291.9 1257,1292.3 1259,1292.2 1260,1293.7 1261.5,1293.4 1266,1291.8 1267,1291.8 1267.5,1292.6 1268,1294 1268.5,1294.8 1271,1294.8 1278,1279.2 1279.5,1278.5 1282.5,1266.9 1283,1265.8 1284,1265.8 1284.5,1268.6 1285,1269.5 1285.5,1261.5 1286.5,1261.6 1287,1262.4 1292.5,1285.6 1293.5,1287.8 1294,1287.8 1294.5,1277.8 1295,1273 1296,1273 1296.5,1273.7 1297.5,1277.7 1298,1278.1 1298.5,1276.7 1300,1276.6 1300.5,1282.4 1301,1290.8 1301.5,1293.1 1302,1293.4 1304,1292.5 1305,1292.6 1305.5,1294.9 1307.5,1294.8 1308,1295.1 1308.5,1297 1313.5,1297.3 1314,1295.2 1316,1295.5 1317,1296 1321,1294.2 1322,1294.3 1323,1297.6 1325,1297.7 1329,1295.3 1330.5,1295.3 1331,1295.8 1333,1293.8 1334.5,1293.8 1335,1295.5 1338,1290.6 1339.5,1290.3 1340,1292.4 1340.5,1295.7 1341,1293.6 1341.5,1288 1342,1284.5 1343.5,1284.7 1346.5,1291.5 1347,1280.9 1348,1280.5 1348.5,1280.5 1350,1285.1 1351.5,1290 1352,1289.6 1352.5,1280.3 1353,1277.5 1354,1277.5 1354.5,1278.1 1359,1289.2 1359.5,1290 1360.5,1289 1361,1288.9 1365.5,1278.3 1367,1278.2 1367.5,1285.3 1368,1289 1369.5,1286.8 1371,1286.5 1371.5,1291.8 1372,1295.2 1373.5,1294.4 1374.5,1294.5 1375,1295.8 1375.5,1297.9 1378.5,1297.5 1379.5,1298.7 1383.5,1296.7 1385,1296.7 1385.5,1297.3 1389.5,1295.2 1391,1295.2 1392,1298.4 1392.5,1299.4 1395,1299.4 1395.5,1299.1 1396.5,1297 1397.5,1296.8 1398.5,1294.3 1402.5,1282.4 1404,1282.4 1404.5,1289.8 1405,1283 1405.5,1279 1406.5,1279 1407,1279.7 1409,1285.5 1410.5,1281.9 1411,1281.2 1412,1281.2 1412.5,1282.9 1413,1290.3 1413.5,1294.3 1414,1294.3 1414.5,1293.2 1415,1291.3 1415.5,1272 1417,1272.3 1418.5,1278 1420,1278.1 1420.5,1285.6 1421.5,1289.4 1422.5,1287.2 1423.5,1286.7 1424,1286.7 1424.5,1294 1425,1294.1 1427,1290.4 1427.5,1284.5 1429,1284.6 1429.5,1285.6 1431,1283.3 1432.5,1283.5 1433,1294.4 1433.5,1295.7 1435,1295.5 1436,1297.7 1437.5,1297.5 1438,1298 1439,1299.9 1443.5,1300 1444,1298.1 1444.5,1297.4 1447,1298 1448.5,1298.4 1452.5,1297.5 1453,1297.7 1454,1299.9 1458,1300.2 1458.5,1298.3 1459,1295.3 1461,1295.8 1463.5,1297.4 1464,1289.6 1464.5,1288.6 1465.5,1288.6 1466,1289.1 1466.5,1286 1467,1284 1468,1284.1 1469,1286 1470.5,1281.6 1472,1281.7 1472.5,1290.2 1473,1282.1 1473.5,1281.3 1474.5,1281.4 1476,1284.8 1478,1289.8 1479,1288.8 1480,1288.8 1480.5,1289.8 1481,1293.5 1482,1291.2 1482.5,1279.4 1484,1279.4 1485.5,1283.6 1486.5,1283.8 1487.5,1289.3 1488.5,1292.1 1489.5,1291.5 1490.5,1291 1491.5,1291 1492.5,1298.5 1493,1300.2 1494,1297.2 1496,1297.5 1498.5,1298.7 1502.5,1296 1504,1296 1504.5,1298.8 1505,1300.5 1507,1300.4 1508,1297.7 1509,1297.2 1511.5,1298.2 1516.5,1294.7 1518,1294.7 1518.5,1298.5 1521,1297.8 1521.5,1297.1 1522,1286.7 1522.5,1282.4 1523.5,1282.4 1524,1282.9 1525.5,1286.6 1526,1287.2 1527.5,1282.5 1528,1281.7 1529,1281.8 1529.5,1285.2 1530,1296.1 1533,1291.4 1534.5,1291.1 1538,1279.6 1539.5,1279.3 1540,1285.1 1541,1283.2 1542,1283.3 1542.5,1284.6 1543,1297.8 1544,1298.3 1545,1298.4 1545.5,1293.9 1546,1292 1547.5,1292.4 1549,1295 1549.5,1292.6 1551,1292.7 1558,1300.6 1559.5,1300.5 1562,1298.5 1563.5,1298.8 1564,1300.5 1564.5,1301 1567.5,1299.7 1568.5,1299.7 1569.5,1302.6 1570,1302.9 1575,1298.7 1576.5,1299 1577,1302.1 1580.5,1299.1 1582,1299 1582.5,1300.9 1583,1303.5 1583.5,1303.5 1584.5,1300.1 1585,1299.4 1587,1299.9 1589.5,1301.3 1590,1297.6 1590.5,1292.2 1592,1292.6 1594,1295.7 1594.5,1293.8 1595,1290.6 1596.5,1290.9 1598,1293.3 1600,1293.2 1600.5,1297.3 1602,1299.7 1602.5,1292.8 1604,1292.6 1607.5,1298.6 1608,1291.5 1609.5,1291.8 1611.5,1295.2 1613.5,1297.1 1614.5,1296.3 1616,1294.5 1617.5,1294.4 1618,1296.8 1618.5,1301.5 1620,1302.2 1620.5,1300.2 1621,1296.9 1622.5,1296.9 1626,1301.7 1628,1302 1630.5,1300.5 1631.5,1300.5 1632,1301.6 1633,1305.2 1636,1305.2 1636.5,1301.3 1637,1300.6 1639,1301.1 1642,1302.9 1643,1302.7 1643.5,1301.6 1653,1271.8 1654.5,1271.7 1655,1295.2 1655.5,1297.6 1658.5,1294.1 1659.5,1294.1 1660,1295.1 1660.5,1300 1664,1291 1665,1290.5 1665.5,1290.5 1666,1292.1 1667.5,1287.4 1668,1286.7 1669,1286.7 1669.5,1291.2 1670,1296.4 1674.5,1287.8 1675.5,1287.3 1676,1287.3 1676.5,1292.6 1677,1303.7 1678.5,1304.4 1679,1303.8 1679.5,1301.9 1681.5,1302.3 1682.5,1302.4 1684.5,1302.2 1685.5,1304.5 1691,1303 1691.5,1303 1692,1303.7 1693,1303.7 1696.5,1302 1697.5,1302 1698,1303.4 1701.5,1301.1 1707,1293 1708.5,1293.3 1709,1298.2 1712,1290.2 1712.5,1289.5 1713.5,1289.5 1714,1291.2 1714.5,1297.8 1715,1297.9 1720,1287.6 1721.5,1287.6 1722,1296.7 1723.5,1293.3 1724,1292.8 1725,1292.8 1725.5,1295.7 1726,1301.6 1727,1301.6 1727.5,1301.2 1728,1297.1 1728.5,1285.4 1730,1285.5 1731.5,1289.8 1732.5,1287.2 1734,1287.1 1734.5,1292.6 1735,1300 1735.5,1301.4 1736,1302.1 1736.5,1302.1 1737,1301.1 1737.5,1294.2 1738,1288.7 1739.5,1288.7 1743.5,1300.3 1744.5,1301.5 1745.5,1302.2 1746,1300.9 1748,1301.3 1752.5,1305 1754.5,1304.8 1757,1305.3 1759.5,1305.1 1760.5,1306.8 1761.5,1306.8 1765,1304.7 1773.5,1289.4 1775,1289.4 1775.5,1294.2 1778,1288 1779.5,1288.1 1780,1303.4 1781,1297.6 1782.5,1298 1785.5,1304.8 1786,1305.3 1786.5,1302.3 1787,1300.8 1788.5,1301.2 1789.5,1302.7 1790.5,1301.7 1792,1301.8 1793,1306.6 1795,1307.8 1796,1305.8 1797.5,1306.1 1799,1307.3 1802,1306.5 1803,1306.7 1803.5,1308.8 1804,1309.1 1807.5,1305.5 1809,1305.6 1810,1309 1810.5,1310.2 1813,1310.3 1813.5,1309.3 1814,1307.4 1814.5,1306.6 1816.5,1307.1 1819,1308.8 1819.5,1308.7 1820,1307.2 1821.5,1306.9 1826.5,1309.6 1827.5,1305.9 1829.5,1306.2 1834,1299.1 1835,1298.7 1835.5,1298.7 1837.5,1295.6 1839,1295.5 1839.5,1300.6 1840,1304 1843,1297 1844.5,1297 1845.5,1307.5 1847,1307.6 1847.5,1305.4 1848,1301.2 1849.5,1301.3 1851,1302.8 1852.5,1302.8 1853,1305.4 1856.5,1309.7 1857.5,1309.3 1860.5,1310.3 1863.5,1309.5 1864,1309.6 1864.5,1310.4 1865,1310.8 1869.5,1310 1870,1310.4 1871,1312.1 1873,1311.6 1873.5,1309.5 1874,1308.8 1876,1309.2 1877.5,1310.1 1880.5,1309.5 1881,1309.7 1882,1312.3 1883.5,1312 1884.5,1310.2 1887,1310.2 1891,1305.9 1892,1305.7 1893.5,1302.6 1899,1289.4 1900.5,1289.4 1901,1303 1901.5,1307.1 1902.5,1307.1 1903,1304.7 1903.5,1298.2 1905,1298.2 1907.5,1302.1 1908,1297.6 1908.5,1282.3 1909.5,1282.3 1910,1282.9 1913,1293.5 1913.5,1286 1915,1286.1 1917.5,1293.2 1918,1294.2 1919,1297.5 1921,1302.9 1924,1298.3 1925,1298.4 1925.5,1299.8 1926,1308.5 1926.5,1311.7 1928.5,1312.5 1929,1310.8 1931,1311.1 1933.5,1312.3 1934,1311.9 1934.5,1310 1936.5,1310.3 1941.5,1313.2 1942.5,1310.3 1943,1309.7 1945,1310.2 1949.5,1312.5 1950,1312.4 1955.5,1299.6 1957,1299.7 1957.5,1310.7 1958,1310 1958.5,1300.6 1959,1293.9 1960.5,1294.1 1964,1305.7 1964.5,1307.1 1966,1307.5 1966.5,1303.9 1967,1298.2 1968.5,1298.3 1972,1307 1973,1307.2 1973.5,1308.3 1977,1299.2 1978.5,1299.1 1979,1306 1979.5,1310.3 1981,1310.4 1982,1314.3 1983.5,1314.6 1984,1314.3 1985,1311.7 1987,1311.9 1988,1312.2 1990,1310.3 1991.5,1310.3 1992,1313.2 1992.5,1313.9 1995.5,1313 1996.5,1313 1997.5,1315 2001,1315 2002,1312.3 2004,1312.4 2008,1315.1 2008.5,1314.5 2009.5,1311.7 2011,1311.7 2013.5,1313.6 2014,1312.5 2014.5,1310.7 2016.5,1310.7 2019,1307.7 2020.5,1307.6 2021,1311.4 2021.5,1311.7 2024.5,1307 2026,1306.8 2026.5,1308.7 2027,1307.6 2027.5,1303.1 2029,1303.1 2031.5,1297.6 2033,1297.2 2033.5,1301 2034,1303.7 2035.5,1301.3 2037,1301.2 2037.5,1302.9 2038,1302 2039.5,1301.7 2040,1305.8 2040.5,1312.6 2041,1310.4 2041.5,1307.3 2043,1307.3 2047.5,1311.5 2049.5,1312.7 2050,1311.6 2050.5,1311 2052,1311.3 2055,1313.6 2055.5,1311.7 2057.5,1312 2059.5,1313.3 2063,1312.5 2063.5,1312.5 2064,1314.6 2064.5,1315 2069.5,1312.7 2070.5,1312.7 2071,1313.1 2072,1315.6 2075.5,1315.9 2076,1314.6 2076.5,1314 2079.5,1314.7 2080.5,1315.1 2081,1314.9 2081.5,1313.2 2082,1310 2082.5,1309 2084,1309.4 2084.5,1309.1 2089.5,1297 2091,1297.1 2091.5,1306.9 2092,1307.6 2093.5,1305.7 2094.5,1305.8 2095.5,1304.3 2098,1299.5 2099.5,1299.2 2100.5,1305.6 2104,1297.7 2105.5,1297.6 2106,1302.7 2106.5,1310.7 2107,1313.4 2107.5,1313.4 2108.5,1309.9 2110,1310.2 2111,1311.8 2111.5,1312.1 2114,1307.6 2115.5,1307.6 2116,1309 2117.5,1307.4 2118.5,1307.5 2119,1309.3 2119.5,1314.8 2122.5,1313.7 2123.5,1313.9 2124,1314.9 2126,1314.1 2127,1314.1 2127.5,1315.4 2130.5,1314.1 2132,1314.4 2138.5,1296 2140,1296.1 2140.5,1305.1 2141,1310.1 2144.5,1298.4 2146,1298.5 2146.5,1309.6 2147,1299.5 2147.5,1287.2 2149,1287.4 2151,1293.2 2151.5,1292.1 2152.5,1287.6 2153.5,1287.1 2154,1287.2 2154.5,1296.4 2155,1295 2157,1295.2 2159.5,1286.7 2160,1285.3 2161.5,1285.3 2162,1306 2162.5,1314.2 2163,1307.2 2163.5,1302.6 2165,1302.8 2170,1315.4 2170.5,1316.3 2173,1315.4 2174,1315.4 2174.5,1318.3 2176,1318.6 2180,1317.7 2181,1318.2 2182,1320.1 2186,1320.2 2186.5,1318.8 2187,1315.4 2188.5,1315.4 2192.5,1319.5 2193,1318.2 2193.5,1315.6 2195.5,1315.8 2199,1318 2199.5,1313.9 2201,1314 2203,1316.3 2208,1304.3 2209.5,1304.1 2210,1306.1 2211,1303.7 2212.5,1303.8 2213,1313.3 2215,1310.4 2216.5,1310.4 2217,1315.4 2217.5,1315.4 2218,1309.9 2219.5,1309.9 2222.5,1314.5 2223,1309.6 2223.5,1297.6 2224,1295.6 2225,1295.6 2225.5,1296.7 2228,1304.8 2228.5,1305.8 2229,1305.8 2231,1309.5 2232,1309.5 2232.5,1313.1 2234,1316.4 2235.5,1317.4 2237,1316.9 2238,1316.9 2239,1320.6 2243,1320.8 2243.5,1319.3 2244,1317.2 2244.5,1316 2246,1316.1 2250.5,1319.8 2253.5,1319.2 2258.5,1314.8 2260,1314.8 2260.5,1317.6 2261.5,1317.7 2263,1317.2 2264,1312.9 2265.5,1313.2 2268,1316.3 2268.5,1315.7 2269,1307.2 2269.5,1301.6 2270.5,1301.6 2271,1302.3 2274,1310.7 2275,1308.1 2275.5,1307.2 2276.5,1307.2 2277,1308.3 2277.5,1315.1 2278,1316.8 2278.5,1315.2 2279,1302.1 2279.5,1295 2280.5,1295 2281,1295.5 2284,1306 2284.5,1307.3 2286,1307.4 2287,1309 2287.5,1309.1 2289.5,1305.7 2291,1305.6 2291.5,1316.2 2293.5,1319.4 2294,1316.8 2294.5,1315.2 2296,1315.4 2302.5,1320.2 2308,1321.6 2309,1319.9 2312,1320.3 2312.5,1314.1 2314,1314.2 2318,1317.6 2318.5,1317.3 2319.5,1305.5 2320.5,1305.5 2321,1305.9 2321.5,1307.5 2322,1303.8 2323.5,1304.2 2327,1291.8 2327.5,1290.6 2328.5,1290.6 2329,1295.4 2329.5,1315.3 2332,1311.5 2333.5,1311.9 2334,1316.2 2335,1316.6 2335.5,1315 2336,1308.1 2336.5,1300.3 2337.5,1300.3 2338,1300.9 2338.5,1302.8 2339,1302.6 2340,1299.3 2341.5,1299.4 2342.5,1317.3 2343,1319.8 2345,1321.5 2345.5,1318.7 2346,1316.7 2348,1317.2 2350,1318.7 2352,1318.3 2352.5,1319.9 2353,1320.9 2355.5,1322.8 2358,1322.6 2359,1320.9 2363.5,1321.8 2365,1321.8 2367.5,1321.5 2368.5,1322.8 2375,1321.2 2376.5,1321.4 2379.5,1317.3 2385.5,1303.3 2386.5,1302.9 2387,1302.9 2387.5,1310.6 2388,1317.7 2389.5,1317.6 2390,1313.7 2390.5,1310.8 2392,1311.1 2393.5,1313.5 2394,1312.8 2395.5,1313.1 2398,1317.7 2398.5,1317.7 2399,1313.6 2399.5,1304.8 2401,1305.1 2401.5,1306.1 2402,1305.5 2403,1305.5 2403.5,1306 2404.5,1309 2405,1308.7 2408.5,1295.7 2409,1294.3 2410,1294.3 2410.5,1295 2411,1308 2411.5,1313.9 2414,1308.6 2415.5,1308.6 2416,1318.3 2416.5,1322 2417,1317 2417.5,1316 2418.5,1316 2421,1319.5 2422,1321 2423.5,1321.4 2424,1323.7 2428,1322.2 2428.5,1318.7 2429,1314.3 2430.5,1314.4 2432.5,1316.5 2433,1311 2434.5,1311 2437,1315.1 2437.5,1313.3 2439,1313.3 2440.5,1309.9 2442,1309.9 2442.5,1316.9 2445,1314.5 2446,1314.5 2446.5,1316 2447,1319.9 2449,1320 2449.5,1316.2 2450,1308.5 2450.5,1304.5 2452,1304.9 2454.5,1311.2 2455,1312.2 2457.5,1307.8 2458.5,1307.8 2459,1309.8 2459.5,1312.6 2461.5,1308.4 2461.5,1380.8 2453,1349.6 2452.5,1348.6 2451,1348.4 2450.5,1347.6 2450,1358.3 2448.5,1358 2442.5,1344.5 2442,1346.6 2441.5,1349.9 2440,1349.6 2438,1345.9 2437.5,1345.9 2437,1349 2436,1349 2432.5,1357.1 2431,1356.8 2430.5,1346.6 2430,1340.4 2428.5,1338.2 2427,1337.1 2426,1342.2 2424.5,1342.4 2422.5,1339.8 2420.5,1339.5 2420,1340.5 2417,1348.4 2416.5,1351.5 2416,1351.5 2415.5,1352.3 2413.5,1357.6 2413,1358 2412,1358 2411,1360.4 2409.5,1364.3 2408.5,1364.3 2408,1363.4 2407.5,1351.6 2407,1353 2406.5,1353.5 2405.5,1353.5 2405,1347.5 2404.5,1345.9 2403.5,1349.7 2402.5,1368.1 2401,1367.8 2400,1364.6 2399.5,1364.9 2398,1364.9 2397.5,1356.4 2394.5,1346.7 2394,1350 2392.5,1349.7 2389,1341.8 2388,1348.8 2387.5,1348.8 2386.5,1348.3 2383.5,1343.5 2381.5,1343.5 2380,1341.5 2379.5,1344.7 2378,1344.7 2372,1338.2 2371,1338.1 2367.5,1336.2 2364.5,1337.3 2362.5,1337.3 2362,1335.3 2361.5,1334.7 2357,1334.8 2356.5,1337.3 2355.5,1337.7 2351,1336 2347.5,1340.4 2345.5,1339.8 2343,1342.2 2341.5,1342.1 2341,1339 2340.5,1339.3 2340,1343.6 2339.5,1356 2339,1359.2 2338,1359.2 2337.5,1358.5 2335,1351.5 2334.5,1354.9 2334,1354.9 2333,1354.4 2330,1346.3 2329.5,1356.5 2328,1356.5 2325,1349 2324.5,1348.2 2324,1365.5 2323.5,1365.5 2322.5,1365 2314,1335.6 2313.5,1335.2 2311,1335.5 2309.5,1333.7 2308.5,1333.7 2308,1337.2 2307.5,1338.2 2306.5,1338.2 2304.5,1336.8 2303,1336.1 2300.5,1338.4 2299,1338.3 2298.5,1334.7 2298,1333.6 2297,1336.4 2295.5,1336.7 2292.5,1335.1 2292,1335.5 2291.5,1341.7 2291,1349.9 2290.5,1352 2289.5,1351.9 2289,1351.1 2286,1342.1 2284.5,1341.7 2284,1338.7 2283.5,1337.9 2283,1337.9 2282.5,1348.1 2282,1357.4 2280.5,1357.4 2280,1356 2279.5,1361 2278,1360.9 2275,1349.8 2274.5,1349.8 2274,1346.1 2272,1338.7 2271.5,1347.6 2271,1351 2270,1351 2269.5,1350.4 2267,1344 2266.5,1355.1 2265,1355.1 2263,1350.6 2262.5,1350.7 2262,1351.4 2261,1351.4 2260.5,1350.7 2256,1341.2 2254,1337.3 2253.5,1337.3 2247.5,1334.3 2246,1333.3 2241,1334.3 2235.5,1340.1 2234,1340.2 2233.5,1335.1 2233,1334.7 2230,1336.7 2229.5,1354.1 2228,1354.1 2226,1348 2225.5,1349.7 2225,1360.1 2224.5,1361.8 2223.5,1361.8 2223,1360.8 2222.5,1360.7 2222,1362.5 2221.5,1363.2 2220.5,1363.2 2220,1356 2219.5,1350.9 2216.5,1359.5 2216,1360.4 2215,1360.4 2214.5,1356.3 2214,1337.7 2213.5,1338 2213,1356.6 2212.5,1356.6 2211.5,1356.2 2204,1338.1 2203,1336.1 2201,1337.9 2199.5,1338 2198.5,1332.3 2196.5,1332.1 2195.5,1332.5 2194.5,1335.2 2193.5,1335.2 2191,1334.3 2188,1336.3 2186,1336.7 2185.5,1334.7 2185,1334.2 2182.5,1336.9 2181,1337.1 2180.5,1336 2180,1333.5 2179.5,1331.9 2177,1332 2176.5,1333.4 2176,1336.6 2175.5,1337 2174.5,1337 2173,1335.6 2171,1333.9 2166.5,1337.3 2165,1337.3 2164.5,1336 2164,1341.8 2163.5,1346.1 2162,1345.9 2159,1339.3 2158.5,1341.5 2158,1346.7 2157.5,1346.7 2157,1348 2154.5,1358.6 2153,1358.5 2152.5,1350.9 2148.5,1363.3 2147,1363.2 2146.5,1347.7 2146,1336.9 2143.5,1336.7 2143,1348 2142.5,1356.6 2141.5,1356.5 2141,1355.8 2137,1343.7 2136.5,1343.3 2135,1343.3 2134.5,1336.1 2133,1331.6 2132.5,1330.9 2130,1332.3 2128,1332.5 2127.5,1330.2 2124,1333.2 2122.5,1333.5 2116,1342.6 2114.5,1342.8 2114,1340.7 2113.5,1335.4 2113,1333.1 2112,1333.2 2111,1347.5 2109.5,1347.3 2105,1334.9 2104,1333.3 2103.5,1333 2103,1336 2102.5,1337.6 2102,1337.6 2101,1337.2 2099,1333.6 2098.5,1347.2 2098,1354.7 2097,1354.6 2096.5,1354.1 2090,1336.5 2089,1336.5 2088.5,1333.9 2088,1334.9 2087.5,1336.5 2086.5,1336.4 2085,1334.9 2084.5,1342 2084,1342 2083,1341.6 2079,1330.5 2077,1329.8 2076.5,1330.8 2076,1334.3 2075,1334.3 2070,1330.4 2063.5,1327.4 2063,1328.6 2062,1331.8 2060.5,1331.7 2058,1329.8 2057,1330.1 2055.5,1329.8 2054.5,1327.6 2054,1327.2 2050.5,1327.2 2050,1328 2049.5,1332 2048,1332 2045,1329.5 2044.5,1329.7 2044,1333.3 2043.5,1335.3 2042,1335.1 2040.5,1332.7 2039,1330.6 2038.5,1334.9 2037,1334.8 2036.5,1334 2034.5,1331.1 2034,1334.6 2033.5,1344.2 2033,1351.3 2031.5,1351.2 2028.5,1343.7 2028,1343.1 2027,1343.1 2026.5,1338.6 2025,1334.9 2024.5,1347.6 2024,1349.8 2023,1349.8 2022.5,1348.9 2021,1344.9 2019.5,1341.2 2019,1339.5 2014.5,1327.4 2014,1327.3 2010,1329.2 2008,1329.4 2007,1327.1 2006.5,1326.9 2005.5,1327.3 2005,1328.1 2004.5,1328.5 2003,1328.4 2000,1329.3 1997.5,1329.6 1996.5,1327.7 1995,1328.3 1992.5,1328.7 1991.5,1326.7 1991,1326.7 1987,1328.1 1985,1328 1984.5,1327 1984,1326.5 1982.5,1326.7 1982,1327.6 1981.5,1330.8 1979,1330.4 1978,1332.9 1977,1349.9 1975.5,1349.6 1974,1344.4 1973.5,1343.6 1972,1343.2 1971.5,1335.7 1970.5,1332.3 1970,1332.4 1968.5,1334.1 1964.5,1343.5 1963.5,1345.5 1962.5,1345.4 1962,1344.3 1961.5,1336.6 1961,1329.6 1960.5,1333.8 1960,1339.3 1959.5,1339.3 1958.5,1338.9 1955,1330.7 1954.5,1334.4 1953,1334.6 1949.5,1329.9 1948,1328.2 1946.5,1329.5 1945,1329.1 1944,1325.3 1939.5,1325.2 1938.5,1327.2 1938,1327.3 1935,1326.6 1927.5,1335.3 1926,1335.3 1925.5,1334.5 1924,1336.4 1923.5,1336.4 1923,1337 1918.5,1355.3 1917,1355.4 1916.5,1342 1916,1330.6 1915.5,1330.6 1915,1338.8 1913.5,1338.8 1910.5,1331.9 1910,1342 1909.5,1356.1 1909,1358.7 1908,1358.7 1907.5,1357.3 1904.5,1343.9 1904,1351.7 1902.5,1351.7 1901,1347.7 1900.5,1349 1899.5,1352.8 1898,1352.9 1897.5,1342.6 1897,1343.6 1895.5,1343.6 1895,1331.2 1894,1328.9 1893.5,1333.8 1893,1339.8 1891.5,1339.8 1885.5,1329.2 1883.5,1329.1 1882.5,1325 1881.5,1324.2 1879,1324 1878.5,1325.4 1877,1325.8 1873.5,1324.2 1871.5,1323.9 1871,1326.8 1870,1326.8 1865,1324.6 1863.5,1325 1860.5,1325.1 1857,1328.6 1855.5,1328.6 1855,1326 1854.5,1325.6 1853,1326.5 1852.5,1327.3 1852,1331 1850.5,1331 1849.5,1329.5 1848,1327.4 1847.5,1331.1 1846,1331.3 1845,1330.5 1844,1329.8 1843.5,1343.1 1843,1346.9 1842,1346.8 1841.5,1346.1 1838.5,1337.6 1834,1349.2 1832.5,1349.1 1832,1334.3 1831.5,1326 1827.5,1323.6 1827,1323.9 1825.5,1325.4 1825,1325.4 1821.5,1327.2 1819.5,1327.5 1818.5,1322.7 1813,1325.2 1811,1325.3 1810,1321.9 1808,1321.9 1807,1324.6 1806,1324.8 1803.5,1323.7 1802,1323.1 1796.5,1333 1794.5,1336.2 1794,1336.2 1793,1335.7 1790.5,1340.2 1789.5,1340.2 1789,1339.1 1788.5,1329.3 1788,1324.3 1787.5,1330.4 1787,1332.3 1786,1332.2 1784.5,1330.5 1784,1334.7 1782.5,1334.2 1782,1333 1781.5,1332.3 1779.5,1337.5 1778,1337.6 1777.5,1327.4 1774.5,1332 1773,1332 1772.5,1324.4 1772,1322.7 1768.5,1320.7 1768,1323.8 1767.5,1326 1766.5,1325.9 1760.5,1320 1760,1320.3 1759.5,1321.2 1759,1321.2 1755,1320 1752,1320.2 1751,1319.7 1750.5,1318.4 1749,1318.3 1748.5,1319.7 1748,1322.5 1747.5,1324.6 1746,1324.5 1744,1322.8 1743.5,1324.9 1743,1324.9 1742.5,1325.7 1738.5,1336.9 1737,1336.9 1736.5,1330.8 1736,1323.3 1733,1328.4 1731.5,1328.6 1731,1329.2 1728.5,1337.8 1728,1339 1727,1338.9 1726.5,1337.6 1726,1327.4 1725.5,1324 1723.5,1326.1 1722,1326.4 1721.5,1324.4 1721,1324.7 1720.5,1340.6 1719.5,1340.6 1719,1340 1716,1330.1 1714.5,1328.1 1714,1328.5 1713.5,1332.8 1712,1332.6 1707,1323.3 1706.5,1323.3 1703,1319.2 1701.5,1318.8 1701,1317.8 1700.5,1317.5 1698.5,1317.5 1695,1319.9 1693,1320.3 1692.5,1318.1 1692,1317.4 1691,1317.4 1690.5,1318.3 1689.5,1321 1688.5,1321 1683,1318.7 1682,1319.2 1679.5,1323.3 1673.5,1339.8 1672,1340 1671.5,1333.6 1671,1323.5 1670.5,1322.4 1669,1322.5 1668,1331.2 1666.5,1330.8 1666,1329.5 1665.5,1330.7 1662.5,1340.1 1662,1340.8 1661,1340.8 1660.5,1334.2 1660,1322.5 1659,1322.5 1658.5,1338.2 1657,1337.9 1652.5,1327.6 1649,1322.5 1648.5,1323.8 1648,1327.4 1646.5,1327.4 1643.5,1323 1642.5,1321.8 1641,1321.9 1640.5,1320.2 1639.5,1320.9 1637.5,1321.2 1636.5,1317.5 1632.5,1319.2 1630,1319.9 1627,1321.8 1625,1321.6 1620.5,1326.9 1616,1339.3 1615.5,1340 1614.5,1340 1614,1336.3 1613.5,1326.6 1612.5,1328 1611,1327.7 1610.5,1321.4 1608.5,1321.1 1608,1324.8 1607.5,1336.7 1607,1344.7 1605.5,1344.3 1603,1333.5 1602,1336 1601.5,1336.6 1600.5,1336.5 1600,1325.9 1599.5,1320.7 1598,1320.6 1597.5,1323.8 1597,1337.8 1596,1337.8 1595.5,1337.2 1591.5,1324.9 1589.5,1324.8 1588.5,1326.5 1587,1326.4 1586.5,1321.1 1586,1319.8 1584,1317.5 1583.5,1317.9 1581,1317.4 1579.5,1317.1 1577.5,1319.3 1576.5,1319.7 1575.5,1319.1 1575,1316.3 1574.5,1315 1572,1314.9 1571,1319.9 1569.5,1319.9 1566.5,1317.4 1565,1317.5 1564,1315.2 1563.5,1315.2 1562.5,1319.6 1561,1319.6 1557.5,1316.1 1556.5,1317.7 1555,1318 1553.5,1321.1 1552,1323.9 1551,1324.3 1549.5,1328.3 1549,1328.9 1548,1328.9 1547.5,1324 1547,1317.1 1544.5,1317.2 1544,1332.6 1543.5,1335 1542.5,1335 1542,1334 1540.5,1329.8 1539,1325.8 1538,1327.7 1536.5,1327.6 1536,1324.5 1534,1330.9 1532.5,1330.8 1532,1324.6 1531.5,1323.1 1531,1326.1 1529.5,1325.8 1527,1322 1525,1321.4 1522.5,1317.3 1522,1326.7 1520.5,1326.6 1514.5,1316.3 1514,1316.3 1513.5,1315.3 1513,1313.6 1512.5,1312.8 1512,1312.5 1511.5,1312.9 1510.5,1315.5 1509,1315.7 1505,1312.6 1504.5,1312.7 1503,1314.4 1502,1314.3 1499,1316.2 1497,1316.6 1496,1313.5 1493.5,1314.8 1491.5,1314.7 1491,1313.5 1488.5,1315.3 1488,1327 1487.5,1335.7 1486.5,1335.7 1486,1334.9 1481.5,1322.5 1479,1318.7 1478.5,1320.6 1478,1324.4 1476.5,1324.3 1476,1323.6 1474.5,1322 1472,1326.6 1471,1328 1470,1328 1469.5,1321.7 1469,1316.2 1468.5,1316 1465.5,1317.8 1464,1317.5 1463,1313 1462.5,1312.4 1462,1315.8 1461.5,1317.1 1460.5,1317.1 1455.5,1313.9 1455,1314.1 1453,1314.1 1452.5,1312.5 1452,1311.9 1451,1311.9 1450,1314.2 1449.5,1314.7 1449,1314.7 1442.5,1312.6 1436,1321.1 1434,1321.2 1433,1323 1431.5,1322.9 1429,1329.6 1428.5,1330.3 1427.5,1330.3 1427,1328.4 1424.5,1337.6 1423,1337.6 1422.5,1320.3 1422,1322.4 1421.5,1329.4 1421,1343.6 1419.5,1343.5 1418.5,1338.8 1418,1339.2 1417.5,1341.3 1417,1342.4 1416,1342.4 1415.5,1338.1 1415,1322.2 1414.5,1319.8 1414,1320.6 1411.5,1326.7 1411,1327.2 1410,1327.2 1409.5,1324.6 1409,1318.3 1408.5,1317 1408,1335.3 1406.5,1335.3 1404,1329 1403.5,1333.8 1402,1333.6 1396.5,1317.2 1395.5,1314.6 1394.5,1314.6 1390.5,1312.9 1387.5,1314.2 1385.5,1314.4 1385,1311.7 1384.5,1311.1 1382.5,1311 1381,1313.1 1379.5,1313 1376,1315.2 1374,1316 1371.5,1319 1370,1319.1 1369.5,1315.2 1369,1313.8 1368.5,1315.7 1368,1320.5 1366.5,1320.3 1365.5,1318.7 1365,1327.4 1364.5,1334.7 1363,1334.4 1360.5,1327.6 1360,1327 1357.5,1321.5 1355.5,1321.4 1355,1319.5 1354.5,1322.6 1354,1327.5 1353,1327.4 1352.5,1328.4 1349,1340.9 1347.5,1341.1 1347,1326.4 1346,1330 1345.5,1331 1344.5,1331 1344,1326.2 1343.5,1314.7 1343,1316.5 1342.5,1319.4 1341,1319.1 1335,1312.1 1334.5,1312.2 1331.5,1314.9 1330,1314.5 1329.5,1311 1325.5,1313.7 1323.5,1314.1 1323,1313.2 1322.5,1311.5 1320,1314.6 1319,1314.9 1318,1314.4 1317.5,1311.6 1317,1309.2 1314,1309.1 1313.5,1311.7 1313,1313.1 1312,1313.1 1310,1311.7 1306.5,1314 1304.5,1314.1 1304,1310.1 1303.5,1312.3 1303,1317.4 1302.5,1318.9 1301.5,1318.9 1300,1317.2 1299.5,1318.7 1299,1325 1297.5,1324.9 1294,1315.5 1293.5,1323.7 1292,1323.6 1291.5,1322.1 1291,1321.7 1289.5,1326.6 1289,1327.5 1288,1327.4 1287.5,1326.5 1286,1330.2 1284.5,1330.2 1284,1313.2 1283,1313.1 1282.5,1324 1281,1324 1278,1315.3 1277.5,1315.2 1275,1312.4 1274,1312.4 1273.5,1310.8 1272.5,1309.7 1270.5,1307.8 1267.5,1310.5 1266,1310.4 1265.5,1308.4 1265,1307 1260.5,1308.5 1258,1308.7 1257,1306.2 1253,1306 1252.5,1310.5 1251,1310.5 1248,1308.3 1246.5,1308.9 1244.5,1309.1 1244,1307.6 1243.5,1307.3 1241.5,1308.7 1241,1314.1 1240.5,1329 1239,1328.9 1236.5,1322.3 1235.5,1320 1234,1319.7 1230,1330.3 1228.5,1330.4 1228,1323.2 1227.5,1313.4 1227,1313.5 1225,1316.9 1223.5,1316.8 1223,1309.6 1221,1309.3 1220.5,1319.4 1220,1320 1219,1319.9 1218.5,1318.8 1217,1314.3 1216,1313.7 1212.5,1308.9 1212,1308.7 1211.5,1307.5 1209.5,1304.7 1207.5,1305.1 1206.5,1309.3 1205.5,1309.3 1202.5,1307.7 1201,1308.1 1199,1308.2 1198.5,1305.3 1197,1304.4 1193,1304.3 1192,1306.5 1191.5,1307.1 1190.5,1307.1 1188.5,1309.1 1188,1315.8 1186.5,1315.8 1186,1315.1 1185.5,1315.6 1181,1327 1179.5,1327.2 1179,1316.5 1178.5,1309.8 1177.5,1309.8 1177,1327.7 1176.5,1334.9 1175.5,1334.9 1175,1333.8 1174,1329.7 1173.5,1328.9 1172.5,1328.8 1170,1319.9 1169.5,1319.3 1169,1319.3 1168.5,1315.9 1164.5,1324.6 1163,1324.6 1162.5,1316.7 1162,1318.4 1160.5,1318.6 1156.5,1330.5 1156,1331.4 1155,1331.3 1154.5,1327.7 1154,1315.9 1153,1317.2 1151.5,1317.1 1151,1308.4 1150.5,1305.1 1149.5,1304.4 1145,1306.5 1143,1306.8 1142.5,1306.1 1141.5,1303.1 1140.5,1303.4 1139.5,1305.7 1139,1305.7 1137,1305.2 1134.5,1306.8 1132.5,1307.1 1132,1306.2 1131.5,1304.4 1131,1303.1 1130.5,1309 1130,1312.8 1128.5,1312.6 1128,1311.6 1127.5,1311.2 1122,1325.5 1120.5,1325.5 1120,1316.8 1118.5,1319.8 1118,1320.2 1117,1320.2 1116.5,1314.1 1116,1307.5 1113.5,1307.4 1113,1315.7 1111.5,1315.9 1109,1311.9 1108.5,1313.9 1108,1314.3 1103.5,1327.9 1102,1328 1101.5,1324.2 1100,1329.7 1098.5,1329.6 1098,1315.4 1097,1317.9 1096,1317.8 1095.5,1316.8 1095,1308.6 1094.5,1314.8 1094,1317.1 1093,1317 1092.5,1316.3 1088,1304.5 1086.5,1304.4 1084,1302.5 1081.5,1302.8 1080.5,1300.5 1076,1300.4 1075.5,1305 1074,1305 1071.5,1302.1 1070,1302.6 1065.5,1306.4 1064,1306.7 1063.5,1306.1 1060,1315.1 1059,1318.1 1058.5,1319 1056.5,1323.9 1055,1323.9 1054.5,1313.5 1052.5,1318.1 1051,1318.2 1050.5,1305.8 1048,1305.6 1047.5,1306.5 1047,1313.6 1046.5,1318.2 1045,1318.1 1044.5,1320.2 1044,1332.3 1042.5,1332.2 1037,1310.5 1036.5,1319 1036,1331.7 1035.5,1332.5 1034.5,1332.5 1034,1331.4 1025,1305.2 1024,1305.2 1023.5,1303.8 1023,1300.8 1022,1299.5 1020.5,1299.5 1017,1300.9 1015,1301.1 1014.5,1300.1 1013.5,1300.5 1013,1301.4 1012,1301.6 1009,1303.1 1007,1303.8 1006,1303.3 1005.5,1301 1005,1300.5 1004.5,1300.7 1004,1302 1003.5,1304.9 1002,1304.8 1000,1302.9 999,1303 998.5,1322.1 998,1333.5 997.5,1333.4 996.5,1333 989,1306.1 988.5,1307.3 988,1322.8 987.5,1326.7 986.5,1326.6 986,1325.7 984,1319.5 983.5,1319.5 983,1318.6 979.5,1308.5 979,1308 978,1308 977.5,1306.6 977,1301.9 975,1301.4 974.5,1306.7 974,1308.2 973,1308.1 972.5,1307.5 968.5,1299.2 968,1302.9 966.5,1302.8 962.5,1298.9 960.5,1297.9 959.5,1296.2 958.5,1298.1 957.5,1298.3 955.5,1297.6 953,1300.1 951.5,1300.2 951,1298.7 950.5,1295.7 947.5,1295.6 947,1300.5 946.5,1301.1 945.5,1301 944,1299.5 943.5,1302.1 943,1306.7 941.5,1306.7 938.5,1299.5 938,1309.8 937.5,1309.8 936.5,1309.3 935,1305.5 934.5,1315 933,1315 931,1308 930.5,1308.6 930,1308.6 929,1308.2 928.5,1303.1 927,1305.1 926,1305 925.5,1301.9 925,1306.3 924.5,1321 924,1321 923,1320.5 918.5,1306.9 918,1310.3 917.5,1310.7 916.5,1310.7 916,1309.4 914.5,1304.7 913.5,1302.4 913,1302.3 912,1303.8 910.5,1304.1 910,1302.2 909.5,1297.4 909,1296.5 906.5,1295.2 906,1299.2 905.5,1301.9 904,1301.7 899.5,1294.9 896,1295.2 895.5,1294.2 895,1294.1 889.5,1298.1 888,1298 887.5,1293.5 884,1294 883,1293.5 882.5,1292.4 881,1292 877,1295.8 876.5,1297.1 876,1297 874,1298.5 872.5,1298.5 872,1296.8 871.5,1296 868.5,1303.5 867,1303.5 866.5,1295.7 866,1319.5 865.5,1326.1 864.5,1326 864,1324.7 860.5,1311 858.5,1310.4 854.5,1300.8 854,1307 853.5,1314.8 852,1314.3 849.5,1305.9 848.5,1307 847.5,1306.9 847,1302.1 846.5,1295.9 845,1290.9 844.5,1290.4 844,1291.1 843,1290.9 838.5,1287.8 836.5,1287.1 835.5,1285.7 835,1285.3 830,1284.5 829,1289.2 828,1289.1 824.5,1287 822.5,1286.6 820.5,1285.4 815.5,1289.4 814,1289.4 813.5,1285.7 813,1284.1 811.5,1285.1 810.5,1296.4 809,1296.2 808,1293.7 807.5,1300.7 806,1300.6 805,1298.8 804.5,1304.3 804,1304.2 803,1303.8 802.5,1302.7 802,1305.1 801,1305 800.5,1304.4 800,1303 798,1297.6 797.5,1297.6 797,1294.4 795.5,1290.5 793.5,1293.8 792,1293.7 791.5,1286.9 791,1285.4 786,1282.3 785.5,1284.4 785,1285.1 784.5,1285 780.5,1283.7 778.5,1284.7 776.5,1284.9 776,1283.7 775.5,1282 775,1281.6 773.5,1281.5 772.5,1285.9 772,1286.6 770.5,1286.2 766.5,1281.4 766,1281.3 765.5,1282.2 765,1284 763.5,1284 760,1281.4 759,1281.5 758.5,1283.6 758,1285.2 756,1284.8 755.5,1285.7 755,1287.8 753.5,1287.6 752,1285.5 751.5,1292 751,1294.2 750.5,1294.2 749.5,1293.7 746.5,1288.3 746,1295 744.5,1295 743.5,1293.9 742,1293.9 740.5,1290.5 740,1291 739,1291 738.5,1289.4 738,1286.2 737.5,1290.6 737,1291.2 736,1291.2 735.5,1290.5 732.5,1295.5 731,1295.7 730.5,1288.5 727.5,1294 726.5,1295.4 725.5,1295.4 725,1294.2 724.5,1294.2 724,1295.9 723,1298.8 722,1298.8 721.5,1298.2 720.5,1284.2 720,1285.7 719.5,1291.4 719,1293.2 718,1293.2 717.5,1292.7 713.5,1284 713,1284.6 712,1284.6 708.5,1282.4 704.5,1282.6 703.5,1280.5 700.5,1280.4 700,1282.1 699.5,1282.1 692.5,1280.4 692,1283.1 691.5,1283.8 691,1283.8 689,1288 688.5,1290.1 688,1290.3 686.5,1293.6 685,1296.6 684,1296.6 683.5,1295.5 683,1285.3 682.5,1284.8 681,1284.8 680.5,1291.8 680,1300.4 678.5,1300.3 677.5,1297.2 677,1300 676,1300 675.5,1299.1 673,1290.5 672,1298 671,1297.9 670.5,1297.1 668.5,1290.6 668,1290.4 667,1291.8 665.5,1291.7 665,1286.1 664,1291.4 663,1291.3 662.5,1290.5 657.5,1278 654,1277.5 653.5,1279.3 653,1281.7 652,1281.6 647.5,1279.2 640,1276.8 639.5,1279 638.5,1279.1 636,1277.7 635.5,1278.2 629,1289.6 627.5,1289.7 627,1288.4 626.5,1289.8 626,1295.1 625.5,1296.8 624,1296.8 623.5,1298.2 623,1298.8 622,1298.6 621.5,1289.9 619,1283.9 618.5,1287.7 618,1289 617,1288.9 616.5,1288.1 615,1284.1 614.5,1284 614,1300.2 612.5,1300 611,1294.6 610.5,1296.1 609.5,1295.9 608.5,1293.8 607.5,1297 606,1296.8 605.5,1284.9 603.5,1279.1 603,1283 602.5,1285.7 601.5,1285.5 601,1284.9 599,1279.2 598.5,1278.3 596,1275.8 595.5,1276 593.5,1276 593,1273.4 592.5,1272 592,1271.8 588,1275 586.5,1275 585.5,1271.1 584,1271.4 580.5,1271.6 580,1271 578.5,1272 577,1272 576.5,1271.3 576,1269.4 575.5,1268.5 574.5,1268.3 574,1268.8 573,1270.6 572.5,1272.6 572,1272.6 568.5,1278.7 567,1278.6 566.5,1271.6 566,1270.9 564.5,1271.6 564,1277.1 563.5,1295.3 562,1295 561,1291.9 560.5,1293.1 559,1292.6 555.5,1281.1 555,1284.2 554.5,1292.2 553.5,1292.1 553,1291 551,1283.6 550.5,1283 549,1279.1 548.5,1278.9 548,1279.7 547.5,1280 546.5,1279.9 546,1275.6 545.5,1270.4 543,1270 542.5,1271.8 542,1280.9 540.5,1281 538.5,1276.1 537.5,1275.6 537,1274.2 536.5,1271 536,1269.8 535.5,1272.1 535,1272.5 534,1272.4 527.5,1264.3 524.5,1261.9 524,1262.8 523,1262.6 518,1260 517.5,1262.9 517,1264.5 516,1264.3 513,1261.4 511,1262.1 509,1262.1 508.5,1260.6 508,1258.5 505.5,1258.8 505,1272.6 504.5,1274.8 503.5,1274.6 503,1273.8 500,1265.8 499.5,1268.8 498,1268.6 497,1266.4 496.5,1291.7 495,1291.4 491.5,1279.2 489,1270.7 488.5,1271.2 485,1285.9 484.5,1286.6 483.5,1286.4 483,1274.5 482.5,1269.4 481.5,1272 481,1272.4 480,1272.2 479.5,1265 479,1257 475.5,1253.1 475,1253.6 474.5,1255 474,1254.9 471,1253.6 469,1252.9 466.5,1252.7 465.5,1250.6 464,1250 463,1251.8 462.5,1252.2 462,1252.1 458,1250.1 457.5,1250.4 457,1251.9 455.5,1251.5 451,1247.2 450.5,1247.4 450,1248 449.5,1248.2 447,1246.8 443.5,1250.6 442,1250.1 441.5,1246.9 441,1244.9 440.5,1249.5 440,1250 439,1249.6 436.5,1246.2 436,1266.3 434.5,1265.7 432,1257.8 431,1258.4 430,1258 429.5,1251.4 429,1248.1 428,1244.8 427.5,1249.4 427,1263.8 426.5,1265.2 425.5,1264.8 425,1263.4 424,1259.7 423,1259 422.5,1258.2 416,1239.6 415.5,1244.8 414,1244.2 411,1236.6 410.5,1237.1 409,1236.3 405.5,1230.1 404,1229.4 403,1227.3 398,1225.1 397.5,1226.8 397,1226.6 394,1224.7 393.5,1225.1 392.5,1225.2 387.5,1221.7 387,1222.9 386,1222.7 383,1226.4 382,1226.4 381,1228.4 379.5,1231.1 378.5,1230.5 378,1229.3 377.5,1221.7 376.5,1221.9 375,1220.8 374.5,1220.9 374,1221.7 371.5,1224.9 370.5,1225.3 369.5,1223.7 369,1222.1 368.5,1215.9 366.5,1215.3 365,1213 364.5,1208.8 364,1206.7 363,1205.6 361.5,1204.7 361,1207.2 360.5,1208.8 359,1205.9 357.5,1201.9 355,1196.6 352,1192.3"/>
<polyline class="ln" stroke="#0000ff" points="324.5,-400 324.5,-397 324.5,-394 324.5,-391 324.5,-388 324.5,-385 324.5,-382 324.5,-379 324.5,-376 324.5,-373 324.5,-370 324.5,-367 324.5,-364 324.5,-361 324.5,-358 324.5,-355 324.5,-352 324.5,-349 324.5,-346 324.5,-343 324.5,-340 324.5,-337 324.5,-334 324.5,-331 324.5,-328 324.5,-325 324.5,-322 324.5,-318.9 324.5,-315.9 324.5,-312.9 324.5,-309.9 324.5,-306.9 324.5,-303.9 324.5,-300.9 324.5,-297.9 324.5,-294.9 324.5,-291.9 324.5,-288.9 324.5,-285.9 324.5,-282.9 324.5,-279.9 324.5,-276.9 324.5,-273.9 324.5,-270.9 324.5,-267.9 324.5,-264.9 324.5,-261.9 324.5,-258.9 324.5,-255.9 324.5,-252.9 324.5,-249.9 324.5,-246.9 324.5,-243.9 324.5,-240.9 324.5,-237.9 324.5,-234.9 324.5,-231.9 324.5,-228.9 324.5,-225.9 324.5,-222.9 324.5,-219.9 324.5,-216.9 324.5,-213.9 324.5,-210.9 324.5,-207.9 324.5,-204.9 324.5,-201.9 324.5,-198.9 324.5,-195.9 324.5,-192.9 324.5,-189.9 324.5,-186.9 324.5,-183.9 324.5,-180.9 324.5,-177.9 324.5,-174.9 324.5,-171.9 324.5,-168.9 324.5,-165.9 324.5,-162.9 324.5,-159.9 324.5,-156.9 324.5,-153.9 324.5,-150.9 324.5,-147.9 324.5,-144.9 324.5,-141.9 324.5,-138.9 324.5,-135.9 324.5,-132.9 324.5,-129.9 324.5,-126.9 324.5,-123.9 324.5,-120.9 324.5,-117.9 324.5,-114.9 324.5,-111.9 324.5,-108.8 324.5,-105.8 324.5,-102.8 324.5,-99.8 324.5,-96.8 324.5,-93.8 324.5,-90.8 324.5,-87.8 324.5,-84.8 324.5,-81.8 324.5,-78.8 324.5,-75.8 324.5,-72.8 324.5,-69.8 324.5,-66.8 324.5,-63.8 324.5,-60.8 324.5,-57.8 324.5,-54.8 324.5,-51.8 324.5,-48.8 324.5,-45.8 324.5,-42.8 324.5,-39.8 324.5,-36.8 324.5,-33.8 324.5,-30.8 324.5,-27.8 324.5,-24.8 324.5,-21.8 324.5,-18.8 324.5,-15.8 324.5,-12.8 324.5,-9.8 324.5,-6.8 324.5,-3.8 324.5,-0.8 324.5,2.2 324.5,5.2 324.5,8.2 324.5,11.2 324.5,14.2 324.5,17.2 324.5,20.2 324.5,23.2 324.5,26.2 324.5,29.2 324.5,32.2 324.5,35.2 324.5,38.2 324.5,41.2 324.5,44.2 324.5,47.2 324.5,50.2 324.5,53.2 324.5,56.2 324.5,59.2 324.5,62.2 324.5,65.2 324.5,68.2 324.5,71.2 324.5,74.2 324.5,77.2 324.5,80.2 324.5,83.2 324.5,86.2 324.5,89.2 324.5,92.2 324.5,95.2 324.5,98.2 324.5,101.2 324.5,104.2 324.5,107.2 324.5,110.2 324.5,113.2 324.5,116.2 324.5,119.2 324.5,122.2 324.5,125.2 324.5,128.2 324.5,131.2 324.5,134.2 324.5,137.2 324.5,140.2 324.5,143.2 324.5,146.2 324.5,149.2 324.5,152.2 324.5,155.2 324.5,158.2 324.5,161.2 324.5,164.2 324.5,167.2 324.5,170.2 324.5,173.2 324.5,176.2 324.5,179.2 324.5,182.2 324.5,185.2 324.5,188.2 324.5,191.2 324.5,194.2 324.5,197.2 324.5,200.2 324.5,203.2 324.5,206.2 324.5,209.2 324.5,212.2 324.5,215.2 324.5,218.2 324.5,221.2 324.5,224.2 324.5,227.2 324.5,230.2 324.5,233.2 324.5,236.2 324.5,239.2 324.5,242.2 324.5,245.2 324.5,248.2 324.5,251.2 324.5,254.2 324.5,257.2 324.5,260.2 324.5,263.2 324.5,266.2 324.5,269.2 324.5,272.2 324.5,275.2 324.5,278.2 324.5,281.2 324.5,284.2 324.5,287.2 324.5,290.2 324.5,293.2 324.5,296.2 324.5,299.2 324.5,302.2 324.5,305.2 324.5,308.2 324.5,311.2 324.5,314.2 324.5,317.2 324.5,320.2 324.5,323.2 324.5,326.2 324.5,329.2 324.5,332.2 324.5,335.2 324.5,338.2 324.5,341.2 324.5,344.2 324.5,347.2 324.5,350.2 324.5,353.2 324.5,356.2 324.5,359.2 324.5,362.2 324.5,365.2 324.5,368.2 324.5,371.2 324.5,374.2 324.5,377.2 324.5,380.2 324.5,383.2 324.5,386.2 324.5,389.2 324.5,392.2 324.5,395.2 324.5,398.2 324.5,401.2 324.5,404.2 324.5,407.2 324.5,410.2 324.5,413.2 324.5,416.2 324.5,419.2 324.5,422.2 324.5,425.2 324.5,428.2 324.5,431.2 324.5,434.2 324.5,437.2 324.5,440.2 324.5,443.2 324.5,446.2 324.5,449.2 324.5,452.2 324.5,455.2 324.5,458.2 324.5,461.2 324.5,464.2 324.5,467.2 324.5,470.2 324.5,473.2 324.5,476.2 324.5,479.2 324.5,482.2 324.5,485.2 324.5,488.2 324.5,491.2 324.5,494.2 324.5,497.2 324.5,500.2 324.5,503.2 324.5,506.2 324.5,509.2 324.5,512.2 324.5,515.2 324.5,518.2 324.5,521.2 324.5,524.2 324.5,527.2 324.5,530.2 324.5,533.2 324.5,536.2 324.5,539.2 324.5,542.2 324.5,545.2 324.5,548.2 324.5,551.2 324.5,554.2 324.5,557.2 324.5,560.2 324.5,563.2 324.5,566.2 324.5,569.2 324.5,572.2 324.5,575.2 324.5,578.2 324.5,581.2 324.5,584.2 324.5,587.2 324.5,590.2 324.5,593.2 324.5,596.2 324.5,599.2 324.5,602.2 324.5,605.2 324.5,608.2 324.5,611.2 324.5,614.2 324.5,617.2 324.5,620.2 324.5,623.2 324.5,626.2 324.5,629.2 324.5,632.2 324.5,635.2 324.5,638.2 324.5,641.2 324.5,644.2 324.5,647.2 324.5,650.2 324.5,653.2 324.5,656.2 324.5,659.2 324.5,662.2 324.5,665.2 324.5,668.2 324.5,671.2 324.5,674.2 324.5,677.2 324.5,680.2 324.5,683.2 324.5,686.2 324.5,689.2 324.5,692.2 324.5,695.2 324.5,698.2 324.5,701.2 324.5,704.2 324.5,707.2 324.5,710.2 324.5,713.2 324.5,716.2 324.5,719.2 324.5,722.1 324.5,725.1 324.5,728.1 324.5,731.1 324.5,734.1 324.5,737.1 324.5,740.1 324.5,743.1 324.5,746.1 324.5,749.1 324.5,752.1 324.5,755.1 324.5,758.1 324.5,761.1 324.5,764.1 324.5,767.1 324.5,770.1 324.5,773.1 324.5,776.1 324.5,779.1 324.5,782.1 324.5,785.1 324.5,788.1 324.5,791.1 324.5,794.1 324.5,797.1 324.5,800.1 324.5,803.1 324.5,806.1 324.5,809.1 324.5,812.1 324.5,815.1 324.5,818.1 324.5,821.1 324.5,824.1 324.5,827.1 324.5,830.1 324.5,833.1 324.5,836.1 324.5,839.1 324.5,842.1 324.5,845.1 324.5,848.1 324.5,851.1 324.5,854.1 324.5,857.1 324.5,860.1 324.5,863.1 324.5,866.1 324.5,869.1 324.5,872.1 324.5,875.1 324.5,878.1 324.5,881.1 324.5,884.1 324.5,887.1 324.5,890.1 324.5,893.1 324.5,896.1 324.5,899.1 324.5,902.1 324.5,905.1 324.5,908.1 324.5,911.1 324.5,914.1 324.5,917.1 324.5,920.1 324.5,923.1 324.5,926.1 324.5,929.1 324.5,932.1 324.5,935.1 324.5,938.1 324.5,941.1 324.5,944.1 324.5,947.1 324.5,950.1 324.5,953.1 324.5,956.1 324.5,959.1 324.5,962.1 324.5,965.1 324.5,968.1 324.5,971.1 324.5,974.1 324.5,977.1 324.5,980.1 324.5,983.1 324.5,986.1 324.5,989.1 324.5,992.1 324.5,995.1 324.5,998 324.5,1001 324.5,1004 324.5,1007 324.5,1010 324.5,1013 324.5,1016 324.5,1019 324.5,1022 324.5,1025 324.5,1028 324.5,1031 324.5,1034 324.5,1037 324.5,1040 324.5,1043 324.5,1046 324.5,1049 324.5,1052 324.5,1055 324.5,1058 324.5,1061 324.5,1064 324.5,1067 324.5,1070 324.5,1073 324.5,1076 324.5,1079 324.5,1082 324.5,1085 324.5,1088 324.5,1091 324.5,1094 324.5,1097 324.5,1100 324.5,1103 324.5,1106 324.5,1109 324.5,1112 324.5,1115 324.6,1118 324.7,1121 324.8,1124 324.9,1127 325,1130 325.1,1133 325.3,1136 325.4,1139 325.6,1142 325.7,1145 325.9,1148 326.1,1151 326.2,1154 326.4,1157 326.6,1159.9 326.8,1162.9 327,1165.9 327.2,1168.9 327.5,1171.9 327.7,1174.9 328,1177.9 328.2,1180.9 328.5,1183.9 328.8,1186.9 329.1,1189.9 329.4,1192.8 329.7,1195.8 330,1198.8 330.3,1201.8 330.6,1204.8 330.9,1207.8 331.2,1210.8 331.5,1213.7 331.8,1216.7 332.1,1219.7 332.5,1222.7 332.8,1225.7 333.1,1228.7 333.5,1231.7 333.9,1234.7 334.3,1237.7 334.7,1240.6 335.1,1243.6 335.6,1246.5 336.2,1249.4 336.8,1252.3 337.5,1255.3 338.4,1258.2 339.3,1261.1 340.3,1264 341.4,1266.8 342.5,1269.6 343.7,1272.4 345,1275 346.3,1277.6 347.8,1280.1 349.4,1282.6 351.2,1285.1 353,1287.5 355,1289.9 357.1,1292.2 359.2,1294.4 361.3,1296.5 363.5,1298.6 365.6,1300.6 367.9,1302.5 370.2,1304.4 372.6,1306.2 375,1308 377.5,1309.8 380.1,1311.4 382.7,1313.1 385.3,1314.6 387.9,1316.1 390.6,1317.4 393.2,1318.7 395.9,1320 398.5,1321.2 401.3,1322.4 404,1323.5 406.8,1324.6 409.6,1325.7 412.4,1326.8 415.2,1327.8 418,1328.8 420.9,1329.8 423.8,1330.8 426.6,1331.7 429.5,1332.7 432.4,1333.6 435.3,1334.5 438.2,1335.4 441.1,1336.2 444,1337.1 446.9,1337.9 449.8,1338.8 452.7,1339.6 455.6,1340.5 458.4,1341.3 461.3,1342.1 464.2,1342.9 467.1,1343.7 470,1344.5 472.9,1345.3 475.8,1346 478.7,1346.7 481.6,1347.5 484.5,1348.2 487.4,1348.9 490.4,1349.6 493.3,1350.3 496.2,1351 499.1,1351.7 502.1,1352.4 505,1353.1 507.9,1353.7 510.8,1354.4 513.8,1355 516.7,1355.7 519.6,1356.4 522.5,1357 525.5,1357.7 528.4,1358.3 531.3,1359 534.3,1359.7 537.2,1360.3 540.1,1361 543.1,1361.6 546,1362.3 548.9,1362.9 551.9,1363.5 554.8,1364.1 557.7,1364.7 560.7,1365.3 563.6,1365.9 566.6,1366.5 569.5,1367 572.5,1367.5 575.4,1368 578.4,1368.5 581.3,1368.9 584.3,1369.4 587.3,1369.8 590.2,1370.2 593.2,1370.7 596.2,1371.1 599.2,1371.5 602.1,1371.9 605.1,1372.2 608.1,1372.6 611.1,1373 614.1,1373.3 617,1373.7 620,1374 623,1374.3 626,1374.6 629,1374.9 632,1375.2 635,1375.5 637.9,1375.8 640.9,1376 643.9,1376.2 646.9,1376.5 649.9,1376.7 652.9,1376.9 655.9,1377.1 658.9,1377.3 661.9,1377.5 664.9,1377.6 667.9,1377.8 670.9,1378 673.9,1378.1 676.8,1378.3 679.8,1378.5 682.8,1378.6 685.8,1378.8 688.8,1378.9 691.8,1379.1 694.8,1379.2 697.8,1379.3 700.8,1379.5 703.8,1379.6 706.8,1379.8 709.8,1379.9 712.8,1380.1 715.8,1380.2 718.8,1380.4 721.8,1380.5 724.8,1380.7 727.8,1380.8 730.8,1381 733.8,1381.1 736.8,1381.3 739.8,1381.4 742.8,1381.5 745.8,1381.7 748.8,1381.8 751.8,1381.9 754.8,1382 757.8,1382.2 760.8,1382.3 763.8,1382.4 766.8,1382.5 769.8,1382.6 772.8,1382.7 775.8,1382.8 778.8,1382.9 781.8,1383 784.8,1383.1 787.8,1383.2 790.8,1383.2 793.8,1383.3 796.8,1383.4 799.8,1383.4 802.8,1383.5 805.8,1383.6 808.8,1383.7 811.8,1383.8 814.8,1383.9 817.8,1384 820.8,1384.1 823.7,1384.2 826.7,1384.4 829.7,1384.6 832.7,1384.8 835.7,1385.1 838.6,1385.5 841.6,1385.9 844.6,1386.3 847.5,1386.8 850.5,1387.3 853.4,1387.8 856.4,1388.3 859.4,1388.9 862.3,1389.5 865.3,1390.1 868.2,1390.6 871.2,1391.2 874.1,1391.8 877.1,1392.3 880.1,1392.8 883,1393.3 886,1393.8 889,1394.2 891.9,1394.6 894.9,1394.9 897.9,1395.3 900.9,1395.6 903.8,1396 906.8,1396.3 909.8,1396.7 912.8,1397 915.8,1397.3 918.8,1397.6 921.7,1397.9 924.7,1398.2 927.7,1398.5 930.7,1398.8 933.7,1399.1 936.7,1399.4 939.7,1399.7 942.6,1400 945.6,1400.3 948.6,1400.6 951.6,1400.9 954.6,1401.2 957.6,1401.5 960.6,1401.8 963.6,1402.1 966.5,1402.4 969.5,1402.7 972.5,1403 975.5,1403.3 978.5,1403.6 981.5,1403.9 984.5,1404.2 987.4,1404.5 990.4,1404.8 993.4,1405 996.4,1405.3 999.4,1405.5 1002.4,1405.7 1005.4,1405.9 1008.4,1406 1011.4,1406.2 1014.4,1406.3 1017.4,1406.4 1020.4,1406.4 1023.4,1406.5 1026.4,1406.6 1029.4,1406.7 1032.4,1406.7 1035.4,1406.8 1038.4,1406.8 1041.4,1406.9 1044.4,1406.9 1047.4,1407 1050.4,1407 1053.4,1407.1 1056.4,1407.1 1059.4,1407.2 1062.4,1407.3 1065.4,1407.3 1068.4,1407.4 1071.4,1407.5 1074.4,1407.5 1077.4,1407.6 1080.4,1407.7 1083.4,1407.8 1086.4,1407.9 1089.4,1408 1092.4,1408.1 1095.3,1408.2 1098.3,1408.3 1101.3,1408.4 1104.3,1408.6 1107.3,1408.7 1110.3,1408.8 1113.3,1408.9 1116.3,1409 1119.3,1409.1 1122.3,1409.3 1125.3,1409.4 1128.3,1409.5 1131.3,1409.6 1134.3,1409.7 1137.3,1409.9 1140.3,1410 1143.3,1410.1 1146.3,1410.2 1149.3,1410.4 1152.3,1410.5 1155.3,1410.6 1158.3,1410.8 1161.3,1410.9 1164.3,1411.1 1167.3,1411.2 1170.3,1411.4 1173.3,1411.5 1176.3,1411.6 1179.3,1411.8 1182.3,1411.9 1185.3,1412 1188.3,1412.2 1191.3,1412.3 1194.3,1412.4 1197.3,1412.5 1200.3,1412.6 1203.3,1412.7 1206.3,1412.8 1209.3,1412.9 1212.3,1413 1215.3,1413.1 1218.3,1413.1 1221.3,1413.2 1224.3,1413.3 1227.3,1413.3 1230.3,1413.4 1233.3,1413.5 1236.3,1413.5 1239.3,1413.6 1242.3,1413.7 1245.3,1413.8 1248.3,1413.9 1251.3,1414 1254.2,1414.1 1257.2,1414.2 1260.2,1414.3 1263.2,1414.4 1266.2,1414.6 1269.2,1414.8 1272.2,1415 1275.2,1415.2 1278.2,1415.5 1281.2,1415.8 1284.1,1416.1 1287.1,1416.4 1290.1,1416.8 1293.1,1417.1 1296.1,1417.5 1299.1,1417.9 1302,1418.2 1305,1418.6 1308,1418.9 1311,1419.2 1314,1419.6 1317,1419.9 1319.9,1420.1 1322.9,1420.4 1325.9,1420.6 1328.9,1420.8 1331.9,1421 1334.9,1421.2 1337.9,1421.4 1340.9,1421.6 1343.9,1421.8 1346.9,1422 1349.9,1422.2 1352.9,1422.3 1355.9,1422.5 1358.9,1422.6 1361.9,1422.8 1364.9,1422.9 1367.9,1423.1 1370.9,1423.2 1373.9,1423.3 1376.9,1423.4 1379.9,1423.5 1382.9,1423.5 1385.8,1423.6 1388.8,1423.6 1391.8,1423.7 1394.8,1423.8 1397.8,1423.8 1400.8,1423.8 1403.8,1423.9 1406.8,1423.9 1409.8,1424 1412.8,1424 1415.8,1424 1418.8,1424.1 1421.8,1424.1 1424.8,1424.1 1427.8,1424.2 1430.8,1424.2 1433.8,1424.3 1436.8,1424.3 1439.8,1424.3 1442.8,1424.4 1445.8,1424.4 1448.8,1424.5 1451.8,1424.5 1454.8,1424.5 1457.8,1424.6 1460.9,1424.6 1463.9,1424.6 1466.9,1424.7 1469.9,1424.7 1472.9,1424.7 1475.9,1424.8 1478.9,1424.8 1481.9,1424.9 1484.9,1424.9 1487.9,1424.9 1490.9,1425 1493.9,1425 1496.9,1425.1 1499.9,1425.2 1502.8,1425.2 1505.8,1425.3 1508.8,1425.5 1511.8,1425.7 1514.8,1425.9 1517.8,1426.2 1520.8,1426.6 1523.7,1427 1526.7,1427.4 1529.7,1427.8 1532.7,1428.2 1535.7,1428.7 1538.6,1429.1 1541.6,1429.6 1544.6,1430 1547.6,1430.4 1550.6,1430.7 1553.5,1431 1556.5,1431.3 1559.5,1431.5 1562.5,1431.6 1565.5,1431.7 1568.5,1431.7 1571.5,1431.8 1574.5,1431.9 1577.5,1431.9 1580.5,1432 1583.5,1432 1586.5,1432.1 1589.5,1432.1 1592.5,1432.1 1595.5,1432.2 1598.5,1432.2 1601.5,1432.2 1604.5,1432.3 1607.5,1432.3 1610.5,1432.3 1613.5,1432.4 1616.5,1432.4 1619.5,1432.5 1622.5,1432.5 1625.5,1432.6 1628.5,1432.6 1631.5,1432.7 1634.5,1432.8 1637.5,1432.9 1640.5,1432.9 1643.5,1433 1646.5,1433.1 1649.5,1433.2 1652.5,1433.3 1655.5,1433.4 1658.5,1433.5 1661.5,1433.6 1664.5,1433.7 1667.5,1433.8 1670.5,1433.9 1673.5,1434 1676.5,1434.1 1679.5,1434.2 1682.5,1434.3 1685.5,1434.3 1688.5,1434.4 1691.5,1434.4 1694.5,1434.5 1697.5,1434.5 1700.5,1434.5 1703.5,1434.5 1706.5,1434.6 1709.5,1434.6 1712.5,1434.6 1715.5,1434.6 1718.5,1434.7 1721.5,1434.7 1724.5,1434.7 1727.5,1434.7 1730.5,1434.7 1733.5,1434.8 1736.5,1434.8 1739.5,1434.8 1742.5,1434.8 1745.5,1434.9 1748.5,1434.9 1751.5,1435 1754.5,1435 1757.5,1435.1 1760.4,1435.2 1763.4,1435.4 1766.4,1435.6 1769.4,1435.9 1772.4,1436.1 1775.4,1436.5 1778.4,1436.8 1781.4,1437.1 1784.4,1437.4 1787.3,1437.8 1790.3,1438.1 1793.3,1438.4 1796.3,1438.7 1799.3,1439 1802.3,1439.3 1805.3,1439.5 1808.3,1439.6 1811.3,1439.8 1814.3,1439.8 1817.3,1439.9 1820.3,1440 1823.3,1440 1826.2,1440 1829.2,1440.1 1832.2,1440.1 1835.2,1440.2 1838.2,1440.2 1841.3,1440.2 1844.3,1440.2 1847.3,1440.3 1850.3,1440.3 1853.3,1440.3 1856.3,1440.3 1859.3,1440.4 1862.3,1440.4 1865.3,1440.4 1868.3,1440.5 1871.3,1440.5 1874.3,1440.6 1877.3,1440.6 1880.3,1440.7 1883.3,1440.7 1886.3,1440.8 1889.2,1440.9 1892.2,1441.1 1895.2,1441.2 1898.2,1441.4 1901.2,1441.6 1904.2,1441.8 1907.2,1442 1910.2,1442.2 1913.2,1442.4 1916.2,1442.7 1919.2,1442.9 1922.2,1443.1 1925.2,1443.3 1928.2,1443.5 1931.2,1443.8 1934.2,1444 1937.2,1444.1 1940.1,1444.3 1943.1,1444.5 1946.1,1444.6 1949.1,1444.8 1952.1,1444.9 1955.1,1445.1 1958.1,1445.2 1961.1,1445.4 1964.1,1445.5 1967.1,1445.6 1970.1,1445.8 1973.1,1445.9 1976.1,1446 1979.1,1446.2 1982.1,1446.3 1985.1,1446.4 1988.1,1446.6 1991.1,1446.7 1994.1,1446.8 1997.1,1447 2000.1,1447.1 2003.1,1447.3 2006.1,1447.4 2009.1,1447.5 2012.1,1447.6 2015.1,1447.8 2018.1,1447.9 2021.1,1448 2024.1,1448.2 2027.1,1448.3 2030.1,1448.4 2033.1,1448.5 2036,1448.7 2039,1448.8 2042,1448.9 2045,1449.1 2048,1449.2 2051,1449.4 2054,1449.5 2057,1449.7 2060,1449.8 2063,1450 2066,1450.2 2069,1450.3 2072,1450.5 2075,1450.7 2078,1450.9 2081,1451.1 2084,1451.3 2087,1451.5 2090,1451.7 2093,1451.9 2095.9,1452.1 2098.9,1452.3 2101.9,1452.5 2104.9,1452.7 2107.9,1452.9 2110.9,1453.1 2113.9,1453.3 2116.9,1453.5 2119.9,1453.7 2122.9,1453.9 2125.9,1454.1 2128.9,1454.3 2131.9,1454.6 2134.9,1454.8 2137.9,1455 2140.8,1455.3 2143.8,1455.5 2146.8,1455.7 2149.8,1455.9 2152.8,1456.1 2155.8,1456.3 2158.8,1456.5 2161.8,1456.6 2164.8,1456.8 2167.8,1456.9 2170.8,1457 2173.8,1457 2176.8,1457.1 2179.8,1457.2 2182.8,1457.2 2185.8,1457.3 2188.8,1457.3 2191.8,1457.4 2194.8,1457.4 2197.8,1457.4 2200.8,1457.5 2203.8,1457.5 2206.8,1457.5 2209.8,1457.6 2212.8,1457.6 2215.8,1457.6 2218.8,1457.7 2221.8,1457.7 2224.8,1457.7 2227.8,1457.8 2230.8,1457.8 2233.8,1457.8 2236.8,1457.9 2239.8,1457.9 2242.8,1458 2245.8,1458 2248.8,1458.1 2251.8,1458.2 2254.8,1458.2 2257.8,1458.3 2260.8,1458.3 2263.8,1458.4 2266.8,1458.5 2269.8,1458.6 2272.8,1458.6 2275.8,1458.7 2278.8,1458.8 2281.8,1458.9 2284.8,1459 2287.8,1459.1 2290.8,1459.2 2293.8,1459.3 2296.8,1459.4 2299.8,1459.5 2302.8,1459.6 2305.8,1459.7 2308.8,1459.8 2311.7,1460 2314.7,1460.2 2317.7,1460.3 2320.7,1460.6 2323.7,1460.8 2326.7,1461.1 2329.7,1461.3 2332.7,1461.6 2335.7,1461.9 2338.7,1462.2 2341.7,1462.4 2344.6,1462.7 2347.6,1463 2350.6,1463.2 2353.6,1463.5 2356.6,1463.7 2359.6,1463.9 2362.6,1464.1 2365.6,1464.3 2368.6,1464.4 2371.6,1464.6 2374.6,1464.7 2377.6,1464.8 2380.6,1464.9 2383.6,1465 2386.6,1465.1 2389.6,1465.2 2392.6,1465.3 2395.6,1465.4 2398.6,1465.5 2401.6,1465.6 2404.6,1465.6 2407.6,1465.7 2410.6,1465.8 2413.6,1465.9 2416.6,1466 2419.6,1466 2422.6,1466.1 2425.6,1466.2 2428.6,1466.3 2431.5,1466.3 2434.5,1466.4 2437.5,1466.5 2440.5,1466.6 2443.5,1466.6 2446.5,1466.7 2449.5,1466.8 2452.5,1466.8 2455.5,1466.9 2458.5,1466.9 2461.5,1467 2464.5,1467"/>
<polygon class="bd" fill="#0000ff" points="338,1241.1 339.5,1247.7 341.5,1254.3 345,1263.9 348.5,1270.8 350,1273 352.5,1275.6 354.5,1275.6 356,1276.9 356.5,1273.3 357,1272.3 358,1272.7 360,1276.7 360.5,1277.9 361,1274.6 362.5,1275.2 364,1273.2 364.5,1273 365.5,1274 366,1280.8 366.5,1279.4 367,1279 368,1279.9 369,1282.7 370.5,1287.6 371,1288.6 372,1289.4 373.5,1291.6 374.5,1292 375.5,1293.1 376.5,1295.3 377,1292.4 378.5,1293.8 380,1297.4 380.5,1298.2 382,1298.9 383,1303.4 384.5,1303.7 385.5,1304.5 386,1307.1 386.5,1308.3 389.5,1309.8 391,1310 391.5,1309.4 394.5,1310.2 397,1310.8 397.5,1311.3 398,1313.9 399.5,1314.9 400.5,1311.1 402,1311.9 404,1315.1 405.5,1315.6 406,1316.3 406.5,1317.8 412,1315.3 413.5,1316 415,1312.4 415.5,1309.7 416,1299.2 416.5,1297.5 417.5,1297.9 418,1299.2 419,1302.8 420.5,1299.5 421.5,1299.8 422,1300.5 422.5,1305.8 423,1288.6 424.5,1289.5 426,1296.9 426.5,1297 427,1302.1 427.5,1304.7 428,1294.8 429.5,1295.3 432,1306.1 433.5,1301.6 434,1300.7 435,1301.1 435.5,1303.4 436,1308.9 436.5,1309.1 437.5,1305.6 438,1305 439,1305.3 439.5,1311.6 440,1320.1 440.5,1311.6 441,1310.2 442,1310.5 443,1312.7 449,1328.7 451,1329 451.5,1330 452,1332.4 452.5,1333.1 453.5,1333.4 454,1330.2 456,1331 460.5,1334.5 461,1334.3 462,1331.6 464,1332.5 466.5,1330.9 468,1331.3 468.5,1333.1 473,1321.9 474,1321.8 474.5,1321.9 475,1325.9 475.5,1327.7 476.5,1328 477,1331 477.5,1333.1 479,1333.2 479.5,1327.5 481,1327.9 482,1329.8 482.5,1326.4 483.5,1326.6 484,1327.2 485.5,1331.7 486,1332.3 486.5,1329.3 488,1329.9 489,1332.2 489.5,1330.7 490,1325.1 491.5,1325.7 492.5,1328.8 493,1328.6 493.5,1327.3 495,1327.5 495.5,1337 496,1334 496.5,1328.3 498,1328.7 500,1334.8 502.5,1328.7 503,1327.8 504,1328.1 504.5,1330.4 505,1339 506,1337.3 507.5,1337.6 508,1340.3 509,1340.5 509.5,1342.7 510,1346.1 510.5,1345 512.5,1345.8 516.5,1349.3 517.5,1346.9 519,1346.9 522,1348.4 523,1349.4 523.5,1349.7 524.5,1347.1 526,1347.5 529.5,1350.8 531.5,1350.1 532.5,1350.3 533,1351 533.5,1352.3 534.5,1352.2 535.5,1351.6 538,1347.1 538.5,1345.9 543,1328.1 544.5,1328.2 545,1338.2 546,1337.9 546.5,1338 547,1345 547.5,1346 549,1346.2 549.5,1340.6 551,1340.9 553,1346.9 553.5,1346.8 554,1331.6 555,1331.8 555.5,1332.3 559,1345.7 559.5,1345.4 560,1330.2 561.5,1330.5 563.5,1336.9 564,1337.1 564.5,1340.2 565,1341.8 565.5,1343 566.5,1343.3 571.5,1358.9 573,1359.4 573.5,1361.1 574.5,1361.1 578,1360 579,1360.1 579.5,1360.6 580,1361.9 581,1362.5 581.5,1362.6 582,1358.9 584,1359.5 585.5,1360.6 586,1360.6 587.5,1359.2 589,1359.4 589.5,1360.4 593,1358.1 594,1358.2 594.5,1359.4 595,1361.9 597.5,1359.7 598,1354.2 598.5,1344.9 599.5,1345.1 600,1345.7 602.5,1352.7 604,1352.8 604.5,1357.1 608.5,1357.4 609,1354 609.5,1340 611,1340.3 615,1355.8 615.5,1352.2 616,1341.4 616.5,1340.5 617.5,1340.6 618.5,1343.6 619,1342.9 620,1343 620.5,1343.5 621,1345.3 621.5,1346.1 622,1346.2 622.5,1350.9 624,1356.5 624.5,1354.6 625,1348.5 626.5,1348.7 628.5,1356.6 629,1350.3 629.5,1348.9 630.5,1349 631,1350.1 631.5,1351.9 632,1349.1 633,1349.2 633.5,1350 639,1366.6 641,1365.6 642,1365.7 642.5,1366.4 643,1368.7 643.5,1369.9 647.5,1370.2 648,1368.8 650.5,1369.2 651,1369 651.5,1366.5 652.5,1362.7 658.5,1337.5 660,1337.6 660.5,1349.2 661,1358.6 661.5,1354.7 662,1340 662.5,1339.4 663.5,1339.4 664.5,1343 667.5,1355 668,1353.6 668.5,1352.9 670,1352.7 670.5,1352 671.5,1352 673.5,1356.3 674.5,1358.7 675,1358.7 675.5,1351.6 676.5,1351.7 677,1352.2 677.5,1353.8 678,1352.5 679,1348.9 679.5,1348.3 680.5,1348.4 681,1353.4 681.5,1354.9 682.5,1352.4 683,1351.6 684,1351.7 684.5,1353.4 685,1360.3 686,1358.5 687.5,1358.4 688.5,1366 690,1366.3 695,1371 697,1371.6 700,1369.6 701,1369.6 702,1372.9 702.5,1372.7 703.5,1370.4 705.5,1370.9 706,1371.2 708,1370.9 709,1372.6 711.5,1371.6 712.5,1371.6 713.5,1373.8 716,1373.9 716.5,1372.7 717,1372 719.5,1372.4 722.5,1369 723.5,1360.1 725,1360.5 726,1362.5 726.5,1358.5 728,1358.6 728.5,1356.4 730,1356.7 732,1361.2 732.5,1360.6 733.5,1360.7 734,1361.1 736,1365.2 736.5,1358.7 738,1358.8 739,1360.9 740.5,1360.6 741.5,1358.8 742.5,1358.8 743,1356.2 743.5,1354.1 744.5,1354.1 745,1354.9 751,1370.8 752.5,1371.2 753,1374 755,1373.1 756,1373.1 756.5,1375.7 758,1375.9 758.5,1373.5 760.5,1373.5 765,1376.2 765.5,1376.2 766,1373.3 766.5,1372.5 768,1372.8 769,1373.7 772,1370.9 773,1371 773.5,1372.3 774,1375.4 776.5,1375.2 777,1376.4 779,1376.5 779.5,1374.8 780.5,1368.7 782,1368.8 783.5,1371.3 784,1371.2 785,1369.4 785.5,1360.4 786,1358.5 787,1358.6 788.5,1362 789.5,1364.5 790,1346.5 791,1346.6 791.5,1347.1 794.5,1361.7 795,1363.7 796,1363.2 796.5,1363.2 797,1364.7 798,1364.7 798.5,1364.2 801,1354.2 802.5,1354.2 803,1364.8 805,1360.5 806.5,1360.8 807,1365.3 808,1365.1 808.5,1358.4 809.5,1358.5 810,1358.9 810.5,1349 812,1349.1 818.5,1372.7 819,1373.8 822.5,1377.9 824,1377.9 824.5,1376.1 827.5,1376.8 830.5,1377.9 831,1377 831.5,1374.2 833.5,1374.5 835.5,1376.1 836.5,1374.7 838,1375.1 842.5,1378.6 843,1378.4 843.5,1375.4 845,1375.8 845.5,1375.5 846,1374.3 846.5,1358.5 848,1358.9 849,1362.7 849.5,1363.8 850.5,1360.4 851,1356.3 852,1356.3 853,1353.3 853.5,1352.7 854.5,1352.8 855,1357.5 856.5,1357.6 857,1358.1 860,1367.1 860.5,1341.7 862,1342.1 866.5,1364.7 867,1357.8 868.5,1358.1 876.5,1384.1 877,1384.4 879,1383 880.5,1383.5 881.5,1386.7 883.5,1387 884.5,1384.2 886,1384.5 888,1386.3 892,1385.8 893.5,1385.2 894.5,1385.3 895.5,1388.7 897,1388.4 900.5,1386.5 901.5,1386.6 902,1387.6 909.5,1364.4 911,1364.6 911.5,1380 912,1379.6 912.5,1377.9 914.5,1373 915.5,1370.3 916,1369.6 917,1369.7 917.5,1376.1 918,1381.6 919,1381.7 919.5,1365.9 921,1366.1 925.5,1381.4 926,1382.4 927.5,1379 928,1367.3 928.5,1365.6 929.5,1365.7 930,1366.9 931,1370.2 932,1367.4 933.5,1367.2 934,1375.3 935,1373.3 936.5,1373.5 937,1382.2 937.5,1383.6 938.5,1383.7 941,1388 941.5,1388 945.5,1393.9 946.5,1394.1 947,1392.4 949,1392.4 950.5,1392.8 953,1392.2 954,1392.3 954.5,1394.6 955.5,1394.9 956,1394.6 956.5,1393.5 959,1394 960,1390.1 961.5,1390.5 962,1389.9 964,1385.3 965.5,1385.5 966,1386.2 967.5,1384.6 968,1369.8 968.5,1366.2 969.5,1366.3 970,1367.6 971.5,1374.4 972,1373.8 974,1363.8 974.5,1362 975.5,1362.1 976,1363.6 976.5,1382.2 979.5,1370.4 980,1363.3 981,1363.4 981.5,1362.5 983,1356.6 984.5,1356.7 985,1374.5 986,1371.5 987.5,1371.3 988,1378.9 988.5,1384.1 989,1383.8 989.5,1374.5 991,1374.6 991.5,1373.1 993,1366.6 994,1366.3 994.5,1366.3 995,1385.8 995.5,1386.9 997,1384.7 998,1384.8 998.5,1385.6 999,1391.9 1001,1395.4 1001.5,1394.3 1003,1394.6 1004,1395.4 1005.5,1395.7 1007,1396.7 1009,1395.4 1010,1395.4 1010.5,1395.9 1011,1398.2 1011.5,1398.5 1014.5,1396.8 1015.5,1396.9 1016.5,1399 1021,1396.8 1022,1396.8 1023,1398.9 1027,1397.6 1028,1397.9 1028.5,1397.2 1033,1384.5 1034.5,1384.4 1035,1387.1 1036,1385.5 1037,1385.6 1037.5,1387.3 1038,1385.9 1038.5,1385.2 1039.5,1385.2 1040,1386.7 1041,1386.8 1042.5,1381 1043,1380.4 1044,1380.4 1044.5,1385.5 1045,1384.2 1045.5,1383.4 1046.5,1383.5 1047,1385.4 1047.5,1386.9 1050.5,1386.8 1051,1372 1051.5,1353 1052.5,1353 1053,1353.6 1056.5,1374.4 1057,1377.1 1058.5,1386.2 1059,1386.4 1060,1389.2 1061,1386.7 1062.5,1386.8 1063,1397 1064,1398.7 1064.5,1396.9 1065,1396.3 1066.5,1396.7 1068.5,1399.5 1070.5,1398.6 1073.5,1396.8 1074.5,1396.8 1075,1397.5 1075.5,1399.7 1078.5,1398.8 1080,1399.2 1082.5,1398.1 1083.5,1398.1 1084.5,1400.4 1089.5,1396.7 1090.5,1396.7 1091,1397.3 1092,1397.2 1092.5,1396.8 1093,1392.6 1093.5,1390.6 1094.5,1390.6 1095,1388.9 1095.5,1386.4 1096.5,1386.4 1097,1387.2 1097.5,1388.6 1098,1370.9 1099.5,1371.1 1100.5,1374.7 1102,1374.8 1103,1378 1104,1378 1107,1390.4 1108,1391.2 1109,1391.3 1110,1388.8 1111.5,1389.2 1112,1391.6 1112.5,1391.3 1113.5,1389.6 1115,1389.7 1115.5,1376.5 1116,1375 1117,1375 1117.5,1376.6 1122.5,1398.4 1123.5,1398.6 1125,1400.1 1126.5,1400.6 1128,1401.7 1131,1401.2 1131.5,1401.6 1133.5,1400.2 1134.5,1400.2 1135.5,1403.5 1136,1402.7 1136.5,1401.4 1137,1400.8 1139,1401.2 1141.5,1402.2 1143,1402.2 1144.5,1403.9 1145,1403.9 1145.5,1403 1146,1401.6 1148,1402 1149.5,1403 1150,1402.9 1150.5,1397.4 1151,1393.1 1152.5,1393.2 1154,1396.2 1154.5,1396.4 1155,1395.9 1157,1390.6 1158.5,1390.5 1159,1393.5 1160,1393.3 1160.5,1385.5 1161,1384.8 1162,1384.9 1163,1387.2 1163.5,1386 1164,1385.3 1165,1385.3 1165.5,1387.4 1166,1393.3 1168,1393.4 1168.5,1387.3 1169,1384.8 1170,1384.8 1170.5,1385.9 1171.5,1389.4 1172,1390 1174.5,1377.9 1175,1375.9 1176.5,1376 1177,1390.8 1177.5,1389.3 1178,1388.4 1179,1388.4 1179.5,1389.6 1180,1395.1 1180.5,1387.8 1182,1388 1187.5,1402.1 1188,1402.7 1188.5,1402.7 1189.5,1405.3 1190,1405.9 1190.5,1405.9 1191.5,1404.5 1195,1405.2 1196.5,1404.6 1199,1405.3 1200,1404.8 1205,1406.5 1206,1405.1 1209.5,1405.7 1211,1405.9 1212,1404.8 1216,1394.5 1217.5,1394.5 1218,1398.2 1220,1394.8 1221.5,1394.6 1222,1397.5 1225.5,1385.3 1227,1385.3 1227.5,1396.5 1229,1393 1230.5,1392.7 1231,1398.1 1231.5,1398.1 1232,1393.6 1232.5,1387.3 1234,1387.4 1237.5,1396.2 1238,1396.6 1238.5,1388.7 1240,1388.7 1242,1394.8 1242.5,1395.8 1243.5,1396 1245.5,1390.6 1246,1390 1247,1390 1247.5,1392.9 1248,1396.3 1249.5,1396.4 1250,1401.6 1250.5,1404 1251,1404.4 1251.5,1403.3 1252,1400 1253.5,1400.1 1254.5,1401.5 1255.5,1401.5 1256,1403.6 1257.5,1405.7 1258,1405.1 1258.5,1403.5 1260,1403.7 1263.5,1406.8 1266.5,1406.1 1268.5,1405.4 1269.5,1405.4 1270,1407.6 1270.5,1408.5 1272.5,1408.7 1273,1408.1 1273.5,1406 1274,1404.7 1276,1405.2 1277,1406 1277.5,1403.4 1279,1403.5 1279.5,1404.2 1280,1404.2 1280.5,1403.5 1281,1399.5 1281.5,1388 1282,1383.3 1283,1383.4 1283.5,1384.2 1285.5,1392.3 1286,1387.6 1287.5,1388.1 1291,1399.8 1291.5,1400.7 1293,1400.9 1294.5,1398.3 1297,1391.2 1297.5,1390.4 1298.5,1390.6 1299,1394.3 1299.5,1401.8 1300.5,1399.6 1301.5,1399.2 1302,1399.3 1302.5,1396.2 1303,1389.8 1304.5,1390 1307.5,1403.1 1313,1412.9 1315.5,1413.4 1316.5,1410.4 1318.5,1410.9 1320,1411.9 1322,1412.3 1325.5,1414.3 1326,1411.7 1327.5,1411.8 1329.5,1413.1 1333.5,1411.6 1334.5,1411.7 1335,1413.4 1335.5,1414.4 1338,1411.5 1338.5,1407.2 1340,1407.4 1340.5,1408.1 1341.5,1407.4 1342,1406.8 1344,1407.1 1344.5,1406.5 1345,1404.1 1345.5,1394 1347,1394 1350.5,1403.2 1351,1399.8 1352.5,1399.9 1353.5,1402.5 1354,1400.9 1354.5,1384.6 1356,1384.7 1357.5,1390.8 1358,1391.9 1358.5,1391.9 1359,1397 1359.5,1397.6 1360,1397.1 1361,1397.1 1362.5,1400.6 1364,1400.7 1364.5,1402 1366,1402 1366.5,1405 1367,1386.3 1368.5,1386.3 1371,1396.4 1373.5,1406.9 1374,1408.2 1374.5,1406.2 1376,1406.3 1381.5,1416.2 1384.5,1415.9 1385.5,1417 1391.5,1415.6 1392,1415.6 1392.5,1416.1 1393,1417.2 1393.5,1415.9 1394,1414.1 1394.5,1413 1396.5,1413.4 1399,1415.1 1399.5,1414.1 1400,1411.5 1401,1411.5 1405.5,1401.9 1406.5,1401.5 1407,1401.5 1408,1407.3 1409.5,1402.1 1410,1401.3 1411,1401.3 1411.5,1406.5 1412,1409.6 1412.5,1408.4 1413,1398.5 1414.5,1398.8 1416.5,1403.9 1417,1402.5 1417.5,1396.8 1418.5,1396.8 1419,1397.6 1420,1400.5 1420.5,1400.7 1421,1398.8 1422.5,1398.8 1423,1409.1 1423.5,1409.8 1424,1409.8 1424.5,1406.5 1425,1406.5 1425.5,1405.9 1427,1402 1428.5,1402 1429,1410.5 1430,1410.9 1430.5,1400.9 1432,1401.1 1436,1409.8 1439.5,1415.4 1440,1415.8 1442.5,1413.9 1444,1413.9 1445,1418.1 1448,1418.1 1448.5,1417.5 1449,1415.8 1449.5,1415.2 1451.5,1415.7 1455,1418.2 1456,1415.9 1457,1415.5 1458.5,1415.6 1460.5,1414 1462,1413.7 1463,1412.8 1463.5,1411.4 1464,1402.5 1464.5,1399.9 1465.5,1399.9 1466,1400.8 1467,1404.1 1468,1404.3 1468.5,1405.3 1469,1404 1469.5,1396.6 1470.5,1396.6 1471,1397.1 1475,1408.2 1475.5,1401.3 1476,1398 1477,1398 1477.5,1398.9 1479.5,1405 1480,1402.4 1480.5,1400.5 1481.5,1400.5 1482,1401.4 1484.5,1409.7 1485,1410.9 1485.5,1409.2 1486.5,1409.3 1487.5,1406.4 1488.5,1406.4 1490.5,1410.7 1491,1411 1491.5,1408 1492.5,1408 1493,1408.6 1495.5,1415 1497.5,1414.8 1498,1415.2 1498.5,1418.5 1500,1418.8 1503.5,1416.6 1505,1416.6 1505.5,1418 1509.5,1416.7 1511.5,1417 1513,1416.6 1513.5,1415.8 1517.5,1402 1518.5,1401.6 1519,1401.7 1519.5,1400.7 1520.5,1397.7 1522,1397.9 1522.5,1407.8 1523,1404.9 1524,1405 1524.5,1405.6 1525,1407 1525.5,1407.1 1526.5,1404.2 1527,1393.5 1528.5,1393.8 1529,1396 1530,1395.7 1531,1395.8 1531.5,1406.7 1532.5,1411 1533,1412.6 1534.5,1413 1535,1407.8 1535.5,1398.7 1537,1399 1538.5,1405.6 1539,1397.4 1540,1397.6 1540.5,1398.4 1542,1403.3 1542.5,1403 1543,1399.1 1544,1399.3 1544.5,1400.5 1545,1398.8 1546.5,1398.7 1547,1407.2 1548.5,1403.6 1550,1404 1550.5,1413.2 1551,1417.4 1552,1417.1 1552.5,1417.1 1553,1417.9 1553.5,1421.2 1554,1423 1555,1422.6 1559.5,1424.1 1562.5,1423.9 1563,1425.2 1564,1425.3 1564.5,1424.4 1565,1421.7 1567,1422 1570.5,1424.4 1571,1422.3 1573,1422.7 1576,1424.6 1578.5,1422.8 1580,1422.7 1580.5,1424.9 1581,1425.7 1582.5,1424.4 1584,1420 1590.5,1399.1 1591,1398.3 1592,1398.3 1592.5,1403.9 1593,1410.1 1596.5,1393.5 1597,1392.5 1598,1392.5 1598.5,1397 1599,1408.1 1599.5,1406.5 1601,1406.5 1601.5,1414.3 1605.5,1414.4 1606,1407.5 1606.5,1406.1 1607.5,1406.1 1608,1407.5 1609.5,1413.3 1610,1393.3 1610.5,1386.3 1611.5,1386.3 1612,1387.6 1616.5,1406.1 1617,1401.1 1618.5,1401.2 1623.5,1421.2 1624,1422.8 1628.5,1424.8 1631,1424.1 1633,1423.3 1634,1423.3 1634.5,1425.9 1638.5,1424.3 1639.5,1424.3 1640,1426.2 1642,1425.7 1643,1425.1 1644.5,1421.9 1645,1419.6 1646,1418.6 1647.5,1415.2 1648,1407.3 1649.5,1407.3 1650,1409.1 1650.5,1409.9 1651.5,1409.9 1652,1417 1652.5,1419 1653,1408.2 1654.5,1408.3 1655.5,1410.9 1656,1401.3 1656.5,1400.6 1657.5,1400.6 1658,1402.1 1662,1418.2 1662.5,1419.7 1666,1419.8 1666.5,1417.6 1667,1417.6 1667.5,1417.1 1669.5,1410.1 1670,1409.3 1671,1409.4 1671.5,1419.8 1673,1417.8 1674.5,1417.6 1675,1419.8 1675.5,1419 1677.5,1419.1 1678.5,1418 1679.5,1418 1680,1421 1680.5,1425 1682.5,1424.7 1683,1424.9 1684,1427.5 1684.5,1426.8 1685,1424.3 1686,1423.8 1687,1424.2 1689,1426.5 1691.5,1426.1 1692,1426.4 1693,1428.1 1694.5,1427.7 1695,1427.3 1695.5,1426.2 1697.5,1425.7 1700,1424 1701.5,1424 1702,1425.7 1702.5,1425.8 1704.5,1424.8 1705.5,1424.8 1706,1425.3 1707.5,1423.6 1708,1418.7 1709.5,1418.8 1710,1419.8 1711,1418.7 1712.5,1418.5 1713,1419.9 1714,1419.6 1714.5,1407 1715,1402.7 1716,1402.7 1716.5,1403.6 1720,1413.7 1720.5,1406.9 1722,1406.9 1722.5,1408.6 1723,1409.1 1723.5,1407 1724,1406.4 1725,1406.4 1725.5,1412.2 1726,1416.6 1726.5,1410.8 1727.5,1410.8 1728,1411.2 1729,1414.1 1729.5,1404.5 1731,1404.5 1733,1411.1 1733.5,1412.8 1734,1411.4 1734.5,1406.8 1735.5,1406.8 1736,1407.4 1738.5,1415.2 1739,1416.5 1740,1416.5 1740.5,1417.2 1741,1415.2 1742.5,1415.2 1746.5,1422.7 1751,1426.8 1754.5,1425.6 1755.5,1425.8 1756,1426.7 1763,1411 1764,1411 1764.5,1410.3 1765.5,1407.2 1766,1406.6 1767,1406.7 1767.5,1414.6 1770,1408.7 1771.5,1408.8 1772,1415.4 1772.5,1418.6 1774,1418.6 1774.5,1407.6 1776,1407.8 1776.5,1399 1777.5,1399.1 1778,1399.6 1780,1406.8 1781.5,1406.9 1782.5,1409.5 1783,1411.1 1783.5,1412 1784.5,1412.1 1785,1417.2 1785.5,1405.3 1786.5,1405.5 1787,1406 1788.5,1411.4 1789,1410.9 1792,1400.8 1793.5,1400.7 1794,1421.4 1796,1422.1 1797.5,1422.3 1798,1424.3 1799.5,1424.3 1800,1426.7 1800.5,1427.2 1801,1422.8 1802.5,1422.9 1806.5,1430.8 1808.5,1432.4 1809.5,1432.8 1812.5,1431.5 1813.5,1431.5 1814,1432.6 1815,1432.7 1818,1431.6 1820,1430.1 1824.5,1422.2 1826,1422.3 1826.5,1428.4 1827,1428.1 1827.5,1427.1 1828,1420.1 1828.5,1419.1 1829.5,1419.1 1830,1419.9 1831.5,1415.7 1832,1415.2 1833.5,1415.1 1834.5,1411.5 1836,1411.5 1836.5,1422.2 1838.5,1418.3 1839,1417.7 1840.5,1413.9 1842,1413.7 1842.5,1425.6 1843,1425 1844,1424.8 1846,1421.5 1847.5,1421.5 1848,1425.9 1848.5,1423.4 1849,1412.1 1850.5,1412.5 1854.5,1424.9 1855,1420.7 1855.5,1417.5 1856.5,1417.5 1857,1418.1 1860.5,1427 1861,1427.9 1862,1430.9 1862.5,1432 1863,1431.4 1864,1431.4 1867.5,1428.7 1868.5,1428.7 1869,1430.5 1869.5,1433.5 1874.5,1430 1876,1430.2 1876.5,1433.5 1877,1434.3 1880,1434.4 1880.5,1433.4 1881,1431.3 1881.5,1430.5 1883.5,1431.1 1885.5,1432.4 1886,1430.7 1887.5,1430.6 1889.5,1432.1 1891.5,1431.8 1892.5,1433.7 1894.5,1431.9 1895,1430.8 1900,1412.8 1901.5,1412.6 1902,1421.9 1902.5,1423.6 1904,1420.1 1905.5,1420.2 1906,1425.7 1908,1422.4 1909.5,1422.2 1910,1424.8 1910.5,1426.4 1911,1425.8 1911.5,1414.5 1912,1406.8 1913.5,1407.1 1918.5,1425.8 1919,1427.1 1920.5,1427 1921,1426.2 1922,1426.1 1923,1424 1923.5,1423.4 1924.5,1423.4 1925,1425 1925.5,1425.8 1926.5,1424.4 1927.5,1424.5 1928.5,1431.7 1929.5,1433 1930,1432.7 1930.5,1429.4 1932,1429.8 1934.5,1433.5 1937,1434.8 1939,1434.5 1940,1437.5 1942,1438.1 1942.5,1438.1 1943,1436.5 1943.5,1435.6 1945.5,1436 1947,1435.2 1948,1435.3 1948.5,1436.4 1949,1437 1950.5,1435.8 1952,1432.8 1952.5,1431.3 1953,1421.9 1954,1421.9 1954.5,1422.5 1955.5,1425.8 1956.5,1423.8 1958,1423.6 1958.5,1430.1 1963,1416.8 1963.5,1415.9 1964.5,1416 1965,1418.1 1965.5,1426.5 1967,1426.6 1967.5,1431.5 1968.5,1431.3 1969,1430.8 1970,1430.5 1970.5,1427.7 1971,1423.3 1972,1423.3 1972.5,1423.9 1973,1424 1974,1421.8 1975.5,1421.8 1976,1423.7 1976.5,1422.9 1977.5,1422.9 1978,1425.3 1978.5,1432.1 1979,1431.2 1979.5,1423.1 1981,1423.3 1982.5,1427 1983.5,1424.4 1984.5,1424.4 1985.5,1426.7 1987.5,1432.3 1989,1434.7 1989.5,1433.2 1990,1432.7 1991,1432.7 1996,1439.4 1997,1440.7 1998,1440.7 1998.5,1440.2 1999,1437.1 2001,1437.5 2003.5,1439 2004,1438.9 2004.5,1438.3 2005,1434.1 2006.5,1433.8 2007,1434 2008.5,1431.7 2009,1423.3 2009.5,1418 2010.5,1418 2011,1419 2013.5,1428.4 2015.5,1421.9 2017,1421.9 2017.5,1426.6 2022.5,1403.9 2023,1403.3 2024,1403.4 2024.5,1406.1 2025,1403.5 2025.5,1402.3 2026.5,1402.4 2027.5,1419.7 2029,1419.5 2029.5,1424.5 2030.5,1421.1 2032,1421.2 2032.5,1425.1 2033,1424.1 2034.5,1424.2 2035,1433.1 2035.5,1430.3 2036,1425 2037.5,1425.2 2041.5,1439.6 2042,1439.7 2043,1442.6 2044,1442.7 2044.5,1442.1 2045,1440.9 2047.5,1441.2 2052,1443.1 2052.5,1442.8 2053,1440.6 2055,1440.9 2057,1442 2057.5,1439 2059,1439.1 2061,1441.1 2064.5,1435.4 2066,1435.5 2066.5,1436.2 2068,1435.1 2068.5,1434 2071.5,1434 2072,1432.8 2072.5,1429.4 2074,1429.8 2074.5,1430.8 2075,1426.5 2075.5,1418.5 2077,1418.7 2078,1423.4 2078.5,1422.8 2079,1421.4 2080.5,1421.5 2081,1428.7 2082.5,1428.8 2083,1434.4 2084,1434.5 2084.5,1427.5 2086,1427.6 2086.5,1417.6 2087,1415.3 2088,1415.3 2088.5,1416.5 2091,1426.2 2091.5,1424.2 2093,1424.3 2093.5,1435.9 2095.5,1436.8 2096.5,1437.1 2098,1439.7 2098.5,1431.8 2099,1430 2100,1430.1 2100.5,1431.2 2104.5,1444.8 2105,1445.2 2107,1444.6 2108,1444.6 2109,1446.7 2113.5,1445.5 2114.5,1445.6 2115,1447 2119.5,1447.4 2120,1446.5 2120.5,1443.5 2122,1443.6 2124.5,1445.9 2128,1445.1 2128.5,1445.1 2129,1445.8 2129.5,1447.8 2131.5,1447.9 2132.5,1445.8 2133,1444.5 2134,1437.6 2135.5,1437.7 2136,1437 2137.5,1433.3 2138,1432.6 2139,1432.7 2139.5,1436.3 2140,1441.2 2141,1441 2141.5,1436.6 2143,1436.7 2145,1440.6 2145.5,1441.1 2146,1430.5 2146.5,1425.3 2147.5,1425.4 2148,1426 2150,1432.7 2151,1432.8 2151.5,1434.1 2152,1439.6 2152.5,1441.3 2153,1441.6 2153.5,1427.2 2155,1427.3 2159.5,1441.5 2160,1442 2161,1440.2 2161.5,1440.2 2163,1437.6 2164.5,1437.4 2165,1440 2165.5,1446 2166.5,1446.5 2167,1446.5 2167.5,1447.1 2168,1449.3 2172,1446.4 2173,1446.4 2173.5,1447.5 2174,1449.8 2178,1449.1 2179,1449.5 2181.5,1447.9 2183,1448 2184,1450.9 2186,1451 2186.5,1448.2 2188.5,1448.4 2189.5,1448.8 2193.5,1436.9 2195,1436.7 2195.5,1441.4 2198,1436.7 2199.5,1432.6 2200,1431.7 2200.5,1431.7 2201,1430.8 2202.5,1425.4 2203,1424.2 2204,1424.2 2204.5,1425.8 2205,1438.9 2205.5,1433.4 2206,1429 2207,1429 2207.5,1425.3 2208,1420.4 2209,1420.4 2209.5,1421.1 2213.5,1434.3 2214,1416.9 2215,1416.9 2215.5,1417.7 2224,1448.5 2224.5,1449.4 2227.5,1447.4 2228.5,1447.4 2229,1447.9 2230,1451.3 2233.5,1451.5 2234,1450.6 2234.5,1449 2235,1447.8 2237,1448.2 2241,1450.8 2242.5,1450.3 2246,1451.2 2246.5,1450.9 2247,1448.8 2249,1449.2 2252,1451.1 2252.5,1450.2 2260,1429.3 2260.5,1428.2 2261.5,1428.3 2262,1430.3 2262.5,1442.3 2263,1441.8 2263.5,1437.2 2264,1422 2265.5,1422 2268,1431.1 2268.5,1432 2269.5,1432.1 2271.5,1437.9 2272,1434.8 2273,1434.9 2273.5,1435.5 2274,1427 2275,1427.1 2275.5,1428 2277.5,1435.4 2278,1435.8 2279,1433.5 2280.5,1433.5 2281,1441.1 2281.5,1442.8 2282.5,1444.4 2284,1444.4 2286.5,1447.4 2287.5,1447.5 2288,1449.3 2289.5,1450.8 2292,1449.3 2293.5,1449.3 2294.5,1453 2297.5,1453.1 2298,1452.1 2298.5,1449.3 2300.5,1449.7 2301.5,1450.3 2303.5,1449.3 2304.5,1449.4 2305,1450 2306,1453.3 2310,1453.6 2311,1449.7 2312.5,1449.5 2314.5,1451 2315,1450.8 2317,1447.3 2318.5,1447.2 2319.5,1446.3 2321,1446.4 2321.5,1445.7 2322,1445.7 2322.5,1445 2325.5,1436.1 2327,1436.1 2327.5,1442 2328,1443.1 2328.5,1431.1 2330,1431.3 2334.5,1444.8 2338.5,1431.4 2339,1430.4 2340,1430.5 2340.5,1433.2 2341,1444.3 2341.5,1447.6 2344.5,1448.2 2345,1436.7 2345.5,1435 2346.5,1435.1 2347.5,1437.7 2350,1445.4 2351,1442.9 2352.5,1442.9 2353,1451 2353.5,1444.6 2355,1444.9 2356,1447.1 2358,1447.7 2364,1456.4 2364.5,1454.3 2366.5,1454.7 2369,1456.4 2370,1455.2 2372,1455.7 2374,1456.8 2374.5,1455.5 2375,1453.7 2375.5,1451.2 2376,1449.5 2376.5,1448.2 2381,1431.8 2381.5,1431.3 2382.5,1431.3 2383,1443.7 2385,1438.9 2386.5,1438.9 2387,1445.5 2387.5,1445.9 2388,1439.1 2389,1439.1 2390,1436.2 2391.5,1436.2 2392,1445.4 2392.5,1446.7 2393,1443.3 2394.5,1443.5 2397,1449.1 2398,1449.2 2398.5,1451.2 2403.5,1451.2 2404.5,1449.8 2405.5,1449.9 2406.5,1451.9 2407,1451.9 2410,1446.2 2410.5,1445.6 2411.5,1445.6 2412,1446.6 2412.5,1453.1 2413,1450.4 2414.5,1450.6 2420,1459.5 2421,1459.8 2421.5,1459.4 2422.5,1454.6 2424,1454.7 2428.5,1459.3 2429.5,1459.4 2430,1458 2431,1457.6 2433.5,1458.3 2438,1451.3 2439,1451.2 2439.5,1450.1 2443,1437.6 2444.5,1437.6 2445,1444.9 2445.5,1449.6 2446,1445.5 2446.5,1429.1 2448,1429.1 2451.5,1446 2453,1441.7 2453.5,1441.2 2454.5,1441.2 2455,1448.1 2455.5,1447.5 2456.5,1447.6 2457,1449.4 2457.5,1448.9 2458.5,1448.9 2459,1450 2460,1450.1 2460.5,1446.1 2461,1443.7 2461.5,1443.7 2461.5,1487.2 2461,1501.3 2460.5,1501.3 2459.5,1500.9 2455.5,1488 2455,1489 2454.5,1489 2453.5,1489.5 2453,1491.1 2452.5,1491.4 2451,1491.3 2449,1499.4 2448.5,1500.2 2447.5,1500.1 2447,1495 2446.5,1484.8 2446,1496.8 2445.5,1497.5 2444.5,1497.5 2443.5,1494.5 2443,1493.9 2441.5,1493.9 2441,1486.1 2439.5,1481.2 2436,1475.3 2435.5,1479.5 2434,1479.6 2429.5,1474.8 2428.5,1474.8 2427.5,1472.6 2423.5,1474.4 2421,1474.9 2420.5,1474.2 2420,1472.4 2418.5,1472.4 2418,1473.3 2417.5,1475.1 2416,1475.4 2415.5,1476.2 2412,1481.7 2411,1481.7 2410.5,1481 2410,1479 2409,1479.1 2408.5,1481.4 2408,1489.7 2406.5,1489.5 2405,1484 2404.5,1484.1 2403,1487.9 2401.5,1487.6 2401,1482 2400.5,1492 2399,1492 2397,1487.1 2395,1494.8 2393.5,1494.9 2393,1489.1 2392,1491.6 2391.5,1491.6 2391,1492.1 2389.5,1497.5 2389,1498 2388,1498 2387.5,1487.7 2387,1480.2 2385.5,1480 2385,1480.8 2382.5,1486.8 2381,1486.4 2380.5,1477.9 2379.5,1477 2377.5,1476.9 2373,1471.3 2372.5,1474.1 2371,1474 2369,1472.4 2366.5,1472 2365.5,1470.6 2365,1470.6 2361,1473.9 2360,1474 2359.5,1474.6 2359,1478.4 2358,1478.5 2357,1478 2356.5,1483.1 2356,1484 2355,1483.9 2354.5,1483.2 2353,1480.1 2352.5,1484.9 2352,1487.7 2351,1487.6 2350.5,1486.9 2350,1485.4 2349.5,1484.7 2345.5,1497.4 2344,1497.7 2343.5,1490.8 2343,1492.4 2342.5,1493.5 2341.5,1493.4 2341,1490.1 2340.5,1478.7 2339.5,1480.2 2338.5,1480.4 2337,1484.8 2336,1487.2 2335,1487.1 2334,1489.7 2333.5,1490.5 2332.5,1490.4 2332,1490.9 2331,1494 2330.5,1494.3 2329.5,1494.3 2329,1476.6 2325.5,1475.9 2325,1482.5 2324.5,1487.9 2323,1487.4 2319,1476 2318.5,1475.1 2317,1475.2 2316.5,1472 2316,1468.1 2313,1468.4 2312.5,1467.7 2308,1468.7 2307,1468.2 2306.5,1466 2302.5,1467.9 2300.5,1468.1 2300,1467 2296.5,1469.2 2294.5,1469.6 2294,1468.3 2293.5,1468.4 2291.5,1469.9 2290,1469.8 2289,1465.4 2288.5,1465.4 2288,1466.5 2287.5,1469.9 2287,1472.4 2285.5,1472.3 2284.5,1471.2 2284,1471.6 2283.5,1480.3 2283,1481 2282,1481 2281,1478.2 2280.5,1490.4 2279,1490.3 2277.5,1483.7 2276.5,1482.1 2274.5,1487.3 2273,1487.4 2272.5,1481 2271,1485.9 2269.5,1486.1 2269,1478 2268,1478 2267.5,1481.4 2267,1489.7 2266,1489.7 2265.5,1488.5 2264.5,1484.2 2264,1483.8 2263,1485.9 2262,1485.9 2261.5,1484.5 2261,1474.6 2260.5,1474.9 2259,1474.6 2258.5,1467.4 2258,1466.1 2257.5,1465.5 2257,1466.4 2254,1466.3 2252,1468.3 2250.5,1468.5 2250,1468 2249,1464.4 2246.5,1464.3 2245.5,1464.8 2244.5,1467.5 2243.5,1467.5 2237.5,1464.7 2237,1467.3 2236.5,1469 2235.5,1469 2232,1465.1 2230,1466 2227.5,1466.4 2227,1465.8 2226.5,1464.6 2225,1465.7 2219.5,1476.6 2218,1476.7 2216,1483.8 2212,1506.5 2211.5,1508 2210.5,1508 2210,1501.8 2209.5,1479.3 2209,1477.8 2204.5,1493.6 2204,1494.6 2203,1494.6 2202.5,1489.5 2202,1485.9 2199.5,1497.6 2199,1498.7 2198,1498.6 2197.5,1493.9 2197,1479.3 2196.5,1473.5 2194,1467.9 2192.5,1465.1 2190.5,1465.4 2189,1464.7 2186,1465.2 2185,1463.6 2181.5,1463.5 2180.5,1464.2 2179.5,1466.4 2178,1466.4 2176.5,1467.2 2175,1467.4 2174.5,1466.5 2174,1464.3 2168.5,1469.2 2167,1469.4 2166.5,1468.6 2166,1467.2 2164.5,1468.5 2163,1468.7 2160,1474.4 2158.5,1474.6 2157.5,1477.2 2157,1477.9 2156,1477.8 2155.5,1475.7 2155,1471.6 2154.5,1471.6 2154,1472.5 2151,1479.9 2150.5,1480.5 2149.5,1480.4 2149,1475.2 2148.5,1471.2 2147,1471.1 2146.5,1486 2145,1485.9 2143.5,1480.9 2143,1480.5 2142,1478.3 2141.5,1489.4 2141,1489.3 2140,1488.9 2138.5,1484 2133,1464.7 2132.5,1463.7 2129.5,1462.5 2129,1463.6 2128,1463.6 2125,1461.7 2123,1462.3 2120.5,1462.4 2119.5,1460 2115.5,1459.7 2114.5,1463.1 2114,1464.4 2112.5,1464.2 2110,1461.9 2108.5,1463.1 2107,1463 2106,1459.7 2105.5,1459.1 2105,1459.3 2104,1461.4 2102,1461 2101.5,1461.7 2101,1463.2 2100.5,1470.7 2100,1471.6 2099,1471.5 2098.5,1470.9 2094.5,1483.1 2094,1483.7 2093,1483.6 2092.5,1478.1 2092,1481.6 2091,1481.5 2090.5,1480.8 2089,1476.2 2088.5,1489.3 2087,1489.2 2085,1480.5 2084.5,1483.8 2084,1484.5 2083,1484.4 2082.5,1483.1 2080.5,1476.1 2080,1475.1 2079.5,1472.6 2078.5,1469.1 2078,1468.7 2077.5,1481.8 2077,1485.7 2076,1485.7 2075.5,1484.4 2074,1478.9 2073.5,1478.8 2073,1494.3 2071.5,1494.1 2070,1488.1 2069.5,1486.7 2069,1487.7 2068,1487.7 2067.5,1480.6 2067,1476.2 2063,1460.3 2062.5,1459.4 2062,1460.9 2061.5,1464.6 2060,1464.5 2055,1456.1 2054.5,1455.8 2053.5,1457.3 2048.5,1456.2 2048,1459.8 2046.5,1459.7 2043,1456.9 2042.5,1457.8 2036,1482.4 2034.5,1482.3 2034,1467.9 2032.5,1471.6 2031.5,1473.5 2030.5,1473.5 2030,1472.2 2029.5,1468.7 2028,1469 2027.5,1487.4 2027,1494.1 2026,1494 2025.5,1492.9 2022,1474.2 2021.5,1473 2020,1473 2019.5,1468.5 2015.5,1468.3 2015,1474.1 2014.5,1480.5 2013,1480.1 2011,1473.2 2010.5,1477.2 2009.5,1477.2 2009,1476.5 2002,1456.4 2001,1455.2 2000,1455.2 1997.5,1455.5 1997,1454.1 1996.5,1453.3 1995.5,1453.2 1995,1453.9 1994,1457.5 1993.5,1457.7 1993,1458.5 1990,1465.6 1989.5,1465.9 1988.5,1465.9 1987.5,1457.5 1987,1463.8 1986.5,1466.6 1986,1466.6 1985,1466.2 1984,1464 1983.5,1468.4 1983,1471.3 1982,1471.3 1981.5,1470.6 1980,1470.2 1979.5,1467.2 1978,1471.2 1976.5,1471.1 1976,1463 1975.5,1463.9 1974.5,1465.2 1973.5,1465.2 1972.5,1461.1 1971.5,1461.2 1970,1465.8 1968.5,1465.8 1968,1461.4 1967,1465.9 1966.5,1470 1966,1471.6 1965.5,1472.6 1964,1479.2 1962.5,1479.2 1962,1466.7 1961.5,1468.8 1961,1469.7 1960,1469.6 1959.5,1468.9 1958,1465.5 1957.5,1472.4 1956,1472.1 1953,1464.1 1952.5,1463.7 1952,1461.4 1951.5,1464.2 1951,1464.2 1950,1463.7 1946.5,1455.2 1946,1455.6 1944.5,1455.5 1943,1454.2 1941.5,1455.7 1940,1455.6 1939.5,1450.7 1934.5,1450.6 1934,1453.1 1933.5,1453.5 1931,1452.9 1930.5,1453.5 1930,1457.3 1929.5,1457.2 1928,1456.6 1927,1457.5 1926.5,1468.7 1926,1474.7 1925.5,1474.6 1924.5,1474.1 1923,1469.6 1922.5,1468.7 1922,1468.7 1921.5,1465 1920,1460.4 1919.5,1474.7 1918,1474.5 1917,1470.4 1916,1466.8 1915.5,1467.1 1914.5,1469.8 1913.5,1472.1 1912.5,1472.1 1912,1468.6 1911.5,1459.1 1911,1459 1910.5,1467.2 1910,1477.7 1909.5,1477.7 1908.5,1477.1 1905,1463.4 1904.5,1462.1 1903.5,1462.1 1903,1458.3 1902.5,1464.3 1902,1465.2 1901,1465.5 1900.5,1467.3 1900,1468.2 1899,1468.1 1898.5,1461.2 1897.5,1462.9 1896,1462.8 1895.5,1452.4 1895,1453.3 1894.5,1460.3 1894,1460.7 1893,1460.7 1887.5,1450.2 1886,1451.3 1884.5,1451 1883.5,1447.7 1883,1447 1879.5,1447.2 1879,1448.7 1878.5,1449.6 1876,1449.1 1874,1449.1 1871,1451.6 1869.5,1451.6 1869,1448.7 1868,1449.1 1866,1449.1 1864.5,1450 1861.5,1452.7 1860,1453.1 1859,1451.3 1858,1452.2 1857.5,1455.4 1857,1461.5 1856.5,1462.6 1855.5,1462.6 1855,1461.8 1853.5,1458.1 1853,1458.9 1852.5,1460.3 1851,1460.3 1850.5,1454.8 1849.5,1454.8 1849,1455.6 1848.5,1457.3 1847.5,1457.3 1846.5,1455.1 1845,1454.8 1844.5,1456.6 1843,1456.3 1842,1454.9 1841.5,1461.3 1841,1472.1 1839.5,1472.3 1839,1470.7 1837.5,1464.9 1837,1466.9 1836.5,1472.7 1835.5,1472.7 1835,1471.4 1832,1458.5 1831.5,1457.1 1831,1457.1 1830.5,1456.1 1830,1461.2 1828.5,1461.2 1827.5,1457.9 1827,1457.1 1826,1456.6 1824,1451.4 1823.5,1454.7 1822,1454.6 1819.5,1449.7 1818,1449.8 1814.5,1448.2 1814,1449.6 1812.5,1449.5 1809,1446.2 1808,1446 1807.5,1449.5 1807,1449.5 1805.5,1449.8 1801,1462.7 1800,1465.1 1799,1465 1798.5,1464.5 1797.5,1468.5 1797,1469.8 1796,1469.7 1795.5,1467.8 1795,1457.7 1794,1461 1792.5,1460.9 1792,1456.9 1791.5,1456.9 1791,1465.6 1790.5,1476.1 1789,1475.8 1785,1462 1784.5,1476 1784,1480.1 1783,1480 1782.5,1478.6 1781.5,1474.4 1780.5,1473.8 1780,1472.8 1779.5,1480 1778.5,1479.9 1778,1478.3 1776,1467.3 1775.5,1466 1775,1461.8 1774.5,1459.1 1774,1476.6 1773.5,1477.6 1772.5,1477.5 1772,1475.7 1771,1471.2 1770.5,1470.6 1770,1470.5 1769,1470 1767,1462.5 1766.5,1465.7 1765,1465.6 1764.5,1464 1764,1462.8 1763.5,1462.8 1763,1461.2 1762.5,1457 1759.5,1446.6 1758.5,1446.3 1755.5,1443.8 1755,1444 1754.5,1445.1 1753,1444.9 1751,1443.1 1750,1442.6 1749.5,1444.5 1749,1445.3 1747.5,1445.3 1745.5,1448.6 1744,1449 1743.5,1449.6 1741,1455.4 1739.5,1455.4 1739,1451.6 1734,1473.3 1733.5,1473.8 1732.5,1473.7 1732,1466 1731.5,1452.9 1731,1456.2 1730.5,1468.1 1730,1468.7 1729,1468.7 1728.5,1467.5 1723.5,1452 1723,1451 1722,1451.4 1721.5,1452.9 1720.5,1459.4 1719.5,1459.4 1718.5,1462.1 1718,1463.1 1717,1463.1 1716.5,1459 1716,1450.8 1715.5,1457.9 1714,1457.9 1713,1454.6 1712.5,1454.7 1711.5,1457.4 1710,1457.7 1709.5,1448.1 1707.5,1445.9 1707,1447.2 1705.5,1447.2 1702.5,1442.6 1701,1442.6 1699.5,1440.8 1696,1440.8 1695,1443.7 1694.5,1444.8 1693,1444.7 1690.5,1442.9 1685.5,1441.1 1685,1441.9 1684.5,1445.4 1682.5,1445.6 1681,1447.9 1679.5,1448 1679,1447.3 1677,1451.6 1676.5,1452.2 1675.5,1452.1 1675,1447.9 1674.5,1448.1 1674,1451.7 1673.5,1462.5 1673,1464.5 1672,1464.5 1671.5,1463.6 1668,1452.7 1667,1450.6 1663,1464.1 1661.5,1464.1 1661,1452.6 1660.5,1464.5 1659,1464.4 1657.5,1460.1 1657,1461.7 1656.5,1462.1 1655.5,1462 1655,1454.9 1653,1461.7 1651.5,1461.9 1651,1455.2 1650.5,1447.3 1649.5,1446.9 1649,1456.6 1648.5,1460.8 1647.5,1460.8 1647,1460.2 1641,1443.8 1638.5,1441.4 1636.5,1441.5 1634,1442 1633,1439.8 1632.5,1440 1629,1440.6 1627.5,1438.9 1626.5,1439.4 1622,1448.9 1620,1452.7 1619,1452.7 1618.5,1451.7 1618,1455.1 1617,1455.1 1616,1457.2 1614.5,1457.2 1614,1456.4 1613.5,1457.6 1613,1458 1612,1458 1611.5,1452.8 1611,1451.3 1610.5,1451.4 1610,1455 1609.5,1463.8 1608,1463.6 1605.5,1454.5 1605,1455.4 1603.5,1460.5 1603,1460.9 1602.5,1462.8 1600.5,1472.6 1599,1472.8 1598.5,1461 1598,1454 1597.5,1455.6 1597,1461.4 1596.5,1464.1 1595.5,1464.1 1595,1463.5 1594.5,1465.1 1594,1465.5 1593,1465.5 1592.5,1459.9 1592,1452.2 1590.5,1446.9 1588.5,1446.6 1583,1439.3 1582.5,1442.7 1581,1442.7 1579.5,1441.3 1578,1442.6 1576.5,1442.7 1576,1441.7 1575.5,1439.8 1573,1439.8 1572,1438.1 1569.5,1438.1 1568,1441 1567,1441 1562,1438.5 1561.5,1439.4 1561,1441.1 1560.5,1441.6 1559.5,1441.6 1556,1439.6 1555.5,1440.7 1554.5,1440.6 1552,1442.5 1550,1446.1 1548.5,1446.2 1548,1446.9 1544.5,1457.8 1543,1457.5 1542.5,1446.8 1542,1446 1541.5,1445.9 1541,1452.5 1540.5,1462.4 1539.5,1462.3 1539,1461.7 1535,1448.4 1531.5,1458.4 1530,1458.2 1529.5,1444.2 1528.5,1444 1528,1445.7 1527.5,1455.5 1527,1458.9 1526,1458.7 1525.5,1457.8 1525,1456.2 1524.5,1457 1524,1458.6 1522.5,1458.6 1522,1450.3 1521.5,1445.4 1521,1444.8 1520.5,1446.1 1519,1446.3 1518.5,1442.7 1518,1438.1 1516.5,1436.1 1514,1433.3 1513.5,1434.6 1512,1434.8 1510,1433.5 1507.5,1433.8 1506.5,1433.3 1506,1432.1 1505.5,1431.6 1503.5,1431.8 1500.5,1434.7 1497.5,1437 1496,1437.2 1495.5,1436.1 1495,1433.2 1494.5,1436 1494,1436.1 1492.5,1435.8 1491.5,1436.9 1491,1438.8 1490,1438.8 1489.5,1439.6 1484.5,1455.5 1484,1456 1483,1456 1482.5,1447 1482,1440.2 1477,1457.4 1475.5,1457.4 1475,1454.9 1474.5,1456.6 1473,1456.8 1472.5,1442 1472,1445.3 1471.5,1445.3 1471,1445.9 1468.5,1452.5 1467,1452.8 1466.5,1444.2 1466,1438.9 1465.5,1440.2 1465,1449 1464.5,1450.7 1463.5,1450.7 1463,1449.9 1457,1434.9 1456.5,1434.2 1455,1434 1452.5,1436.2 1451,1436.3 1450.5,1433.3 1450,1431.3 1447,1433.4 1445,1433.8 1444.5,1433.1 1443.5,1430.7 1442,1430.7 1438.5,1433.8 1437,1434 1434,1436.9 1433,1436.9 1432.5,1437.7 1431.5,1441.5 1431,1442.9 1427.5,1455.2 1427,1455.7 1426,1455.7 1425.5,1448.6 1425,1449.4 1424,1453.4 1423.5,1454.6 1422.5,1454.6 1422,1452.7 1421.5,1442.9 1421,1440.2 1419.5,1442.8 1418.5,1442.8 1418,1441.8 1417,1443.5 1416,1443.5 1415.5,1442.7 1415,1439.2 1414.5,1439.2 1414,1444 1413.5,1444.7 1412.5,1444.7 1412,1443.8 1410,1447.8 1408.5,1448 1408,1443.6 1407.5,1438.7 1407,1439.4 1405.5,1439.4 1405,1437.7 1404,1436.9 1400,1432.6 1399,1433.9 1398,1433.9 1393.5,1430.7 1393,1434 1391.5,1433.9 1388,1431.6 1386,1430.6 1385.5,1433 1385,1434 1384,1434 1379.5,1430.7 1378.5,1430.3 1377.5,1432.8 1376,1432.7 1375.5,1433.6 1375,1435.6 1374.5,1448.4 1374,1448.4 1373,1447.9 1371,1441.8 1369.5,1445 1368.5,1445 1368,1448.8 1367.5,1462 1366,1462.1 1365.5,1460.7 1361,1444.8 1360.5,1450.5 1359.5,1450.4 1359,1449.8 1357,1443 1356.5,1444.1 1355.5,1444.1 1355,1445.2 1352.5,1457.4 1352,1463 1351.5,1463 1351,1464.7 1350.5,1467.2 1350,1467.6 1349,1467.5 1348.5,1454.4 1347.5,1450.5 1347,1451.4 1346.5,1453.7 1346,1455.4 1345,1455.3 1344.5,1454.2 1344,1441.8 1343.5,1436.6 1340.5,1431.2 1340,1431 1339,1432.1 1337.5,1432.3 1337,1431.3 1336.5,1428.9 1336,1427.7 1335.5,1429.5 1335,1429.5 1331.5,1428.3 1331,1429.7 1330.5,1431.7 1329.5,1431.7 1324.5,1427.3 1323.5,1426.8 1323,1429.1 1322.5,1430.1 1321.5,1430 1319,1427.7 1318.5,1428.3 1318,1429.5 1314.5,1428.3 1312,1430.2 1310,1430.6 1308,1433.7 1307,1433.6 1304.5,1437.3 1304,1437.2 1303,1436.6 1302.5,1433.6 1302,1436.3 1301.5,1439.7 1300,1439.2 1299.5,1437.6 1298.5,1434.9 1296.5,1434.7 1296,1437.2 1295.5,1450.9 1295,1453.4 1294,1453.3 1293.5,1452 1289.5,1435.3 1289,1435.8 1287,1440.2 1285.5,1440 1285,1433.1 1284.5,1432.9 1284,1435.6 1282.5,1435.5 1280.5,1429.9 1279.5,1429.7 1276,1425.5 1274,1425.5 1271.5,1423.1 1271,1423.3 1268,1422.6 1266.5,1422.8 1264.5,1423 1264,1422.3 1262,1423.2 1260,1423.5 1259.5,1422.3 1259,1420.5 1256.5,1420.6 1255.5,1422.8 1255,1423.3 1253.5,1423.5 1253,1426.4 1252,1426.7 1249.5,1432.1 1248,1432.1 1247.5,1429.6 1246,1434.1 1243.5,1444.6 1243,1445.4 1242,1445.4 1241.5,1435.9 1241,1429.7 1240.5,1429.8 1240,1434.1 1239.5,1436.1 1238.5,1436.1 1237.5,1434.4 1237,1434.3 1234,1444.2 1232.5,1444.5 1232,1439.5 1229.5,1448.9 1228,1448.9 1227.5,1429.5 1227,1429.5 1226.5,1433.4 1226,1438.4 1225,1438.4 1224.5,1437.4 1224,1435.5 1222.5,1435.3 1222,1434.4 1221.5,1447.2 1221,1448.5 1220,1448.5 1219.5,1447.2 1216.5,1436.5 1216,1435.3 1215.5,1435.3 1215,1434.5 1214.5,1429.3 1213.5,1425.7 1213,1428.7 1211.5,1428.5 1207,1422.6 1206,1423.7 1204.5,1424 1204,1422.4 1203.5,1419.5 1200,1421.3 1198,1421.3 1197.5,1420.2 1195.5,1420.8 1194,1420.4 1193.5,1419 1192,1418.6 1190.5,1419.7 1189.5,1421.2 1188.5,1421.2 1187,1422.2 1186.5,1424 1181.5,1448.1 1180,1448 1179.5,1432.7 1177.5,1437.8 1176,1437.9 1175.5,1435.8 1175,1437.1 1174.5,1437.7 1173.5,1437.6 1173,1433.4 1172,1435.5 1171,1435.5 1170.5,1432.6 1170,1430.3 1169.5,1430.3 1168.5,1430.6 1168,1437.4 1166.5,1437.2 1166,1435.9 1165.5,1437.8 1162.5,1451.6 1162,1452.7 1161,1452.6 1160.5,1447.9 1160,1433 1159.5,1438.8 1158,1438.6 1153.5,1425.8 1152,1421.9 1151,1421.8 1147,1416.6 1146,1416.9 1145.5,1420.4 1145,1420.9 1144,1420.8 1140.5,1418 1140,1418.6 1137.5,1418.1 1136,1417.7 1134,1419.9 1132.5,1420.1 1132,1418.4 1131.5,1415.9 1129.5,1416.4 1123,1424.5 1121.5,1424.5 1121,1421.9 1120.5,1422.8 1120,1427.7 1119.5,1431.5 1119,1431.5 1118,1431 1117.5,1429.8 1116.5,1432.3 1115.5,1432.3 1115,1431.6 1113.5,1428.3 1113,1427.9 1112.5,1446.3 1111,1446.3 1110.5,1444.7 1106,1427.8 1105.5,1427 1105,1428.1 1101,1440.6 1100.5,1441 1099.5,1441 1099,1426.5 1098,1426.2 1097.5,1430.8 1097,1438.9 1096,1438.9 1095.5,1438.3 1089.5,1416.8 1089,1416.3 1088.5,1418.5 1087,1418.5 1085,1416.8 1083.5,1416.8 1079,1414 1077.5,1416.5 1076.5,1416.4 1073.5,1415 1072.5,1415.3 1069.5,1415.6 1069,1414.1 1068.5,1414.7 1064,1426.2 1063.5,1426.7 1062.5,1426.7 1062,1425.4 1060,1431.5 1057,1440.2 1053.5,1454.6 1053,1456.1 1052,1456.1 1051.5,1452.8 1051,1428.6 1050.5,1428.6 1050,1434.7 1049.5,1446.8 1049,1446.8 1048,1446.4 1045.5,1437.8 1045,1436.7 1044.5,1434.8 1044,1451.3 1042.5,1451.2 1039.5,1439.3 1039,1440 1038.5,1441.7 1038,1442.9 1037,1442.8 1036.5,1441.5 1036,1432.6 1035.5,1434.1 1034.5,1436.8 1033.5,1436.8 1033,1435.9 1032.5,1420.6 1031.5,1418.4 1031,1419.6 1030.5,1421.7 1030,1421.7 1029,1421.2 1025.5,1414.9 1025,1415.3 1024.5,1416.5 1023.5,1416.4 1022,1415.7 1020,1415.3 1019.5,1414.1 1017.5,1412.9 1015.5,1412.6 1014.5,1415.6 1014,1416.4 1012.5,1416.3 1008.5,1412.6 1008,1414.1 1005,1413.5 1004.5,1413.9 1004,1415.9 1003.5,1417 1002.5,1417 1002,1418.6 995.5,1446.5 995,1447 994,1446.9 993.5,1436.6 989.5,1453.5 989,1454.4 988,1454.3 987.5,1447.2 987,1432 985.5,1438.7 985,1450.6 984.5,1452.2 983.5,1452.1 983,1450.1 982.5,1452.1 981,1452.2 980.5,1443.8 979.5,1448.6 979,1449.4 978,1449.3 977.5,1435.7 977,1433.8 976,1437.4 975.5,1438.4 974.5,1438.3 974,1434.5 973.5,1425 972.5,1424.7 972,1428.4 971.5,1434.2 970.5,1434.1 969.5,1433 969,1434.3 967.5,1434.1 967,1424.4 966,1421 965.5,1420.9 965,1419.6 964.5,1416.7 961.5,1411.1 961,1411.3 960.5,1414.7 959,1414.6 955.5,1408.7 955,1408.8 952,1409.1 951,1407.1 950.5,1407.1 946,1410 944.5,1410 944,1409.2 943.5,1407.4 942.5,1408 942,1410.1 941.5,1413.7 940,1413.9 939.5,1413.1 939,1413.6 936,1421.3 934.5,1421.1 934,1419.9 932.5,1420 929.5,1428.5 928,1428.6 927.5,1418.6 923.5,1430.6 923,1431.6 922,1431.5 921.5,1429 921,1414.8 920,1414.9 919.5,1422.8 919,1424.5 918,1424.4 917.5,1423.4 916.5,1425.1 915.5,1425 915,1421.6 914.5,1414 914,1414.9 912.5,1414.8 912,1419 910.5,1418.8 909,1414.2 908.5,1413.3 908,1411 907.5,1409.4 906,1407.1 904,1406.6 901,1403.3 898.5,1403.3 897.5,1401.6 896.5,1401.5 893.5,1403.2 891.5,1403.3 890.5,1400.7 886.5,1400.2 885.5,1402 884.5,1401.8 881,1400 880,1401.5 879.5,1401.4 877,1403 875.5,1402.9 875,1401.9 874.5,1400 874,1398.9 873.5,1399.8 873,1401.8 872.5,1408.6 871.5,1408.4 871,1409.8 865,1433.8 863.5,1439.5 862,1439.2 861.5,1425.5 861,1435.4 860,1435.2 859,1431.8 857.5,1438.1 857,1439.2 856,1439 855.5,1431.2 855,1409.8 854,1409.6 853.5,1420.3 853,1425.7 852,1425.5 851.5,1424.4 848,1405.9 847.5,1404.3 846,1404.4 845.5,1401.8 845,1396.5 844.5,1395.3 843,1393 841,1392.1 839.5,1395.7 838,1395.5 833.5,1391.6 832.5,1393.8 831.5,1393.8 830,1392.8 829,1392.8 827,1392.5 826,1390.7 822,1390.5 821.5,1393.7 821,1395.1 820,1395.1 818.5,1394.1 818,1396 817.5,1395.9 816.5,1396.3 816,1400.1 814.5,1400 814,1398.9 813.5,1398.5 812.5,1398.9 812,1399.9 811,1401.6 810,1401.6 807.5,1403 807,1419.6 806.5,1420.9 805.5,1420.8 805,1419.1 802.5,1407.1 802,1428.4 801.5,1435.4 800.5,1435.4 800,1433.8 795.5,1408.2 795,1410.7 794,1410.6 793.5,1412.8 791,1425.2 789.5,1425.2 789,1403.9 788.5,1402 788,1407.7 786.5,1407.7 782.5,1392.8 782,1391.7 781.5,1392.6 781,1394.6 779.5,1394.3 775,1389.1 774.5,1389.6 774,1390.8 772.5,1391.1 768,1388.9 767.5,1391.2 767,1392.8 766,1392.7 760.5,1389.2 759.5,1390.2 757.5,1390 755.5,1390.1 752,1392.6 750.5,1392.8 750,1393.4 748,1400.8 747.5,1405.8 747,1409.2 746,1409.1 745,1411.1 744,1411.1 743.5,1408.9 743,1404.9 742,1407.9 740,1413.6 738.5,1413.3 738,1399.1 736,1404.4 734.5,1404.4 734,1403.8 733,1407.9 732.5,1409.1 731.5,1409.1 731,1406.7 730.5,1405.7 728.5,1412.9 728,1413.4 727,1413.4 726.5,1405.2 726,1396 725,1395.7 724.5,1395 724,1395.4 723,1396.9 721.5,1396.9 721,1391 719.5,1390.9 717.5,1389.9 716,1389.4 714,1388.4 713,1389 711,1389.3 710,1387.9 709,1388.5 707,1388.7 706.5,1388.1 706,1386.8 705.5,1386.1 701.5,1387.6 699,1387.9 698,1385.9 696,1385.6 695.5,1386.1 695,1388.1 694.5,1389.2 693.5,1389.1 692,1388.3 691.5,1388.4 687.5,1397.2 687,1398.8 686,1404.2 685.5,1411.4 685,1420.5 683.5,1420.1 683,1420.4 682,1425.8 681.5,1426.4 680.5,1426.4 680,1407.4 679.5,1405.6 679,1404.8 678.5,1406.1 677,1406.3 676.5,1400.8 676,1400 675.5,1405.7 674.5,1405.6 674,1407.5 672,1416.5 671.5,1417 670.5,1417 670,1406.6 669.5,1398.7 669,1403.9 667.5,1403.8 667,1402.2 666.5,1401 665,1400.8 663.5,1407 663,1407.7 662,1407.6 661.5,1397.7 661,1397.4 658.5,1395.3 657.5,1401.6 657,1401.6 656,1401 653.5,1394.4 650,1386.6 647.5,1386.7 647,1383.6 646.5,1382.7 643,1382.5 642.5,1384.9 642,1386 639.5,1385.2 637,1388.4 636,1388.3 635.5,1387.6 635,1388.4 633.5,1392.1 629.5,1406.4 628,1406.2 627.5,1390.1 627,1396.9 626.5,1401.3 625,1400.8 623,1395 622.5,1406.7 622,1406.7 621,1406.1 619,1396.9 618.5,1402.1 617,1402 615.5,1396.3 615,1395.3 614.5,1402.5 613,1402 611,1394.7 610.5,1404.1 610,1409.7 609,1409.5 608.5,1408.5 605,1393.6 604.5,1395.1 604,1402.3 602.5,1402.1 595.5,1381.9 595,1383.1 594.5,1385.1 594,1385.1 593,1384.5 589.5,1377.8 588.5,1376.3 588,1379.9 587,1379.8 584,1378 583.5,1378.6 582.5,1378.5 580,1376.4 579,1376.8 577,1377.3 576,1376.7 575.5,1375.1 572.5,1375.6 570,1375.5 569.5,1374.2 569,1373.8 568.5,1376.1 568,1378.8 567.5,1380.4 566,1379.9 565.5,1378.9 564.5,1380.1 564,1386.6 562.5,1386.3 561,1383 560.5,1390.8 560,1402.3 558.5,1402 556,1392.1 555.5,1393.4 554,1400.3 552.5,1400 552,1381.5 549.5,1380.8 548.5,1382.2 547,1381.9 546.5,1379.9 546,1379.7 545.5,1380.9 545,1380.7 544,1380.1 541.5,1374.5 540.5,1374.3 535,1367.4 534.5,1368.4 533,1368.1 529.5,1365.2 527.5,1364.6 527,1366.1 526.5,1368.5 525,1368.1 521,1363.2 519.5,1362.7 519,1364.6 517.5,1364.5 513.5,1361.4 513,1361.9 512.5,1363.1 510,1362.3 509,1363.7 508,1367.2 506.5,1367.1 504.5,1369.8 503.5,1369.9 501,1374.5 499.5,1374.3 499,1367.9 498.5,1366 498,1374.3 496.5,1373.9 495,1370 494.5,1379.7 493,1379.3 491,1372 490.5,1373.8 490,1377.7 489,1377.4 488.5,1376.6 485,1363.8 484.5,1362.8 484,1362.7 483.5,1364.4 483,1364.3 481.5,1363.3 481,1379.5 479.5,1379 475.5,1366 475,1365.1 474.5,1366.8 473.5,1366.5 473,1365.6 468,1352.7 467.5,1352.1 466.5,1352.3 464.5,1351.1 463.5,1353.8 462,1353.3 460.5,1351.5 460,1352.6 458.5,1352.5 455.5,1348.6 453,1348.1 452,1345.9 450.5,1345.5 444,1359 443.5,1359.3 442.5,1359 442,1360.4 440,1369.2 439.5,1370.7 438.5,1370.4 438,1367.2 437.5,1357.5 435.5,1361.9 434,1361.7 433.5,1354.4 429,1352.8 428.5,1367.3 427,1366.9 423.5,1353.9 423,1353.4 419,1371.4 417.5,1370.9 417,1346.7 416.5,1357.5 415,1357 407.5,1332.5 407,1331.4 404.5,1331.4 404,1332.2 402,1331.1 398.5,1330.2 398,1329 397,1328.6 394.5,1327.5 393.5,1325.8 391,1324.5 390.5,1326.8 390,1328.4 388.5,1327.6 385.5,1323.8 384,1324.3 383,1324.2 382,1324 380.5,1325.7 379,1325.1 378.5,1326 377.5,1328.9 377,1331.7 376.5,1331.7 375.5,1334.6 375,1335.2 374,1334.5 373.5,1331.9 373,1323.2 372.5,1322.6 370.5,1321.6 367.5,1325.8 366,1324.9 365.5,1318.6 365,1317 364,1316.2 363.5,1329.5 363,1334.5 362,1332.4 361.5,1330.3 361,1327.2 360.5,1324.6 359.5,1322.3 359,1320.1 358.5,1322.8 357,1319.7 355,1309.6 354.5,1309.9 353,1307.2 352,1296.6 351,1294.5 349.5,1292.1 349,1292.3 348,1291 345,1286.2 343.5,1283.9 339,1275 338,1272.8"/>
</g>
<rect x="1999" y="216" width="198" height="9" fill="#800000" shape-rendering="crispEdges"/>
<text class="leg" transform="translate(2215.8,250.2) scale(0.960,1)">(a)</text>
<rect x="1999" y="322" width="198" height="9" fill="#ff0000" shape-rendering="crispEdges"/>
<text class="leg" transform="translate(2215.8,356.2) scale(0.960,1)">(b)</text>
<rect x="1999" y="428" width="198" height="9" fill="#000000" shape-rendering="crispEdges"/>
<text class="leg" transform="translate(2215.8,462.2) scale(0.960,1)">(c)</text>
<rect x="1999" y="534" width="198" height="9" fill="#0000ff" shape-rendering="crispEdges"/>
<text class="leg" transform="translate(2215.8,568.2) scale(0.960,1)">(d)</text>
</svg>
</body>
</html>
